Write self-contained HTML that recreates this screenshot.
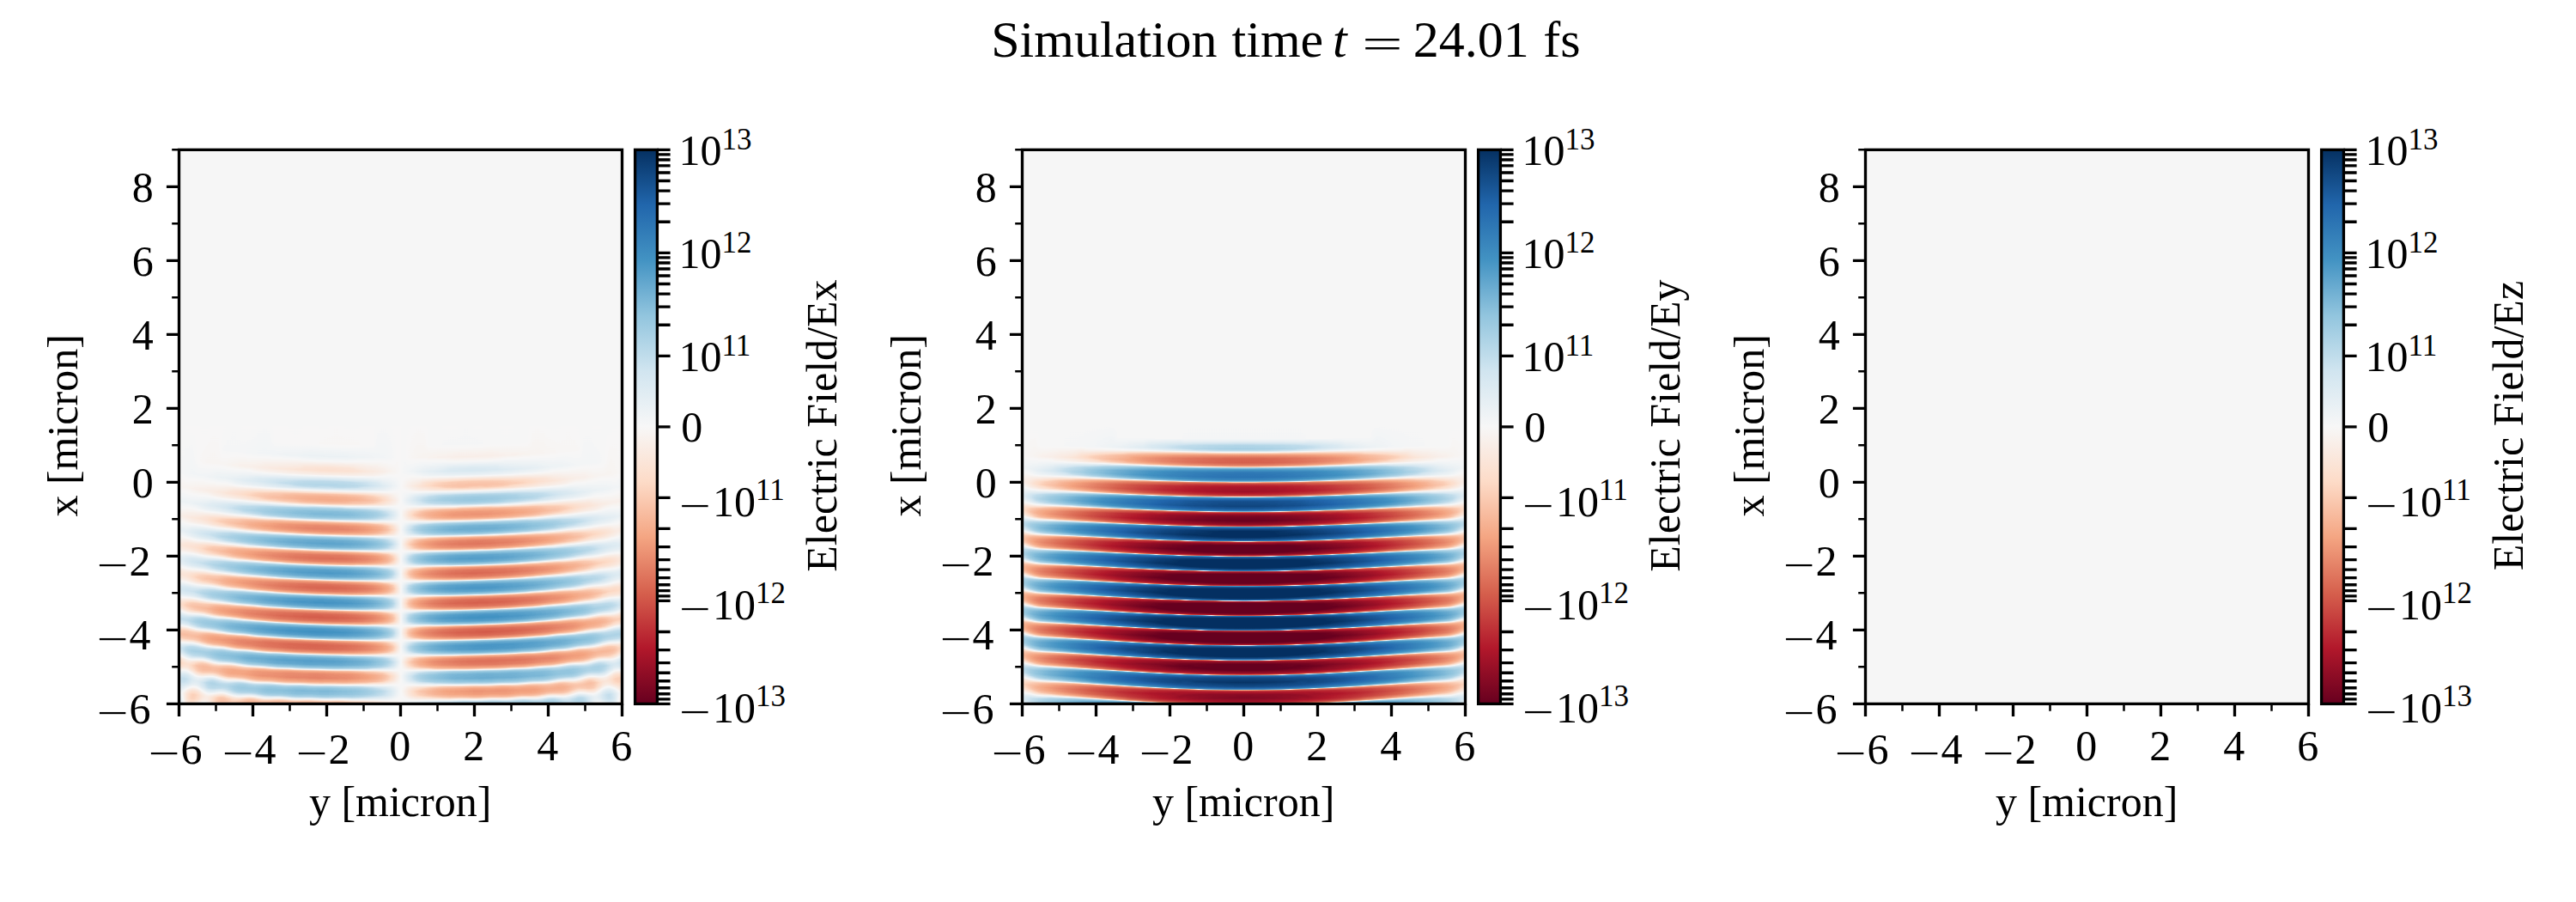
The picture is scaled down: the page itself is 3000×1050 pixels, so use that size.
<!DOCTYPE html><html><head><meta charset="utf-8"><title>Simulation time t = 24.01 fs</title>
<style>html,body{margin:0;padding:0;background:#fff}#f{position:relative;width:3000px;height:1050px;overflow:hidden;background:#fff}.im{position:absolute;top:174.35px;width:516px;height:645px;background:#f6f6f6;overflow:hidden}.fl{position:absolute;left:-6px;top:0;width:528px;height:645px;background:#808080;filter:url(#cm)}.fl i{position:absolute;top:322px;bottom:0;width:6.5px;display:block}.cb{position:absolute;top:174.35px;width:25.8px;height:645px;background:linear-gradient(#053061,#2166ac 10%,#4393c3 20%,#92c5de 30%,#d1e5f0 40%,#f7f7f7 50%,#fddbc7 60%,#f4a582 70%,#d6604d 80%,#b2182b 90%,#67001f)}
.a0{background:linear-gradient(#808080 0%,#808080 16.41%,#7c7c7c 21.4%,#858585 26.78%,#797979 32%,#8a8a8a 37.19%,#737373 42.65%,#8b8b8b 47.87%,#868686 49.23%,#727272 51.97%,#6f6f6f 53.13%,#747474 54.53%,#8e8e8e 57.59%,#929292 58.78%,#8d8d8d 59.98%,#727272 62.69%,#6d6d6d 63.97%,#737373 65.17%,#989898 67.92%,#9f9f9f 69.23%,#969696 70.63%,#6b6b6b 73.1%,#5f5f5f 74.19%,#626262 75.66%,#8d8d8d 78.44%,#969696 79.76%,#8d8d8d 81.08%,#656565 83.9%,#5f5f5f 85.18%,#656565 86.42%,#878787 89.09%,#919191 90.4%,#929292 91.72%,#838383 95.7%,#9b9b9b 100%)}
.a1{background:linear-gradient(#808080 0%,#818181 16.76%,#7c7c7c 21.75%,#868686 27.05%,#777 32.39%,#8a8a8a 37.54%,#707070 42.92%,#757575 44.31%,#8b8b8b 47.06%,#8f8f8f 48.26%,#8a8a8a 49.61%,#727272 52.32%,#6f6f6f 53.48%,#757575 54.88%,#939393 57.86%,#979797 59.06%,#919191 60.29%,#6e6e6e 63.08%,#676767 64.4%,#6e6e6e 65.56%,#969696 68.27%,#9f9f9f 69.54%,#929292 71.01%,#5f5f5f 73.57%,#585858 75%,#5f5f5f 76.35%,#909090 78.79%,#9c9c9c 80.15%,#979797 81.35%,#707070 83.98%,#676767 85.29%,#6d6d6d 86.61%,#959595 89.47%,#a0a0a0 90.91%,#9d9d9d 92.3%,#808080 96.21%,#888 100%)}
.a2{background:linear-gradient(#7f7f7f 0%,#828282 17.03%,#7c7c7c 22.14%,#868686 27.32%,#747474 32.7%,#8c8c8c 37.93%,#878787 39.32%,#717171 42.03%,#6e6e6e 43.19%,#747474 44.58%,#909090 47.41%,#949494 48.61%,#8e8e8e 49.96%,#717171 52.67%,#6d6d6d 53.87%,#747474 55.26%,#959595 58.13%,#9a9a9a 59.29%,#909090 60.76%,#636363 63.62%,#5e5e5e 64.74%,#686868 66.06%,#9a9a9a 68.85%,#a1a1a1 69.97%,#949494 71.32%,#5f5f5f 73.72%,#575757 75.27%,#5f5f5f 76.66%,#a0a0a0 79.45%,#a6a6a6 80.73%,#a0a0a0 82%,#777 84.4%,#6b6b6b 85.68%,#707070 86.96%,#969696 89.78%,#9e9e9e 91.22%,#989898 92.61%,#767676 95.32%,#6c6c6c 96.56%,#6a6a6a 97.95%,#737373 100%)}
.a3{background:linear-gradient(#7f7f7f 0%,#838383 17.22%,#7a7a7a 22.48%,#878787 27.67%,#727272 32.97%,#777 34.37%,#8d8d8d 37.11%,#909090 38.27%,#8a8a8a 39.63%,#707070 42.34%,#6c6c6c 43.5%,#737373 44.89%,#949494 47.68%,#989898 48.84%,#909090 50.23%,#6d6d6d 53.02%,#676767 54.22%,#707070 55.61%,#969696 58.48%,#9b9b9b 59.6%,#8f8f8f 61.07%,#5f5f5f 63.7%,#5a5a5a 65.02%,#626262 66.29%,#a0a0a0 69.08%,#a6a6a6 70.36%,#9e9e9e 71.59%,#5f5f5f 74.11%,#575757 75.58%,#5f5f5f 76.9%,#a0a0a0 79.3%,#aaa 81%,#a0a0a0 82.7%,#717171 84.87%,#636363 86.22%,#676767 87.46%,#8b8b8b 90.13%,#939393 91.45%,#8c8c8c 92.88%,#6a6a6a 95.51%,#5f5f5f 96.75%,#606060 98.18%,#6e6e6e 100%)}
.a4{background:linear-gradient(#7f7f7f 0%,#7f7f7f 12.5%,#838383 17.49%,#797979 22.76%,#898989 28.02%,#707070 33.24%,#767676 34.64%,#909090 37.38%,#949494 38.54%,#8d8d8d 39.94%,#6e6e6e 42.69%,#696969 43.85%,#717171 45.2%,#969696 47.95%,#9b9b9b 49.11%,#929292 50.5%,#676767 53.33%,#606060 54.53%,#6b6b6b 55.92%,#999 58.78%,#a0a0a0 59.95%,#929292 61.38%,#5f5f5f 63.82%,#585858 65.25%,#5f5f5f 66.49%,#a0a0a0 68.92%,#a9a9a9 69.74%,#ababab 70.67%,#a0a0a0 72.21%,#5f5f5f 74.38%,#555 75.93%,#5f5f5f 77.36%,#a0a0a0 79.57%,#ababab 81.19%,#a0a0a0 82.86%,#646464 85.22%,#595959 86.42%,#5f5f5f 88.27%,#848484 90.56%,#8f8f8f 91.87%,#8a8a8a 93.23%,#6c6c6c 95.78%,#646464 96.98%,#676767 98.34%,#7a7a7a 100%)}
.a5{background:linear-gradient(#808080 0%,#7e7e7e 12.77%,#838383 17.8%,#787878 22.99%,#8b8b8b 28.29%,#868686 29.76%,#717171 32.43%,#6e6e6e 33.51%,#757575 34.91%,#939393 37.65%,#989898 38.82%,#8f8f8f 40.21%,#696969 42.96%,#646464 44.16%,#6d6d6d 45.51%,#979797 48.22%,#9e9e9e 49.42%,#939393 50.77%,#626262 53.6%,#5d5d5d 54.8%,#5f5f5f 55.53%,#676767 56.15%,#a0a0a0 59.09%,#a5a5a5 60.29%,#9b9b9b 61.57%,#5f5f5f 64.05%,#565656 65.56%,#5f5f5f 66.83%,#a3a3a3 69.08%,#acacac 69.93%,#aeaeae 70.9%,#aaa 71.87%,#a0a0a0 72.6%,#5d5d5d 74.54%,#545454 75.27%,#515151 76.2%,#545454 77.13%,#5d5d5d 77.9%,#a0a0a0 79.99%,#aaa 81.19%,#a8a8a8 82.16%,#a0a0a0 83.01%,#5f5f5f 85.37%,#565656 86.69%,#575757 87.77%,#5e5e5e 88.78%,#8b8b8b 90.94%,#999 92.34%,#969696 93.65%,#797979 96.13%,#727272 97.25%,#757575 98.49%,#848484 100%)}
.a6{background:linear-gradient(#808080 0%,#7d7d7d 12.96%,#848484 18.11%,#777 23.22%,#8e8e8e 28.56%,#888 29.99%,#6e6e6e 32.7%,#6b6b6b 33.78%,#737373 35.18%,#969696 37.89%,#9b9b9b 39.05%,#919191 40.44%,#646464 43.23%,#5e5e5e 44.43%,#696969 45.74%,#9c9c9c 48.57%,#a2a2a2 49.73%,#979797 51.04%,#5f5f5f 53.83%,#5a5a5a 55.03%,#646464 56.35%,#a0a0a0 58.94%,#a9a9a9 60.53%,#a0a0a0 61.92%,#5e5e5e 64.2%,#545454 65.83%,#5f5f5f 67.3%,#a3a3a3 69.31%,#adadad 70.12%,#b0b0b0 71.13%,#acacac 72.1%,#a1a1a1 72.83%,#5a5a5a 74.65%,#505050 75.46%,#4d4d4d 76.47%,#505050 77.48%,#5a5a5a 78.33%,#a0a0a0 80.26%,#acacac 81.58%,#aaa 82.59%,#a1a1a1 83.44%,#5f5f5f 85.72%,#565656 86.88%,#575757 87.89%,#5f5f5f 88.82%,#979797 91.22%,#a4a4a4 92.45%,#a0a0a0 94.31%,#808080 96.52%,#767676 97.64%,#767676 98.76%,#7f7f7f 100%)}
.a7{background:linear-gradient(#7f7f7f 0%,#7d7d7d 13.2%,#858585 18.34%,#757575 23.49%,#7a7a7a 24.88%,#8e8e8e 27.63%,#909090 28.79%,#898989 30.22%,#6a6a6a 32.97%,#666 34.06%,#6f6f6f 35.41%,#999 38.16%,#9f9f9f 39.32%,#939393 40.71%,#5f5f5f 43.5%,#5b5b5b 44.66%,#656565 45.94%,#a0a0a0 48.68%,#a6a6a6 50%,#9e9e9e 51.24%,#5f5f5f 53.95%,#585858 55.3%,#606060 56.54%,#a1a1a1 59.02%,#a9a9a9 59.83%,#acacac 60.76%,#a9a9a9 61.61%,#a0a0a0 62.31%,#5c5c5c 64.32%,#535353 65.13%,#505050 66.1%,#545454 67.07%,#5f5f5f 67.8%,#a5a5a5 69.62%,#afafaf 70.43%,#b1b1b1 71.4%,#adadad 72.37%,#a1a1a1 73.1%,#585858 74.85%,#4d4d4d 75.7%,#4a4a4a 76.78%,#4f4f4f 77.9%,#5c5c5c 78.75%,#a4a4a4 80.5%,#adadad 81.23%,#b0b0b0 82.2%,#acacac 83.2%,#a3a3a3 84.02%,#636363 86.07%,#585858 87.07%,#585858 88.04%,#5f5f5f 88.89%,#a0a0a0 91.56%,#a8a8a8 92.84%,#a0a0a0 94.7%,#797979 96.79%,#6b6b6b 97.87%,#676767 98.88%,#6d6d6d 100%)}
.a8{background:linear-gradient(#7f7f7f 0%,#7d7d7d 13.43%,#878787 18.54%,#737373 23.72%,#797979 25.15%,#8f8f8f 27.86%,#939393 29.02%,#8a8a8a 30.46%,#676767 33.17%,#626262 34.29%,#6c6c6c 35.64%,#9d9d9d 38.43%,#a2a2a2 39.59%,#a0a0a0 40.25%,#979797 40.91%,#5f5f5f 43.54%,#595959 44.89%,#616161 46.13%,#a0a0a0 48.65%,#a9a9a9 50.23%,#a0a0a0 51.63%,#5f5f5f 53.99%,#555 55.57%,#5f5f5f 56.97%,#a2a2a2 59.21%,#ababab 60.02%,#aeaeae 60.99%,#aaa 61.88%,#a0a0a0 62.58%,#595959 64.47%,#4f4f4f 65.33%,#4c4c4c 66.33%,#515151 67.38%,#5e5e5e 68.15%,#a7a7a7 69.85%,#b1b1b1 70.67%,#b4b4b4 71.67%,#afafaf 72.68%,#a2a2a2 73.45%,#575757 75.08%,#4c4c4c 75.93%,#494949 77.01%,#4f4f4f 78.13%,#5c5c5c 78.95%,#a6a6a6 80.61%,#b0b0b0 81.42%,#b4b4b4 82.47%,#afafaf 83.55%,#a4a4a4 84.44%,#606060 86.42%,#575757 87.31%,#565656 88.39%,#5e5e5e 89.36%,#9c9c9c 91.87%,#a5a5a5 93.19%,#a0a0a0 94.5%,#5f5f5f 97.79%,#5b5b5b 98.84%,#5d5d5d 100%)}
.a9{background:linear-gradient(#7f7f7f 0%,#818181 8.82%,#7d7d7d 13.66%,#878787 18.77%,#717171 23.96%,#777 25.35%,#929292 28.1%,#959595 29.26%,#8c8c8c 30.69%,#636363 33.4%,#5e5e5e 34.52%,#6a6a6a 35.87%,#a0a0a0 38.51%,#a6a6a6 39.86%,#9d9d9d 41.1%,#5f5f5f 43.58%,#565656 45.16%,#5f5f5f 46.44%,#a1a1a1 48.72%,#a9a9a9 49.54%,#acacac 50.46%,#a0a0a0 51.97%,#5d5d5d 54.06%,#555 54.84%,#525252 55.8%,#555 56.7%,#5f5f5f 57.43%,#a4a4a4 59.44%,#adadad 60.26%,#b0b0b0 61.22%,#acacac 62.15%,#a0a0a0 62.89%,#585858 64.63%,#4d4d4d 65.48%,#4a4a4a 66.56%,#4f4f4f 67.61%,#5d5d5d 68.38%,#a0a0a0 69.66%,#a9a9a9 70.01%,#b4b4b4 70.86%,#b7b7b7 71.9%,#b2b2b2 72.95%,#a5a5a5 73.76%,#5e5e5e 75.04%,#565656 75.35%,#4b4b4b 76.2%,#474747 77.24%,#4d4d4d 78.37%,#5b5b5b 79.18%,#a0a0a0 80.5%,#a8a8a8 80.8%,#b2b2b2 81.62%,#b5b5b5 82.66%,#b1b1b1 83.75%,#a5a5a5 84.64%,#5f5f5f 86.42%,#525252 87.5%,#525252 88.7%,#5a5a5a 89.82%,#979797 92.18%,#a0a0a0 92.8%,#a3a3a3 93.5%,#a0a0a0 94.35%,#9a9a9a 94.81%,#5f5f5f 97.64%,#595959 98.76%,#5c5c5c 100%)}
.a10{background:linear-gradient(#808080 0%,#818181 8.94%,#7c7c7c 13.89%,#888 18.96%,#6e6e6e 24.15%,#767676 25.58%,#959595 28.33%,#999 29.49%,#8e8e8e 30.92%,#5f5f5f 33.63%,#5c5c5c 34.75%,#5f5f5f 35.53%,#676767 36.03%,#a0a0a0 38.47%,#a9a9a9 40.05%,#a0a0a0 41.37%,#5e5e5e 43.65%,#565656 44.43%,#535353 45.36%,#5f5f5f 46.87%,#a3a3a3 48.92%,#acacac 49.73%,#aeaeae 50.7%,#aaa 51.59%,#a0a0a0 52.28%,#5b5b5b 54.22%,#525252 55.03%,#4f4f4f 56.04%,#535353 57%,#5e5e5e 57.78%,#a6a6a6 59.6%,#b0b0b0 60.45%,#b3b3b3 61.46%,#aeaeae 62.46%,#a2a2a2 63.2%,#606060 64.47%,#575757 64.82%,#4c4c4c 65.67%,#484848 66.76%,#4d4d4d 67.8%,#5b5b5b 68.58%,#a0a0a0 69.74%,#ababab 70.12%,#b6b6b6 70.98%,#bababa 72.06%,#b6b6b6 73.1%,#a9a9a9 73.92%,#9f9f9f 74.23%,#5b5b5b 75.31%,#4d4d4d 75.97%,#464646 76.93%,#484848 78.17%,#545454 79.22%,#606060 79.64%,#a3a3a3 80.84%,#b0b0b0 81.58%,#b6b6b6 82.62%,#b2b2b2 83.82%,#a6a6a6 84.75%,#5e5e5e 86.42%,#4f4f4f 87.65%,#4e4e4e 89.01%,#585858 90.21%,#999 92.49%,#a1a1a1 92.92%,#a5a5a5 93.73%,#a0a0a0 95.05%,#606060 98.22%,#5d5d5d 99.11%,#616161 100%)}
.a11{background:linear-gradient(#808080 0%,#818181 8.94%,#7b7b7b 14.09%,#8a8a8a 19.16%,#848484 20.59%,#6f6f6f 23.26%,#6c6c6c 24.34%,#757575 25.77%,#999 28.56%,#9e9e9e 29.68%,#919191 31.11%,#5f5f5f 33.59%,#595959 34.95%,#626262 36.18%,#a1a1a1 38.51%,#a9a9a9 39.32%,#ababab 40.25%,#a0a0a0 41.68%,#5c5c5c 43.77%,#535353 44.58%,#505050 45.59%,#555 46.52%,#5f5f5f 47.21%,#a4a4a4 49.07%,#adadad 49.88%,#b0b0b0 50.89%,#acacac 51.86%,#a0a0a0 52.59%,#595959 54.37%,#4f4f4f 55.22%,#4c4c4c 56.23%,#525252 57.28%,#5e5e5e 58.05%,#a0a0a0 59.4%,#a8a8a8 59.75%,#b3b3b3 60.6%,#b6b6b6 61.65%,#b1b1b1 62.69%,#a3a3a3 63.47%,#5f5f5f 64.67%,#545454 65.05%,#494949 65.91%,#464646 66.95%,#4b4b4b 68%,#595959 68.77%,#a0a0a0 69.89%,#acacac 70.28%,#b8b8b8 71.13%,#bcbcbc 72.21%,#b8b8b8 73.26%,#ababab 74.11%,#a1a1a1 74.42%,#595959 75.46%,#4b4b4b 76.16%,#434343 77.17%,#454545 78.48%,#525252 79.53%,#5e5e5e 79.95%,#a3a3a3 81.08%,#b1b1b1 81.81%,#b7b7b7 82.82%,#b4b4b4 84.02%,#a7a7a7 84.95%,#5f5f5f 86.53%,#4d4d4d 87.85%,#4d4d4d 89.2%,#585858 90.36%,#a0a0a0 92.57%,#ababab 93.89%,#a9a9a9 94.93%,#a0a0a0 95.86%,#777 97.56%,#676767 98.53%,#626262 99.26%,#646464 100%)}
.a12{background:linear-gradient(#808080 0%,#818181 9.09%,#7a7a7a 14.24%,#8c8c8c 19.35%,#868686 20.78%,#6d6d6d 23.45%,#6a6a6a 24.54%,#747474 25.97%,#9d9d9d 28.75%,#a1a1a1 29.91%,#949494 31.27%,#5f5f5f 33.55%,#565656 35.14%,#5f5f5f 36.42%,#a2a2a2 38.66%,#ababab 39.47%,#adadad 40.44%,#aaa 41.29%,#a0a0a0 41.99%,#5a5a5a 43.92%,#505050 44.78%,#4e4e4e 45.78%,#535353 46.75%,#5e5e5e 47.48%,#a6a6a6 49.23%,#b0b0b0 50.08%,#b3b3b3 51.08%,#aeaeae 52.09%,#a1a1a1 52.86%,#585858 54.53%,#4d4d4d 55.38%,#4a4a4a 56.42%,#505050 57.51%,#5d5d5d 58.24%,#9f9f9f 59.48%,#aaa 59.87%,#b5b5b5 60.76%,#b9b9b9 61.84%,#b3b3b3 62.93%,#a5a5a5 63.7%,#5e5e5e 64.82%,#535353 65.21%,#474747 66.06%,#444 67.14%,#4a4a4a 68.27%,#595959 69.04%,#a1a1a1 70.09%,#adadad 70.47%,#bababa 71.32%,#bebebe 72.41%,#b9b9b9 73.49%,#adadad 74.26%,#a1a1a1 74.61%,#595959 75.58%,#494949 76.28%,#414141 77.28%,#434343 78.64%,#505050 79.72%,#5f5f5f 80.22%,#a5a5a5 81.27%,#b3b3b3 82%,#b9b9b9 83.09%,#b5b5b5 84.29%,#a8a8a8 85.26%,#5e5e5e 86.8%,#4e4e4e 88%,#4d4d4d 89.28%,#575757 90.4%,#5f5f5f 90.79%,#a0a0a0 92.45%,#aaa 93.19%,#aeaeae 94.12%,#acacac 95.12%,#a4a4a4 96.05%,#686868 98.45%,#5f5f5f 99.11%,#5e5e5e 100%)}
.a13{background:linear-gradient(#7f7f7f 0%,#818181 9.29%,#797979 14.4%,#8e8e8e 19.54%,#878787 20.94%,#6b6b6b 23.61%,#676767 24.69%,#727272 26.12%,#a0a0a0 28.91%,#a4a4a4 30.11%,#a0a0a0 30.84%,#979797 31.39%,#5e5e5e 33.55%,#565656 34.37%,#545454 35.33%,#5f5f5f 36.76%,#a3a3a3 38.78%,#adadad 39.63%,#b0b0b0 40.63%,#ababab 41.56%,#a0a0a0 42.26%,#595959 44.04%,#4f4f4f 44.89%,#4c4c4c 45.94%,#515151 46.98%,#5e5e5e 47.72%,#9f9f9f 49.03%,#a8a8a8 49.38%,#b3b3b3 50.23%,#b6b6b6 51.28%,#b0b0b0 52.32%,#a3a3a3 53.1%,#5f5f5f 54.37%,#565656 54.72%,#4b4b4b 55.57%,#484848 56.62%,#4e4e4e 57.7%,#5b5b5b 58.44%,#9f9f9f 59.6%,#acacac 60.02%,#b7b7b7 60.91%,#bbb 62.04%,#b5b5b5 63.12%,#a7a7a7 63.85%,#5f5f5f 64.9%,#515151 65.33%,#454545 66.22%,#414141 67.34%,#484848 68.5%,#575757 69.27%,#a0a0a0 70.24%,#afafaf 70.67%,#bcbcbc 71.56%,#bfbfbf 72.68%,#b9b9b9 73.84%,#aaa 74.61%,#5f5f5f 75.58%,#505050 76.01%,#434343 76.9%,#3f3f3f 78.02%,#454545 79.26%,#555 80.15%,#a0a0a0 81.23%,#adadad 81.62%,#b8b8b8 82.43%,#bcbcbc 83.51%,#b6b6b6 84.67%,#a9a9a9 85.57%,#5e5e5e 87.04%,#4e4e4e 88.16%,#4c4c4c 89.43%,#575757 90.6%,#5f5f5f 90.98%,#a0a0a0 92.57%,#ababab 93.3%,#afafaf 94.31%,#acacac 95.32%,#a3a3a3 96.17%,#5f5f5f 98.49%,#565656 100%)}
.a14{background:linear-gradient(#7f7f7f 0%,#828282 9.44%,#797979 14.59%,#909090 19.7%,#888 21.09%,#686868 23.76%,#646464 24.88%,#707070 26.32%,#a0a0a0 28.83%,#a6a6a6 30.26%,#9c9c9c 31.46%,#5d5d5d 33.67%,#545454 34.52%,#515151 35.53%,#555 36.38%,#5f5f5f 37.04%,#a6a6a6 38.93%,#afafaf 39.78%,#b2b2b2 40.83%,#adadad 41.8%,#a1a1a1 42.53%,#575757 44.2%,#4d4d4d 45.05%,#4a4a4a 46.13%,#4f4f4f 47.17%,#5d5d5d 47.91%,#a0a0a0 49.15%,#aaa 49.5%,#b5b5b5 50.35%,#b8b8b8 51.43%,#b2b2b2 52.52%,#a4a4a4 53.29%,#5e5e5e 54.49%,#555 54.84%,#494949 55.69%,#464646 56.77%,#4c4c4c 57.89%,#5a5a5a 58.67%,#a0a0a0 59.75%,#adadad 60.18%,#b9b9b9 61.07%,#bcbcbc 62.19%,#b6b6b6 63.27%,#a7a7a7 64.05%,#5f5f5f 65.02%,#505050 65.44%,#434343 66.33%,#3f3f3f 67.49%,#454545 68.61%,#555 69.43%,#a2a2a2 70.39%,#b1b1b1 70.82%,#bebebe 71.71%,#c1c1c1 72.83%,#bbb 74.03%,#aaa 74.85%,#5e5e5e 75.77%,#4f4f4f 76.2%,#424242 77.09%,#3e3e3e 78.21%,#454545 79.45%,#555 80.3%,#9f9f9f 81.31%,#aeaeae 81.73%,#bababa 82.59%,#bebebe 83.67%,#b8b8b8 84.87%,#aaa 85.76%,#a1a1a1 86.07%,#5e5e5e 87.15%,#4c4c4c 88.31%,#4a4a4a 89.67%,#555 90.87%,#5f5f5f 91.33%,#a1a1a1 92.88%,#aaa 93.58%,#aeaeae 94.47%,#acacac 95.39%,#a3a3a3 96.17%,#5e5e5e 98.3%,#565656 99.07%,#535353 100%)}
.a15{background:linear-gradient(#7f7f7f 0%,#828282 9.56%,#787878 14.74%,#7d7d7d 16.14%,#8f8f8f 18.77%,#919191 19.85%,#898989 21.25%,#656565 23.92%,#606060 25%,#6d6d6d 26.43%,#a0a0a0 28.83%,#a8a8a8 30.46%,#a0a0a0 31.62%,#5b5b5b 33.78%,#525252 34.67%,#4f4f4f 35.68%,#545454 36.57%,#5f5f5f 37.27%,#a7a7a7 39.05%,#b2b2b2 39.94%,#b4b4b4 40.98%,#afafaf 41.99%,#a2a2a2 42.72%,#5f5f5f 44%,#565656 44.31%,#4b4b4b 45.2%,#484848 46.28%,#4d4d4d 47.33%,#5a5a5a 48.07%,#a1a1a1 49.26%,#ababab 49.61%,#b6b6b6 50.5%,#bababa 51.63%,#b4b4b4 52.67%,#a6a6a6 53.44%,#5f5f5f 54.57%,#535353 54.95%,#474747 55.84%,#444 56.97%,#4a4a4a 58.09%,#585858 58.86%,#a1a1a1 59.91%,#afafaf 60.33%,#bbb 61.22%,#bebebe 62.35%,#b8b8b8 63.43%,#a9a9a9 64.2%,#5d5d5d 65.17%,#4e4e4e 65.6%,#424242 66.49%,#3e3e3e 67.65%,#444 68.81%,#545454 69.58%,#616161 69.85%,#a0a0a0 70.47%,#b2b2b2 70.94%,#bfbfbf 71.79%,#c3c3c3 72.95%,#bebebe 74.11%,#b0b0b0 74.92%,#a1a1a1 75.27%,#575757 76.08%,#474747 76.7%,#3e3e3e 77.67%,#3f3f3f 79.06%,#4c4c4c 80.19%,#5f5f5f 80.73%,#a9a9a9 81.66%,#b8b8b8 82.43%,#bfbfbf 83.59%,#bababa 84.87%,#acacac 85.84%,#9f9f9f 86.22%,#5e5e5e 87.19%,#515151 87.69%,#494949 88.43%,#484848 89.86%,#535353 91.14%,#5f5f5f 91.64%,#a1a1a1 93.11%,#aaa 93.77%,#aeaeae 94.62%,#acacac 95.55%,#a3a3a3 96.32%,#5f5f5f 98.37%,#565656 99.11%,#535353 100%)}
.a16{background:linear-gradient(#808080 0%,#838383 9.71%,#777 14.9%,#7c7c7c 16.29%,#919191 18.89%,#939393 19.97%,#898989 21.4%,#616161 24.11%,#5e5e5e 25.23%,#6b6b6b 26.59%,#a0a0a0 28.79%,#a8a8a8 29.64%,#aaa 30.61%,#a0a0a0 31.89%,#5a5a5a 33.9%,#505050 34.79%,#4d4d4d 35.84%,#535353 36.8%,#5f5f5f 37.5%,#a8a8a8 39.13%,#b3b3b3 40.02%,#b6b6b6 41.14%,#b1b1b1 42.14%,#a4a4a4 42.88%,#5f5f5f 44.08%,#545454 44.47%,#494949 45.36%,#454545 46.44%,#4b4b4b 47.48%,#595959 48.26%,#a1a1a1 49.38%,#acacac 49.77%,#b8b8b8 50.66%,#bcbcbc 51.78%,#b5b5b5 52.86%,#a6a6a6 53.64%,#5e5e5e 54.68%,#525252 55.07%,#454545 55.96%,#424242 57.12%,#484848 58.24%,#575757 59.02%,#9f9f9f 59.98%,#b0b0b0 60.45%,#bdbdbd 61.34%,#c0c0c0 62.5%,#bababa 63.62%,#aaa 64.4%,#5f5f5f 65.29%,#4d4d4d 65.75%,#404040 66.64%,#3c3c3c 67.8%,#434343 68.96%,#535353 69.74%,#616161 70.01%,#a0a0a0 70.59%,#b3b3b3 71.05%,#c1c1c1 71.94%,#c5c5c5 73.1%,#bfbfbf 74.26%,#b1b1b1 75.08%,#a0a0a0 75.46%,#555 76.24%,#454545 76.86%,#3c3c3c 77.83%,#3d3d3d 79.26%,#4b4b4b 80.38%,#5e5e5e 80.92%,#a9a9a9 81.81%,#b9b9b9 82.59%,#bfbfbf 83.71%,#bbb 84.98%,#adadad 85.95%,#9f9f9f 86.34%,#5d5d5d 87.27%,#505050 87.77%,#484848 88.51%,#464646 89.98%,#525252 91.29%,#606060 91.83%,#a1a1a1 93.15%,#acacac 93.85%,#b1b1b1 94.78%,#aeaeae 95.78%,#a5a5a5 96.63%,#5f5f5f 98.72%,#555 100%)}
.a17{background:linear-gradient(#808080 0%,#838383 9.83%,#757575 15.02%,#7c7c7c 16.45%,#929292 19.04%,#959595 20.12%,#8b8b8b 21.52%,#5f5f5f 24.23%,#5c5c5c 25.39%,#5f5f5f 26.08%,#686868 26.66%,#a2a2a2 28.87%,#aaa 29.76%,#adadad 30.73%,#a9a9a9 31.54%,#a0a0a0 32.16%,#595959 34.02%,#4e4e4e 34.91%,#4b4b4b 35.99%,#515151 36.96%,#5d5d5d 37.65%,#9f9f9f 38.89%,#a9a9a9 39.24%,#b5b5b5 40.17%,#b8b8b8 41.29%,#b2b2b2 42.34%,#a4a4a4 43.07%,#5f5f5f 44.16%,#535353 44.54%,#474747 45.43%,#444 46.59%,#4a4a4a 47.68%,#595959 48.45%,#9f9f9f 49.46%,#aeaeae 49.88%,#bababa 50.77%,#bdbdbd 51.9%,#b7b7b7 53.02%,#a8a8a8 53.79%,#606060 54.76%,#515151 55.19%,#444 56.08%,#404040 57.24%,#464646 58.4%,#565656 59.17%,#a1a1a1 60.1%,#b2b2b2 60.57%,#bfbfbf 61.49%,#c2c2c2 62.65%,#bcbcbc 63.78%,#acacac 64.55%,#9e9e9e 64.82%,#5d5d5d 65.44%,#4c4c4c 65.87%,#3f3f3f 66.76%,#3b3b3b 67.96%,#414141 69.12%,#525252 69.89%,#606060 70.16%,#a0a0a0 70.7%,#b4b4b4 71.17%,#c2c2c2 72.06%,#c6c6c6 73.22%,#c1c1c1 74.38%,#b3b3b3 75.19%,#a2a2a2 75.58%,#555 76.32%,#444 76.97%,#3b3b3b 77.94%,#3c3c3c 79.41%,#4a4a4a 80.57%,#5e5e5e 81.11%,#aaa 81.97%,#bababa 82.74%,#c0c0c0 83.86%,#bcbcbc 85.14%,#adadad 86.11%,#9f9f9f 86.49%,#5d5d5d 87.38%,#4f4f4f 87.89%,#474747 88.62%,#454545 90.05%,#515151 91.33%,#5e5e5e 91.87%,#a1a1a1 93.11%,#aeaeae 93.85%,#b4b4b4 94.85%,#b1b1b1 95.98%,#a5a5a5 96.94%,#5f5f5f 98.96%,#555 100%)}
.a18{background:linear-gradient(#808080 0%,#838383 9.98%,#747474 15.13%,#7b7b7b 16.56%,#959595 19.16%,#989898 20.24%,#8c8c8c 21.67%,#5f5f5f 24.15%,#5a5a5a 25.5%,#5e5e5e 26.32%,#656565 26.74%,#a3a3a3 28.95%,#acacac 29.84%,#aeaeae 30.88%,#aaa 31.73%,#a0a0a0 32.35%,#585858 34.09%,#4d4d4d 34.98%,#4a4a4a 36.11%,#4f4f4f 37.11%,#5c5c5c 37.81%,#a1a1a1 39.01%,#aaa 39.36%,#b6b6b6 40.25%,#bababa 41.41%,#b4b4b4 42.45%,#a6a6a6 43.19%,#606060 44.23%,#525252 44.66%,#454545 45.55%,#424242 46.71%,#484848 47.79%,#575757 48.57%,#a1a1a1 49.57%,#afafaf 50%,#bcbcbc 50.89%,#bfbfbf 52.05%,#b9b9b9 53.17%,#a9a9a9 53.95%,#606060 54.88%,#4f4f4f 55.34%,#424242 56.27%,#3e3e3e 57.43%,#454545 58.55%,#555 59.33%,#a0a0a0 60.18%,#b2b2b2 60.64%,#c0c0c0 61.57%,#c4c4c4 62.77%,#bdbdbd 63.93%,#acacac 64.71%,#a1a1a1 64.94%,#5f5f5f 65.52%,#4b4b4b 65.98%,#3d3d3d 66.87%,#393939 68.07%,#404040 69.23%,#515151 70.05%,#5f5f5f 70.32%,#a2a2a2 70.86%,#b4b4b4 71.28%,#c2c2c2 72.14%,#c8c8c8 73.34%,#c2c2c2 74.5%,#b3b3b3 75.35%,#a0a0a0 75.74%,#545454 76.43%,#424242 77.09%,#393939 78.06%,#3b3b3b 79.53%,#494949 80.69%,#5d5d5d 81.23%,#ababab 82.08%,#bbb 82.86%,#c2c2c2 83.98%,#bdbdbd 85.29%,#aeaeae 86.3%,#9f9f9f 86.69%,#5c5c5c 87.54%,#4f4f4f 88.04%,#474747 88.74%,#454545 90.13%,#515151 91.41%,#5f5f5f 91.95%,#a2a2a2 93.15%,#b0b0b0 93.89%,#b5b5b5 94.93%,#b2b2b2 96.09%,#a6a6a6 97.06%,#5f5f5f 98.92%,#535353 100%)}
.a19{background:linear-gradient(#7f7f7f 0%,#7f7f7f 5.84%,#848484 10.1%,#737373 15.25%,#7b7b7b 16.68%,#979797 19.27%,#9a9a9a 20.36%,#8d8d8d 21.79%,#5f5f5f 24.11%,#585858 25.66%,#626262 26.82%,#a4a4a4 29.06%,#aeaeae 29.95%,#b0b0b0 31%,#acacac 31.85%,#a1a1a1 32.51%,#5f5f5f 33.86%,#565656 34.21%,#4b4b4b 35.1%,#484848 36.22%,#4d4d4d 37.23%,#5b5b5b 37.96%,#a0a0a0 39.09%,#acacac 39.47%,#b8b8b8 40.4%,#bbb 41.56%,#b5b5b5 42.61%,#a7a7a7 43.34%,#5f5f5f 44.35%,#515151 44.78%,#444 45.7%,#404040 46.87%,#474747 47.95%,#565656 48.72%,#a0a0a0 49.65%,#b0b0b0 50.08%,#bdbdbd 50.97%,#c1c1c1 52.17%,#bababa 53.33%,#aaa 54.1%,#5f5f5f 54.99%,#4d4d4d 55.46%,#414141 56.35%,#3d3d3d 57.55%,#434343 58.67%,#535353 59.44%,#5e5e5e 59.67%,#a0a0a0 60.29%,#b3b3b3 60.76%,#c1c1c1 61.69%,#c5c5c5 62.89%,#bebebe 64.05%,#aeaeae 64.82%,#9e9e9e 65.09%,#5d5d5d 65.63%,#4a4a4a 66.1%,#3c3c3c 67.03%,#383838 68.23%,#3f3f3f 69.43%,#505050 70.2%,#5f5f5f 70.47%,#a2a2a2 70.98%,#b6b6b6 71.44%,#c4c4c4 72.33%,#c9c9c9 73.49%,#c3c3c3 74.65%,#b4b4b4 75.46%,#a2a2a2 75.85%,#545454 76.55%,#424242 77.21%,#393939 78.17%,#3a3a3a 79.64%,#494949 80.8%,#5e5e5e 81.35%,#a0a0a0 81.93%,#acacac 82.16%,#bcbcbc 82.93%,#c3c3c3 84.09%,#bfbfbf 85.41%,#afafaf 86.42%,#9f9f9f 86.84%,#5c5c5c 87.65%,#4e4e4e 88.16%,#464646 88.85%,#444 90.29%,#515151 91.56%,#606060 92.11%,#a3a3a3 93.27%,#b0b0b0 94%,#b5b5b5 95.05%,#b2b2b2 96.17%,#a7a7a7 97.06%,#5e5e5e 98.8%,#505050 100%)}
.a20{background:linear-gradient(#7f7f7f 0%,#7f7f7f 5.92%,#848484 10.22%,#727272 15.36%,#7a7a7a 16.76%,#999 19.39%,#9d9d9d 20.47%,#8f8f8f 21.87%,#5f5f5f 24.07%,#575757 25.77%,#5f5f5f 26.93%,#a5a5a5 29.14%,#afafaf 30.07%,#b2b2b2 31.11%,#acacac 32.04%,#a0a0a0 32.7%,#5e5e5e 33.94%,#555 34.29%,#494949 35.22%,#464646 36.34%,#4c4c4c 37.35%,#5a5a5a 38.08%,#a0a0a0 39.16%,#adadad 39.59%,#bababa 40.52%,#bdbdbd 41.68%,#b6b6b6 42.76%,#a7a7a7 43.5%,#606060 44.43%,#4f4f4f 44.89%,#424242 45.82%,#3f3f3f 46.98%,#454545 48.07%,#555 48.84%,#9f9f9f 49.73%,#b1b1b1 50.19%,#bebebe 51.08%,#c2c2c2 52.28%,#bbb 53.44%,#ababab 54.22%,#a0a0a0 54.45%,#5f5f5f 55.07%,#4d4d4d 55.53%,#3f3f3f 56.46%,#3b3b3b 57.66%,#424242 58.82%,#535353 59.6%,#5f5f5f 59.83%,#a1a1a1 60.41%,#b4b4b4 60.87%,#c2c2c2 61.8%,#c6c6c6 63%,#bfbfbf 64.16%,#afafaf 64.94%,#9f9f9f 65.21%,#5e5e5e 65.71%,#494949 66.18%,#3b3b3b 67.07%,#363636 68.3%,#3d3d3d 69.5%,#4f4f4f 70.32%,#5f5f5f 70.59%,#a0a0a0 71.05%,#b6b6b6 71.52%,#c5c5c5 72.41%,#cacaca 73.61%,#c4c4c4 74.77%,#b5b5b5 75.62%,#a2a2a2 76.01%,#535353 76.66%,#424242 77.28%,#383838 78.25%,#393939 79.72%,#484848 80.88%,#5f5f5f 81.46%,#9f9f9f 82%,#acacac 82.24%,#bdbdbd 83.01%,#c4c4c4 84.21%,#bfbfbf 85.53%,#b0b0b0 86.53%,#a1a1a1 86.92%,#5b5b5b 87.73%,#4d4d4d 88.24%,#454545 88.93%,#434343 90.4%,#505050 91.72%,#5e5e5e 92.26%,#a3a3a3 93.42%,#b0b0b0 94.12%,#b5b5b5 95.12%,#b2b2b2 96.21%,#a6a6a6 97.1%,#5e5e5e 98.76%,#4f4f4f 100%)}
.a21{background:linear-gradient(#7f7f7f 0%,#7f7f7f 6%,#858585 10.29%,#717171 15.48%,#7a7a7a 16.87%,#9a9a9a 19.5%,#9f9f9f 20.55%,#919191 21.94%,#5f5f5f 24.07%,#575757 24.92%,#555 25.89%,#5f5f5f 27.13%,#a6a6a6 29.22%,#b0b0b0 30.15%,#b3b3b3 31.23%,#aeaeae 32.16%,#a2a2a2 32.82%,#606060 33.98%,#555 34.37%,#484848 35.29%,#454545 36.46%,#4b4b4b 37.46%,#595959 38.2%,#a1a1a1 39.24%,#aeaeae 39.67%,#bbb 40.6%,#bebebe 41.76%,#b8b8b8 42.88%,#a8a8a8 43.61%,#5e5e5e 44.54%,#4f4f4f 44.97%,#414141 45.9%,#3e3e3e 47.1%,#444 48.18%,#545454 48.96%,#5f5f5f 49.19%,#a1a1a1 49.85%,#b2b2b2 50.27%,#c0c0c0 51.2%,#c4c4c4 52.4%,#bcbcbc 53.56%,#acacac 54.33%,#a0a0a0 54.57%,#606060 55.15%,#4c4c4c 55.61%,#3e3e3e 56.54%,#3a3a3a 57.78%,#414141 58.94%,#525252 59.71%,#5e5e5e 59.95%,#a0a0a0 60.49%,#b5b5b5 60.95%,#c3c3c3 61.88%,#c8c8c8 63.12%,#c1c1c1 64.28%,#b0b0b0 65.05%,#a0a0a0 65.33%,#5d5d5d 65.83%,#484848 66.29%,#3a3a3a 67.18%,#353535 68.42%,#3d3d3d 69.62%,#4f4f4f 70.43%,#606060 70.7%,#a3a3a3 71.17%,#b8b8b8 71.63%,#c6c6c6 72.52%,#cbcbcb 73.72%,#c5c5c5 74.88%,#b6b6b6 75.74%,#a2a2a2 76.12%,#535353 76.78%,#414141 77.4%,#373737 78.37%,#383838 79.84%,#474747 81%,#5f5f5f 81.58%,#a1a1a1 82.12%,#adadad 82.35%,#bebebe 83.13%,#c5c5c5 84.29%,#c0c0c0 85.6%,#b0b0b0 86.61%,#a0a0a0 87%,#5b5b5b 87.77%,#4d4d4d 88.24%,#444 88.97%,#424242 90.48%,#4f4f4f 91.83%,#5f5f5f 92.41%,#a3a3a3 93.54%,#b0b0b0 94.23%,#b6b6b6 95.24%,#b2b2b2 96.32%,#a7a7a7 97.21%,#5e5e5e 98.88%,#505050 100%)}
.a22{background:linear-gradient(#808080 0%,#7f7f7f 6.08%,#858585 10.41%,#707070 15.56%,#797979 16.99%,#9c9c9c 19.62%,#a0a0a0 20.74%,#929292 22.06%,#5e5e5e 24.15%,#565656 25%,#545454 25.97%,#5f5f5f 27.28%,#a7a7a7 29.3%,#b2b2b2 30.22%,#b4b4b4 31.35%,#afafaf 32.28%,#a3a3a3 32.93%,#606060 34.06%,#535353 34.48%,#474747 35.41%,#444 36.57%,#4a4a4a 37.58%,#585858 38.31%,#a1a1a1 39.32%,#afafaf 39.74%,#bcbcbc 40.67%,#c0c0c0 41.87%,#b9b9b9 43%,#a9a9a9 43.73%,#5e5e5e 44.62%,#4e4e4e 45.05%,#404040 45.98%,#3c3c3c 47.17%,#434343 48.3%,#535353 49.07%,#5e5e5e 49.3%,#a0a0a0 49.92%,#b3b3b3 50.39%,#c1c1c1 51.32%,#c5c5c5 52.52%,#bdbdbd 53.68%,#acacac 54.45%,#a0a0a0 54.68%,#5d5d5d 55.26%,#4b4b4b 55.69%,#3d3d3d 56.62%,#393939 57.86%,#404040 59.06%,#515151 59.83%,#5e5e5e 60.06%,#a2a2a2 60.6%,#b6b6b6 61.07%,#c5c5c5 62%,#c9c9c9 63.2%,#c2c2c2 64.4%,#b0b0b0 65.17%,#a1a1a1 65.44%,#5f5f5f 65.91%,#484848 66.37%,#393939 67.3%,#353535 68.54%,#3d3d3d 69.78%,#4f4f4f 70.55%,#616161 70.82%,#a2a2a2 71.25%,#b8b8b8 71.71%,#c7c7c7 72.6%,#ccc 73.8%,#c6c6c6 75%,#b6b6b6 75.85%,#a1a1a1 76.24%,#616161 76.66%,#515151 76.9%,#404040 77.52%,#363636 78.48%,#373737 79.95%,#464646 81.11%,#5f5f5f 81.7%,#9f9f9f 82.2%,#aeaeae 82.47%,#bebebe 83.24%,#c5c5c5 84.37%,#c0c0c0 85.72%,#b0b0b0 86.69%,#9f9f9f 87.07%,#5b5b5b 87.81%,#4c4c4c 88.31%,#434343 89.05%,#414141 90.56%,#4f4f4f 91.91%,#5f5f5f 92.49%,#a4a4a4 93.58%,#b1b1b1 94.27%,#b7b7b7 95.28%,#b3b3b3 96.48%,#a7a7a7 97.41%,#5f5f5f 99.03%,#515151 100%)}
.a23{background:linear-gradient(#808080 0%,#7f7f7f 6.15%,#858585 10.49%,#6f6f6f 15.63%,#797979 17.07%,#9e9e9e 19.74%,#a2a2a2 20.82%,#9f9f9f 21.4%,#939393 22.14%,#5d5d5d 24.19%,#555 25.08%,#535353 26.08%,#5f5f5f 27.44%,#a8a8a8 29.37%,#b3b3b3 30.3%,#b6b6b6 31.42%,#b0b0b0 32.39%,#a3a3a3 33.05%,#5f5f5f 34.13%,#525252 34.56%,#464646 35.49%,#434343 36.65%,#494949 37.69%,#585858 38.43%,#a1a1a1 39.4%,#afafaf 39.82%,#bdbdbd 40.75%,#c1c1c1 41.99%,#bababa 43.07%,#aaa 43.81%,#5d5d5d 44.7%,#4d4d4d 45.12%,#3f3f3f 46.05%,#3b3b3b 47.29%,#424242 48.41%,#535353 49.19%,#5f5f5f 49.42%,#a0a0a0 50%,#b4b4b4 50.46%,#c2c2c2 51.39%,#c6c6c6 52.59%,#bfbfbf 53.75%,#aeaeae 54.53%,#9f9f9f 54.8%,#5e5e5e 55.34%,#4a4a4a 55.8%,#3c3c3c 56.73%,#383838 57.97%,#3f3f3f 59.13%,#505050 59.91%,#606060 60.18%,#a3a3a3 60.68%,#b7b7b7 61.15%,#c5c5c5 62.07%,#cacaca 63.31%,#c2c2c2 64.51%,#b1b1b1 65.29%,#a0a0a0 65.56%,#5c5c5c 66.02%,#474747 66.49%,#383838 67.38%,#343434 68.61%,#3b3b3b 69.81%,#4d4d4d 70.63%,#5e5e5e 70.9%,#a1a1a1 71.32%,#b8b8b8 71.79%,#c7c7c7 72.68%,#ccc 73.88%,#c6c6c6 75.08%,#b6b6b6 75.93%,#a2a2a2 76.32%,#525252 76.93%,#404040 77.55%,#363636 78.56%,#373737 80.07%,#464646 81.23%,#5d5d5d 81.77%,#9e9e9e 82.28%,#aeaeae 82.55%,#bfbfbf 83.32%,#c5c5c5 84.44%,#c1c1c1 85.76%,#b1b1b1 86.76%,#a1a1a1 87.15%,#5a5a5a 87.93%,#4b4b4b 88.43%,#434343 89.13%,#414141 90.6%,#4e4e4e 91.91%,#5e5e5e 92.49%,#a5a5a5 93.58%,#b3b3b3 94.31%,#b8b8b8 95.32%,#b5b5b5 96.56%,#a8a8a8 97.52%,#606060 99.11%,#525252 100%)}
.a24{background:linear-gradient(#808080 0%,#7f7f7f 6.19%,#868686 10.6%,#6e6e6e 15.71%,#787878 17.14%,#a0a0a0 19.78%,#a3a3a3 20.94%,#a0a0a0 21.52%,#959595 22.17%,#5d5d5d 24.26%,#545454 25.15%,#525252 26.16%,#565656 26.97%,#5f5f5f 27.59%,#a8a8a8 29.41%,#b4b4b4 30.38%,#b7b7b7 31.5%,#b1b1b1 32.47%,#a3a3a3 33.17%,#5f5f5f 34.21%,#525252 34.64%,#454545 35.57%,#424242 36.76%,#484848 37.81%,#585858 38.54%,#a1a1a1 39.47%,#b0b0b0 39.9%,#bebebe 40.83%,#c1c1c1 42.07%,#bababa 43.19%,#aaa 43.92%,#5d5d5d 44.78%,#4d4d4d 45.2%,#3e3e3e 46.13%,#3a3a3a 47.37%,#414141 48.49%,#525252 49.26%,#616161 49.54%,#a1a1a1 50.08%,#b4b4b4 50.54%,#c3c3c3 51.47%,#c7c7c7 52.71%,#bfbfbf 53.87%,#aeaeae 54.64%,#9e9e9e 54.91%,#5e5e5e 55.42%,#494949 55.88%,#3b3b3b 56.81%,#373737 58.05%,#3e3e3e 59.25%,#505050 60.02%,#5e5e5e 60.26%,#a3a3a3 60.76%,#b8b8b8 61.22%,#c6c6c6 62.15%,#cbcbcb 63.39%,#c3c3c3 64.59%,#b2b2b2 65.36%,#a1a1a1 65.63%,#5c5c5c 66.1%,#464646 66.56%,#383838 67.45%,#333 68.69%,#3b3b3b 69.93%,#4d4d4d 70.74%,#5f5f5f 71.01%,#a3a3a3 71.44%,#b8b8b8 71.87%,#c8c8c8 72.76%,#cdcdcd 73.96%,#c7c7c7 75.15%,#b7b7b7 76.01%,#a2a2a2 76.39%,#515151 77.01%,#3f3f3f 77.63%,#353535 78.64%,#373737 80.15%,#464646 81.31%,#5d5d5d 81.85%,#a0a0a0 82.35%,#adadad 82.59%,#bfbfbf 83.36%,#c6c6c6 84.52%,#c1c1c1 85.84%,#b1b1b1 86.84%,#a0a0a0 87.27%,#5a5a5a 88%,#4c4c4c 88.47%,#434343 89.2%,#414141 90.67%,#4e4e4e 91.99%,#5e5e5e 92.53%,#a6a6a6 93.61%,#b3b3b3 94.35%,#b9b9b9 95.36%,#b5b5b5 96.59%,#a8a8a8 97.56%,#5e5e5e 99.11%,#505050 100%)}
.a25{background:linear-gradient(#7f7f7f 0%,#7f7f7f 6.27%,#868686 10.68%,#818181 12.11%,#6f6f6f 14.74%,#6d6d6d 15.79%,#787878 17.22%,#a0a0a0 19.74%,#a4a4a4 21.01%,#a0a0a0 21.71%,#969696 22.25%,#5c5c5c 24.34%,#535353 25.23%,#515151 26.24%,#555 27.09%,#5f5f5f 27.71%,#a9a9a9 29.49%,#b5b5b5 30.46%,#b7b7b7 31.62%,#b1b1b1 32.59%,#a4a4a4 33.24%,#606060 34.25%,#525252 34.67%,#444 35.64%,#414141 36.84%,#474747 37.89%,#575757 38.62%,#a1a1a1 39.55%,#b1b1b1 39.98%,#bebebe 40.91%,#c2c2c2 42.14%,#bbb 43.27%,#ababab 44%,#606060 44.81%,#4c4c4c 45.28%,#3e3e3e 46.21%,#3a3a3a 47.45%,#414141 48.61%,#525252 49.38%,#606060 49.61%,#a1a1a1 50.15%,#b5b5b5 50.62%,#c3c3c3 51.55%,#c7c7c7 52.79%,#c0c0c0 53.95%,#afafaf 54.72%,#a0a0a0 54.99%,#5d5d5d 55.5%,#494949 55.96%,#3a3a3a 56.89%,#363636 58.13%,#3e3e3e 59.33%,#4f4f4f 60.1%,#616161 60.37%,#a3a3a3 60.84%,#b8b8b8 61.3%,#c7c7c7 62.23%,#cbcbcb 63.47%,#c4c4c4 64.67%,#b2b2b2 65.44%,#a2a2a2 65.71%,#5f5f5f 66.14%,#474747 66.6%,#373737 67.49%,#323232 68.77%,#3a3a3a 70.01%,#4d4d4d 70.82%,#5e5e5e 71.09%,#a3a3a3 71.52%,#bababa 71.98%,#c8c8c8 72.83%,#cdcdcd 74.03%,#c7c7c7 75.23%,#b7b7b7 76.08%,#a3a3a3 76.47%,#525252 77.09%,#3f3f3f 77.71%,#353535 78.68%,#363636 80.19%,#464646 81.35%,#5c5c5c 81.89%,#9f9f9f 82.39%,#afafaf 82.66%,#bfbfbf 83.4%,#c6c6c6 84.56%,#c2c2c2 85.91%,#b2b2b2 86.92%,#9f9f9f 87.35%,#5a5a5a 88.08%,#4c4c4c 88.54%,#434343 89.24%,#414141 90.71%,#4e4e4e 92.03%,#5e5e5e 92.61%,#a6a6a6 93.69%,#b3b3b3 94.43%,#b9b9b9 95.43%,#b4b4b4 96.63%,#a7a7a7 97.56%,#5f5f5f 99.03%,#4f4f4f 100%)}
.a26{background:linear-gradient(#7f7f7f 0%,#7f7f7f 6.31%,#878787 10.72%,#818181 12.19%,#6f6f6f 14.82%,#6d6d6d 15.87%,#787878 17.3%,#a0a0a0 19.74%,#a4a4a4 21.09%,#a0a0a0 21.83%,#989898 22.29%,#5c5c5c 24.38%,#525252 25.27%,#505050 26.32%,#555 27.17%,#5e5e5e 27.79%,#9f9f9f 29.18%,#a9a9a9 29.57%,#b5b5b5 30.53%,#b8b8b8 31.7%,#b2b2b2 32.66%,#a4a4a4 33.32%,#5f5f5f 34.33%,#515151 34.75%,#444 35.72%,#404040 36.92%,#474747 37.96%,#565656 38.7%,#a0a0a0 39.59%,#b1b1b1 40.05%,#bfbfbf 40.98%,#c3c3c3 42.22%,#bcbcbc 43.34%,#acacac 44.08%,#a0a0a0 44.31%,#5f5f5f 44.89%,#4b4b4b 45.36%,#3d3d3d 46.28%,#393939 47.52%,#404040 48.68%,#525252 49.46%,#5f5f5f 49.69%,#a2a2a2 50.23%,#b6b6b6 50.7%,#c4c4c4 51.63%,#c8c8c8 52.86%,#c1c1c1 54.02%,#afafaf 54.8%,#a0a0a0 55.07%,#5c5c5c 55.57%,#484848 56.04%,#3a3a3a 56.97%,#353535 58.2%,#3d3d3d 59.4%,#4f4f4f 60.18%,#606060 60.45%,#a3a3a3 60.91%,#b8b8b8 61.38%,#c7c7c7 62.31%,#cbcbcb 63.54%,#c4c4c4 64.74%,#b2b2b2 65.52%,#a2a2a2 65.79%,#5e5e5e 66.22%,#464646 66.68%,#373737 67.61%,#323232 68.85%,#3a3a3a 70.09%,#4d4d4d 70.9%,#5e5e5e 71.17%,#a4a4a4 71.59%,#b9b9b9 72.02%,#c9c9c9 72.91%,#cecece 74.11%,#c8c8c8 75.31%,#b8b8b8 76.16%,#a0a0a0 76.59%,#525252 77.17%,#3f3f3f 77.79%,#353535 78.75%,#363636 80.26%,#464646 81.42%,#5e5e5e 81.97%,#a1a1a1 82.47%,#aeaeae 82.7%,#c0c0c0 83.48%,#c7c7c7 84.64%,#c2c2c2 85.95%,#b2b2b2 86.96%,#a0a0a0 87.38%,#5b5b5b 88.08%,#4c4c4c 88.54%,#424242 89.28%,#404040 90.79%,#4d4d4d 92.11%,#5e5e5e 92.69%,#a5a5a5 93.77%,#b2b2b2 94.47%,#b8b8b8 95.47%,#b4b4b4 96.63%,#a7a7a7 97.56%,#5f5f5f 99.03%,#4f4f4f 100%)}
.a27{background:linear-gradient(#7f7f7f 0%,#7f7f7f 6.39%,#878787 10.8%,#818181 12.27%,#6e6e6e 14.9%,#6c6c6c 15.94%,#777 17.38%,#a0a0a0 19.74%,#a5a5a5 21.13%,#a1a1a1 21.9%,#999 22.33%,#5b5b5b 24.46%,#525252 25.35%,#505050 26.39%,#545454 27.24%,#5f5f5f 27.9%,#a1a1a1 29.26%,#aaa 29.64%,#b6b6b6 30.61%,#b9b9b9 31.73%,#b3b3b3 32.7%,#a5a5a5 33.4%,#5e5e5e 34.4%,#505050 34.83%,#434343 35.8%,#404040 37%,#474747 38.04%,#565656 38.78%,#a1a1a1 39.67%,#b1b1b1 40.09%,#c0c0c0 41.06%,#c3c3c3 42.3%,#bcbcbc 43.42%,#acacac 44.16%,#a0a0a0 44.39%,#5e5e5e 44.97%,#4b4b4b 45.43%,#3d3d3d 46.36%,#393939 47.6%,#404040 48.76%,#525252 49.54%,#5f5f5f 49.77%,#a0a0a0 50.27%,#b5b5b5 50.74%,#c4c4c4 51.66%,#c8c8c8 52.9%,#c1c1c1 54.1%,#afafaf 54.88%,#9f9f9f 55.15%,#5e5e5e 55.61%,#484848 56.08%,#393939 57%,#353535 58.28%,#3d3d3d 59.48%,#4f4f4f 60.26%,#606060 60.53%,#a1a1a1 60.95%,#b8b8b8 61.42%,#c7c7c7 62.35%,#ccc 63.62%,#c4c4c4 64.82%,#b2b2b2 65.6%,#a2a2a2 65.87%,#5d5d5d 66.29%,#464646 66.76%,#363636 67.69%,#323232 68.92%,#3a3a3a 70.16%,#4d4d4d 70.98%,#606060 71.25%,#a2a2a2 71.63%,#bababa 72.1%,#c9c9c9 72.99%,#cecece 74.19%,#c8c8c8 75.39%,#b7b7b7 76.24%,#a3a3a3 76.63%,#515151 77.24%,#3f3f3f 77.86%,#353535 78.83%,#363636 80.34%,#464646 81.5%,#5f5f5f 82.04%,#9e9e9e 82.51%,#afafaf 82.78%,#bfbfbf 83.51%,#c6c6c6 84.67%,#c1c1c1 86.03%,#b1b1b1 87%,#a1a1a1 87.38%,#5a5a5a 88.12%,#4c4c4c 88.58%,#424242 89.32%,#404040 90.83%,#4e4e4e 92.18%,#5f5f5f 92.76%,#a5a5a5 93.81%,#b2b2b2 94.5%,#b8b8b8 95.51%,#b4b4b4 96.71%,#a7a7a7 97.64%,#5f5f5f 99.15%,#515151 100%)}
.a28{background:linear-gradient(#808080 0%,#7e7e7e 6.42%,#878787 10.87%,#818181 12.35%,#6e6e6e 14.94%,#6b6b6b 15.98%,#777 17.41%,#a0a0a0 19.78%,#a5a5a5 21.21%,#9a9a9a 22.37%,#5b5b5b 24.5%,#515151 25.43%,#4f4f4f 26.47%,#545454 27.32%,#5f5f5f 27.98%,#a0a0a0 29.3%,#aaa 29.68%,#b6b6b6 30.65%,#b9b9b9 31.81%,#b3b3b3 32.78%,#a5a5a5 33.48%,#5f5f5f 34.44%,#515151 34.87%,#434343 35.84%,#404040 37.04%,#464646 38.12%,#565656 38.85%,#a0a0a0 39.71%,#b2b2b2 40.17%,#c0c0c0 41.14%,#c4c4c4 42.38%,#bcbcbc 43.5%,#ababab 44.23%,#5f5f5f 45.01%,#4b4b4b 45.47%,#3d3d3d 46.4%,#383838 47.68%,#3f3f3f 48.8%,#505050 49.57%,#606060 49.85%,#a1a1a1 50.35%,#b6b6b6 50.81%,#c4c4c4 51.74%,#c9c9c9 52.98%,#c1c1c1 54.18%,#afafaf 54.95%,#a2a2a2 55.19%,#5d5d5d 55.69%,#484848 56.15%,#393939 57.08%,#353535 58.32%,#3c3c3c 59.52%,#4e4e4e 60.29%,#5d5d5d 60.57%,#a2a2a2 61.03%,#b9b9b9 61.49%,#c8c8c8 62.42%,#ccc 63.66%,#c4c4c4 64.9%,#b2b2b2 65.67%,#a1a1a1 65.94%,#5c5c5c 66.37%,#464646 66.83%,#363636 67.76%,#323232 69%,#393939 70.2%,#4c4c4c 71.01%,#5d5d5d 71.28%,#a3a3a3 71.71%,#b9b9b9 72.14%,#c9c9c9 73.03%,#cecece 74.23%,#c8c8c8 75.43%,#b8b8b8 76.28%,#a1a1a1 76.7%,#616161 77.09%,#505050 77.32%,#3e3e3e 77.94%,#353535 78.87%,#363636 80.38%,#464646 81.54%,#5d5d5d 82.08%,#a0a0a0 82.59%,#aeaeae 82.82%,#bfbfbf 83.55%,#c6c6c6 84.71%,#c1c1c1 86.07%,#b1b1b1 87.04%,#a1a1a1 87.42%,#5a5a5a 88.16%,#4c4c4c 88.62%,#424242 89.36%,#404040 90.87%,#4d4d4d 92.18%,#5e5e5e 92.76%,#a5a5a5 93.81%,#b3b3b3 94.5%,#b9b9b9 95.51%,#b5b5b5 96.75%,#a8a8a8 97.72%,#5f5f5f 99.26%,#525252 100%)}
.a29{background:linear-gradient(#808080 0%,#7e7e7e 6.46%,#878787 10.91%,#818181 12.38%,#6d6d6d 15.02%,#6b6b6b 16.06%,#777 17.49%,#a0a0a0 19.81%,#a5a5a5 21.28%,#9a9a9a 22.45%,#5b5b5b 24.54%,#515151 25.46%,#4f4f4f 26.51%,#545454 27.36%,#5e5e5e 28.02%,#9f9f9f 29.33%,#aaa 29.72%,#b6b6b6 30.69%,#b9b9b9 31.85%,#b3b3b3 32.82%,#a5a5a5 33.51%,#5e5e5e 34.52%,#505050 34.95%,#434343 35.91%,#404040 37.11%,#464646 38.16%,#555 38.89%,#a1a1a1 39.78%,#b2b2b2 40.25%,#c0c0c0 41.18%,#c4c4c4 42.41%,#bcbcbc 43.54%,#acacac 44.27%,#a0a0a0 44.5%,#5e5e5e 45.09%,#4a4a4a 45.55%,#3c3c3c 46.48%,#383838 47.72%,#404040 48.88%,#515151 49.65%,#5e5e5e 49.88%,#a2a2a2 50.43%,#b6b6b6 50.89%,#c5c5c5 51.82%,#c9c9c9 53.06%,#c1c1c1 54.22%,#b0b0b0 54.99%,#a1a1a1 55.26%,#5f5f5f 55.73%,#484848 56.19%,#393939 57.12%,#353535 58.4%,#3d3d3d 59.6%,#4f4f4f 60.37%,#606060 60.64%,#a1a1a1 61.07%,#b8b8b8 61.53%,#c7c7c7 62.46%,#ccc 63.74%,#c4c4c4 64.98%,#b1b1b1 65.75%,#9e9e9e 66.02%,#5f5f5f 66.41%,#464646 66.87%,#373737 67.76%,#323232 69.04%,#3a3a3a 70.28%,#4d4d4d 71.09%,#5f5f5f 71.36%,#a4a4a4 71.79%,#b9b9b9 72.21%,#c9c9c9 73.1%,#cdcdcd 74.3%,#c7c7c7 75.5%,#b7b7b7 76.35%,#a1a1a1 76.74%,#505050 77.36%,#3f3f3f 77.98%,#353535 78.95%,#363636 80.42%,#464646 81.58%,#5c5c5c 82.12%,#9f9f9f 82.62%,#afafaf 82.89%,#bfbfbf 83.63%,#c6c6c6 84.75%,#c1c1c1 86.07%,#b1b1b1 87.07%,#a1a1a1 87.46%,#5b5b5b 88.2%,#4c4c4c 88.66%,#434343 89.4%,#414141 90.87%,#4e4e4e 92.18%,#5f5f5f 92.76%,#a5a5a5 93.81%,#b3b3b3 94.5%,#b9b9b9 95.51%,#b5b5b5 96.75%,#a8a8a8 97.76%,#5f5f5f 99.3%,#535353 100%)}
.a30{background:linear-gradient(#7f7f7f 0%,#7e7e7e 6.5%,#878787 10.99%,#818181 12.46%,#6d6d6d 15.05%,#6b6b6b 16.1%,#777 17.53%,#a0a0a0 19.85%,#a6a6a6 21.32%,#9a9a9a 22.48%,#5b5b5b 24.61%,#515151 25.54%,#4f4f4f 26.59%,#545454 27.44%,#5e5e5e 28.06%,#a0a0a0 29.41%,#aaa 29.8%,#b6b6b6 30.77%,#b9b9b9 31.93%,#b3b3b3 32.89%,#a4a4a4 33.59%,#5f5f5f 34.56%,#515151 34.98%,#434343 35.95%,#404040 37.15%,#464646 38.24%,#565656 38.97%,#a0a0a0 39.82%,#b2b2b2 40.29%,#c0c0c0 41.22%,#c4c4c4 42.45%,#bcbcbc 43.61%,#ababab 44.35%,#5f5f5f 45.12%,#4b4b4b 45.59%,#3d3d3d 46.52%,#383838 47.79%,#404040 48.92%,#515151 49.69%,#616161 49.96%,#a1a1a1 50.46%,#b6b6b6 50.93%,#c4c4c4 51.86%,#c9c9c9 53.1%,#c1c1c1 54.3%,#afafaf 55.07%,#9e9e9e 55.34%,#5d5d5d 55.8%,#484848 56.27%,#393939 57.2%,#353535 58.44%,#3d3d3d 59.64%,#4e4e4e 60.41%,#5e5e5e 60.68%,#a3a3a3 61.15%,#b8b8b8 61.61%,#c7c7c7 62.54%,#ccc 63.78%,#c4c4c4 65.02%,#b1b1b1 65.79%,#a0a0a0 66.06%,#5c5c5c 66.49%,#464646 66.95%,#373737 67.84%,#323232 69.08%,#3a3a3a 70.32%,#4c4c4c 71.13%,#5d5d5d 71.4%,#a2a2a2 71.83%,#b9b9b9 72.29%,#c8c8c8 73.14%,#cdcdcd 74.34%,#c7c7c7 75.54%,#b6b6b6 76.39%,#a2a2a2 76.78%,#515151 77.4%,#3f3f3f 78.02%,#363636 78.99%,#373737 80.46%,#464646 81.62%,#5d5d5d 82.16%,#9f9f9f 82.66%,#adadad 82.89%,#bebebe 83.63%,#c6c6c6 84.79%,#c1c1c1 86.11%,#b1b1b1 87.11%,#a2a2a2 87.5%,#5a5a5a 88.27%,#4c4c4c 88.74%,#444 89.43%,#414141 90.91%,#4e4e4e 92.18%,#5f5f5f 92.76%,#a4a4a4 93.81%,#b2b2b2 94.54%,#b8b8b8 95.55%,#b4b4b4 96.79%,#a7a7a7 97.76%,#606060 99.26%,#525252 100%)}
.a31{background:linear-gradient(#7f7f7f 0%,#7e7e7e 6.54%,#878787 11.03%,#818181 12.5%,#6e6e6e 15.09%,#6b6b6b 16.14%,#777 17.57%,#a0a0a0 19.93%,#a5a5a5 21.36%,#a1a1a1 22.14%,#999 22.56%,#5b5b5b 24.65%,#525252 25.58%,#4f4f4f 26.63%,#545454 27.48%,#5f5f5f 28.13%,#9f9f9f 29.45%,#aaa 29.84%,#b6b6b6 30.8%,#b9b9b9 31.97%,#b3b3b3 32.93%,#a4a4a4 33.63%,#606060 34.6%,#515151 35.02%,#434343 35.99%,#404040 37.19%,#474747 38.27%,#565656 39.01%,#a1a1a1 39.9%,#b1b1b1 40.33%,#bfbfbf 41.29%,#c3c3c3 42.53%,#bcbcbc 43.65%,#ababab 44.39%,#5d5d5d 45.2%,#4b4b4b 45.67%,#3d3d3d 46.59%,#393939 47.83%,#404040 48.96%,#515151 49.73%,#606060 50%,#a0a0a0 50.5%,#b5b5b5 50.97%,#c4c4c4 51.9%,#c8c8c8 53.13%,#c1c1c1 54.33%,#afafaf 55.11%,#9f9f9f 55.38%,#5e5e5e 55.84%,#494949 56.31%,#3a3a3a 57.24%,#353535 58.48%,#3d3d3d 59.71%,#505050 60.49%,#5d5d5d 60.72%,#a1a1a1 61.18%,#b8b8b8 61.65%,#c7c7c7 62.58%,#cbcbcb 63.82%,#c3c3c3 65.05%,#b1b1b1 65.83%,#a0a0a0 66.1%,#5d5d5d 66.52%,#464646 66.99%,#373737 67.92%,#333 69.16%,#3b3b3b 70.39%,#4e4e4e 71.21%,#616161 71.48%,#a0a0a0 71.87%,#b8b8b8 72.33%,#c7c7c7 73.18%,#ccc 74.38%,#c6c6c6 75.58%,#b6b6b6 76.43%,#a2a2a2 76.82%,#535353 77.44%,#404040 78.06%,#373737 79.02%,#383838 80.5%,#474747 81.66%,#5f5f5f 82.2%,#a0a0a0 82.7%,#adadad 82.93%,#bebebe 83.67%,#c5c5c5 84.83%,#c0c0c0 86.15%,#b0b0b0 87.15%,#a1a1a1 87.54%,#5b5b5b 88.31%,#4d4d4d 88.78%,#444 89.47%,#424242 90.94%,#4f4f4f 92.22%,#606060 92.8%,#a4a4a4 93.89%,#b1b1b1 94.58%,#b7b7b7 95.59%,#b3b3b3 96.79%,#a6a6a6 97.72%,#5f5f5f 99.26%,#525252 100%)}
.a32{background:linear-gradient(#7f7f7f 0%,#7e7e7e 6.58%,#878787 11.07%,#818181 12.54%,#6e6e6e 15.13%,#6c6c6c 16.18%,#777 17.61%,#a0a0a0 20.05%,#a5a5a5 21.4%,#a1a1a1 22.17%,#999 22.6%,#5b5b5b 24.73%,#525252 25.62%,#505050 26.66%,#555 27.52%,#5e5e5e 28.13%,#a0a0a0 29.53%,#aaa 29.91%,#b5b5b5 30.88%,#b8b8b8 32%,#b2b2b2 32.97%,#a4a4a4 33.67%,#5f5f5f 34.67%,#515151 35.1%,#444 36.07%,#404040 37.27%,#474747 38.31%,#575757 39.05%,#a0a0a0 39.94%,#b1b1b1 40.4%,#bfbfbf 41.33%,#c3c3c3 42.57%,#bbb 43.69%,#ababab 44.43%,#5e5e5e 45.24%,#4b4b4b 45.7%,#3d3d3d 46.63%,#393939 47.87%,#404040 48.99%,#515151 49.77%,#606060 50.04%,#a2a2a2 50.58%,#b5b5b5 51.01%,#c3c3c3 51.93%,#c8c8c8 53.17%,#c0c0c0 54.37%,#afafaf 55.15%,#9e9e9e 55.42%,#5c5c5c 55.92%,#494949 56.35%,#3a3a3a 57.28%,#363636 58.51%,#3e3e3e 59.75%,#505050 60.53%,#5d5d5d 60.76%,#a3a3a3 61.26%,#b8b8b8 61.73%,#c6c6c6 62.62%,#cbcbcb 63.85%,#c3c3c3 65.05%,#b1b1b1 65.87%,#a0a0a0 66.14%,#5f5f5f 66.56%,#474747 67.03%,#383838 67.96%,#343434 69.2%,#3b3b3b 70.39%,#4d4d4d 71.21%,#5d5d5d 71.48%,#a3a3a3 71.94%,#b8b8b8 72.37%,#c6c6c6 73.22%,#ccc 74.42%,#c6c6c6 75.62%,#b6b6b6 76.47%,#a2a2a2 76.86%,#525252 77.52%,#414141 78.13%,#373737 79.06%,#383838 80.5%,#484848 81.66%,#5d5d5d 82.2%,#9f9f9f 82.74%,#acacac 82.97%,#bdbdbd 83.71%,#c4c4c4 84.83%,#c0c0c0 86.15%,#b0b0b0 87.15%,#a0a0a0 87.54%,#5c5c5c 88.31%,#4e4e4e 88.78%,#444 89.51%,#434343 90.98%,#4f4f4f 92.26%,#5e5e5e 92.8%,#a3a3a3 93.92%,#b0b0b0 94.62%,#b6b6b6 95.59%,#b2b2b2 96.79%,#a5a5a5 97.72%,#5f5f5f 99.3%,#535353 100%)}
.a33{background:linear-gradient(#808080 0%,#7e7e7e 6.62%,#878787 11.11%,#818181 12.58%,#6f6f6f 15.17%,#6c6c6c 16.22%,#777 17.65%,#a0a0a0 20.16%,#a4a4a4 21.44%,#a0a0a0 22.17%,#979797 22.68%,#5c5c5c 24.77%,#535353 25.66%,#515151 26.7%,#555 27.55%,#5f5f5f 28.17%,#a9a9a9 29.95%,#b5b5b5 30.92%,#b8b8b8 32.04%,#b2b2b2 33.01%,#a4a4a4 33.71%,#606060 34.71%,#525252 35.14%,#454545 36.11%,#414141 37.31%,#484848 38.35%,#575757 39.09%,#9f9f9f 39.98%,#b1b1b1 40.44%,#bebebe 41.37%,#c2c2c2 42.61%,#bbb 43.73%,#aaa 44.47%,#606060 45.28%,#4c4c4c 45.74%,#3e3e3e 46.67%,#3a3a3a 47.91%,#414141 49.03%,#525252 49.81%,#616161 50.08%,#a1a1a1 50.62%,#b5b5b5 51.08%,#c3c3c3 52.01%,#c7c7c7 53.21%,#bfbfbf 54.41%,#aeaeae 55.19%,#a1a1a1 55.42%,#5d5d5d 55.96%,#494949 56.42%,#3b3b3b 57.31%,#373737 58.55%,#3e3e3e 59.75%,#4f4f4f 60.53%,#5e5e5e 60.8%,#a2a2a2 61.3%,#b7b7b7 61.76%,#c5c5c5 62.65%,#cacaca 63.89%,#c2c2c2 65.09%,#b0b0b0 65.91%,#9f9f9f 66.18%,#5d5d5d 66.64%,#474747 67.11%,#393939 68%,#353535 69.23%,#3c3c3c 70.43%,#4e4e4e 71.25%,#5e5e5e 71.52%,#a2a2a2 71.98%,#b7b7b7 72.41%,#c6c6c6 73.26%,#cbcbcb 74.46%,#c5c5c5 75.66%,#b5b5b5 76.51%,#a1a1a1 76.9%,#535353 77.55%,#424242 78.17%,#383838 79.14%,#3a3a3a 80.57%,#494949 81.7%,#5f5f5f 82.24%,#ababab 83.01%,#bcbcbc 83.75%,#c3c3c3 84.87%,#bebebe 86.18%,#afafaf 87.15%,#9f9f9f 87.54%,#5b5b5b 88.35%,#4d4d4d 88.85%,#454545 89.55%,#434343 90.98%,#505050 92.26%,#5e5e5e 92.8%,#a3a3a3 93.96%,#afafaf 94.66%,#b5b5b5 95.59%,#b2b2b2 96.75%,#a5a5a5 97.72%,#5f5f5f 99.42%,#565656 100%)}
.a34{background:linear-gradient(#808080 0%,#7e7e7e 6.66%,#868686 11.15%,#818181 12.62%,#6f6f6f 15.21%,#6d6d6d 16.25%,#777 17.69%,#a0a0a0 20.32%,#a3a3a3 21.48%,#a0a0a0 22.1%,#969696 22.72%,#5d5d5d 24.85%,#545454 25.74%,#525252 26.74%,#5f5f5f 28.13%,#a8a8a8 29.99%,#b4b4b4 30.96%,#b7b7b7 32.08%,#b1b1b1 33.05%,#a4a4a4 33.71%,#5f5f5f 34.79%,#535353 35.18%,#464646 36.11%,#424242 37.31%,#494949 38.35%,#575757 39.09%,#a1a1a1 40.05%,#b0b0b0 40.48%,#bdbdbd 41.41%,#c1c1c1 42.65%,#bababa 43.73%,#ababab 44.47%,#5e5e5e 45.36%,#4d4d4d 45.78%,#3f3f3f 46.71%,#3b3b3b 47.95%,#424242 49.07%,#535353 49.85%,#5e5e5e 50.08%,#a0a0a0 50.66%,#b4b4b4 51.12%,#c2c2c2 52.05%,#c6c6c6 53.25%,#bebebe 54.45%,#adadad 55.22%,#a0a0a0 55.46%,#5e5e5e 56%,#4a4a4a 56.46%,#3c3c3c 57.35%,#383838 58.59%,#3f3f3f 59.79%,#505050 60.57%,#606060 60.84%,#a1a1a1 61.34%,#b6b6b6 61.8%,#c4c4c4 62.69%,#c9c9c9 63.93%,#c1c1c1 65.13%,#afafaf 65.94%,#9e9e9e 66.22%,#5e5e5e 66.68%,#494949 67.14%,#3a3a3a 68.03%,#363636 69.23%,#3d3d3d 70.47%,#505050 71.28%,#606060 71.56%,#a1a1a1 72.02%,#b7b7b7 72.48%,#c5c5c5 73.34%,#c9c9c9 74.5%,#c3c3c3 75.66%,#b4b4b4 76.51%,#a1a1a1 76.9%,#535353 77.59%,#434343 78.21%,#3a3a3a 79.18%,#3b3b3b 80.61%,#4a4a4a 81.73%,#5e5e5e 82.24%,#aaa 83.05%,#bababa 83.78%,#c1c1c1 84.87%,#bdbdbd 86.18%,#aeaeae 87.15%,#9f9f9f 87.54%,#5c5c5c 88.39%,#4e4e4e 88.89%,#464646 89.59%,#454545 91.02%,#525252 92.26%,#5f5f5f 92.76%,#a2a2a2 93.96%,#aeaeae 94.66%,#b4b4b4 95.59%,#b1b1b1 96.79%,#a5a5a5 97.76%,#616161 99.5%,#585858 100%)}
.a35{background:linear-gradient(#808080 0%,#7e7e7e 6.66%,#868686 11.18%,#6e6e6e 16.29%,#787878 17.72%,#9e9e9e 20.39%,#a2a2a2 21.52%,#9f9f9f 22.1%,#939393 22.83%,#5e5e5e 24.88%,#555 25.77%,#535353 26.78%,#5f5f5f 28.1%,#a8a8a8 30.07%,#b2b2b2 31%,#b5b5b5 32.12%,#afafaf 33.09%,#a2a2a2 33.75%,#5e5e5e 34.87%,#535353 35.26%,#474747 36.18%,#444 37.35%,#4a4a4a 38.39%,#595959 39.13%,#9f9f9f 40.09%,#aeaeae 40.52%,#bcbcbc 41.45%,#bfbfbf 42.65%,#b8b8b8 43.77%,#a9a9a9 44.5%,#5f5f5f 45.39%,#4e4e4e 45.82%,#414141 46.75%,#3d3d3d 47.95%,#444 49.11%,#555 49.88%,#a2a2a2 50.74%,#b2b2b2 51.16%,#c0c0c0 52.09%,#c4c4c4 53.29%,#bdbdbd 54.45%,#adadad 55.22%,#a1a1a1 55.46%,#5f5f5f 56.04%,#4b4b4b 56.5%,#3d3d3d 57.43%,#393939 58.63%,#414141 59.83%,#525252 60.6%,#5f5f5f 60.84%,#a1a1a1 61.38%,#b5b5b5 61.84%,#c3c3c3 62.77%,#c7c7c7 63.97%,#c0c0c0 65.17%,#afafaf 65.94%,#a0a0a0 66.22%,#5f5f5f 66.72%,#4a4a4a 67.18%,#3c3c3c 68.07%,#373737 69.27%,#3e3e3e 70.47%,#505050 71.28%,#5e5e5e 71.56%,#a3a3a3 72.1%,#b5b5b5 72.52%,#c3c3c3 73.37%,#c8c8c8 74.54%,#c2c2c2 75.7%,#b3b3b3 76.51%,#a2a2a2 76.9%,#545454 77.63%,#444 78.25%,#3b3b3b 79.22%,#3d3d3d 80.61%,#4b4b4b 81.73%,#5e5e5e 82.24%,#a9a9a9 83.09%,#b9b9b9 83.82%,#c0c0c0 84.91%,#bcbcbc 86.18%,#adadad 87.15%,#9f9f9f 87.54%,#5d5d5d 88.43%,#505050 88.93%,#484848 89.63%,#474747 90.98%,#535353 92.22%,#5e5e5e 92.69%,#a1a1a1 93.96%,#adadad 94.66%,#b3b3b3 95.59%,#afafaf 96.79%,#a3a3a3 97.76%,#666 99.42%,#5a5a5a 100%)}
.a36{background:linear-gradient(#7f7f7f 0%,#7f7f7f 6.7%,#858585 11.18%,#707070 16.33%,#797979 17.76%,#9c9c9c 20.39%,#a0a0a0 21.44%,#929292 22.83%,#5e5e5e 25%,#575757 25.85%,#555 26.78%,#5f5f5f 28.06%,#a6a6a6 30.11%,#b1b1b1 31.04%,#b3b3b3 32.12%,#aeaeae 33.05%,#a1a1a1 33.75%,#606060 34.91%,#555 35.29%,#494949 36.22%,#464646 37.38%,#4b4b4b 38.39%,#5a5a5a 39.13%,#a0a0a0 40.17%,#aeaeae 40.6%,#bababa 41.52%,#bebebe 42.69%,#b7b7b7 43.77%,#a8a8a8 44.5%,#5e5e5e 45.47%,#4f4f4f 45.9%,#424242 46.83%,#3f3f3f 47.99%,#454545 49.11%,#555 49.88%,#a1a1a1 50.77%,#b1b1b1 51.2%,#bfbfbf 52.13%,#c2c2c2 53.33%,#bbb 54.49%,#aaa 55.26%,#5e5e5e 56.11%,#4d4d4d 56.54%,#3f3f3f 57.43%,#3b3b3b 58.63%,#424242 59.79%,#535353 60.6%,#5f5f5f 60.84%,#a2a2a2 61.46%,#b3b3b3 61.88%,#c1c1c1 62.77%,#c5c5c5 63.97%,#bfbfbf 65.13%,#aeaeae 65.94%,#a0a0a0 66.22%,#5d5d5d 66.8%,#4b4b4b 67.22%,#3e3e3e 68.11%,#393939 69.31%,#404040 70.51%,#525252 71.32%,#5e5e5e 71.56%,#a1a1a1 72.14%,#b3b3b3 72.56%,#c1c1c1 73.41%,#c6c6c6 74.54%,#c0c0c0 75.66%,#b2b2b2 76.51%,#a1a1a1 76.9%,#565656 77.67%,#464646 78.29%,#3d3d3d 79.26%,#3f3f3f 80.65%,#4d4d4d 81.73%,#5f5f5f 82.24%,#a8a8a8 83.13%,#b7b7b7 83.86%,#bebebe 84.91%,#bababa 86.18%,#acacac 87.15%,#a0a0a0 87.5%,#5f5f5f 88.47%,#525252 88.97%,#4a4a4a 89.67%,#494949 90.98%,#545454 92.18%,#5f5f5f 92.65%,#a1a1a1 94.04%,#ababab 94.7%,#b0b0b0 95.59%,#adadad 96.75%,#a2a2a2 97.68%,#686868 99.38%,#5b5b5b 100%)}
.a37{background:linear-gradient(#7f7f7f 0%,#7f7f7f 6.7%,#858585 11.22%,#727272 16.37%,#797979 17.76%,#999 20.39%,#9d9d9d 21.48%,#909090 22.87%,#5f5f5f 25.15%,#575757 26.82%,#606060 27.98%,#a5a5a5 30.19%,#aeaeae 31.08%,#b1b1b1 32.12%,#acacac 33.05%,#a1a1a1 33.71%,#5f5f5f 35.02%,#565656 35.37%,#4b4b4b 36.26%,#484848 37.38%,#4d4d4d 38.39%,#5b5b5b 39.13%,#a0a0a0 40.25%,#acacac 40.63%,#b8b8b8 41.52%,#bbb 42.69%,#b5b5b5 43.77%,#a7a7a7 44.5%,#606060 45.51%,#515151 45.94%,#444 46.87%,#414141 48.03%,#474747 49.11%,#575757 49.88%,#9f9f9f 50.81%,#afafaf 51.24%,#bcbcbc 52.13%,#c0c0c0 53.33%,#bababa 54.45%,#aaa 55.22%,#a0a0a0 55.46%,#5f5f5f 56.15%,#4e4e4e 56.62%,#414141 57.51%,#3d3d3d 58.67%,#444 59.83%,#545454 60.6%,#a0a0a0 61.49%,#b1b1b1 61.92%,#bfbfbf 62.81%,#c3c3c3 64.01%,#bcbcbc 65.17%,#acacac 65.94%,#9e9e9e 66.22%,#5e5e5e 66.83%,#4d4d4d 67.26%,#404040 68.15%,#3c3c3c 69.31%,#434343 70.51%,#535353 71.32%,#5f5f5f 71.56%,#9f9f9f 72.17%,#b2b2b2 72.64%,#bfbfbf 73.49%,#c3c3c3 74.57%,#bebebe 75.7%,#b0b0b0 76.51%,#a1a1a1 76.9%,#585858 77.71%,#484848 78.33%,#404040 79.3%,#414141 80.61%,#4e4e4e 81.7%,#5f5f5f 82.2%,#a7a7a7 83.17%,#b5b5b5 83.9%,#bcbcbc 84.95%,#b8b8b8 86.15%,#ababab 87.11%,#a0a0a0 87.46%,#5f5f5f 88.54%,#4c4c4c 89.71%,#4b4b4b 91.02%,#565656 92.18%,#5f5f5f 92.61%,#a0a0a0 94.16%,#a9a9a9 94.78%,#adadad 95.63%,#ababab 96.71%,#a0a0a0 97.6%,#5c5c5c 100%)}
.a38{background:linear-gradient(#7f7f7f 0%,#7f7f7f 6.73%,#848484 11.22%,#737373 16.37%,#7a7a7a 17.8%,#959595 20.43%,#999 21.52%,#8d8d8d 22.91%,#5f5f5f 25.43%,#5a5a5a 26.82%,#5e5e5e 27.67%,#666 28.1%,#a3a3a3 30.26%,#acacac 31.15%,#aeaeae 32.16%,#aaa 32.97%,#a0a0a0 33.63%,#585858 35.41%,#4e4e4e 36.3%,#4b4b4b 37.38%,#505050 38.35%,#5c5c5c 39.09%,#9f9f9f 40.33%,#aaa 40.71%,#b5b5b5 41.6%,#b8b8b8 42.72%,#b2b2b2 43.77%,#a5a5a5 44.5%,#606060 45.59%,#535353 46.01%,#474747 46.9%,#444 48.03%,#4a4a4a 49.11%,#595959 49.88%,#9f9f9f 50.89%,#adadad 51.32%,#bababa 52.21%,#bdbdbd 53.33%,#b7b7b7 54.45%,#a8a8a8 55.22%,#5f5f5f 56.23%,#505050 56.66%,#444 57.55%,#404040 58.67%,#474747 59.83%,#565656 60.6%,#a1a1a1 61.57%,#afafaf 62%,#bcbcbc 62.89%,#c0c0c0 64.01%,#bababa 65.13%,#aaa 65.94%,#5e5e5e 66.91%,#4f4f4f 67.34%,#424242 68.23%,#3f3f3f 69.35%,#454545 70.47%,#555 71.28%,#a1a1a1 72.25%,#b0b0b0 72.68%,#bcbcbc 73.49%,#c0c0c0 74.57%,#bbb 75.7%,#aeaeae 76.51%,#a1a1a1 76.86%,#595959 77.79%,#4a4a4a 78.41%,#434343 79.33%,#444 80.65%,#515151 81.7%,#606060 82.16%,#a5a5a5 83.2%,#b3b3b3 83.94%,#b8b8b8 84.95%,#b5b5b5 86.15%,#a8a8a8 87.07%,#5f5f5f 88.62%,#4f4f4f 89.74%,#4e4e4e 90.98%,#585858 92.14%,#a0a0a0 94.35%,#aaa 95.63%,#a8a8a8 96.56%,#a0a0a0 97.41%,#606060 100%)}
.a39{background:linear-gradient(#808080 0%,#838383 11.26%,#757575 16.41%,#7b7b7b 17.8%,#929292 20.43%,#959595 21.52%,#8b8b8b 22.91%,#626262 25.66%,#5e5e5e 26.82%,#616161 27.44%,#6c6c6c 28.21%,#a1a1a1 30.38%,#a9a9a9 31.23%,#ababab 32.16%,#a0a0a0 33.48%,#5a5a5a 35.53%,#515151 36.38%,#4e4e4e 37.42%,#535353 38.35%,#5f5f5f 39.05%,#a7a7a7 40.75%,#b2b2b2 41.64%,#b5b5b5 42.72%,#afafaf 43.73%,#a3a3a3 44.47%,#606060 45.7%,#565656 46.05%,#4a4a4a 46.94%,#474747 48.03%,#4d4d4d 49.07%,#5b5b5b 49.85%,#a0a0a0 51.01%,#ababab 51.39%,#b6b6b6 52.28%,#bababa 53.37%,#b4b4b4 54.45%,#a5a5a5 55.22%,#606060 56.31%,#535353 56.7%,#484848 57.55%,#444 58.67%,#4a4a4a 59.79%,#585858 60.57%,#a0a0a0 61.65%,#acacac 62.04%,#b8b8b8 62.89%,#bcbcbc 64.01%,#b6b6b6 65.13%,#a7a7a7 65.94%,#5f5f5f 66.99%,#525252 67.38%,#464646 68.23%,#434343 69.35%,#494949 70.47%,#585858 71.28%,#a0a0a0 72.33%,#adadad 72.72%,#b9b9b9 73.53%,#bdbdbd 74.57%,#b8b8b8 75.66%,#ababab 76.47%,#a0a0a0 76.82%,#5c5c5c 77.83%,#4d4d4d 78.48%,#464646 79.41%,#484848 80.65%,#545454 81.66%,#5f5f5f 82.08%,#a2a2a2 83.28%,#afafaf 83.98%,#b4b4b4 84.95%,#b1b1b1 86.07%,#a6a6a6 87%,#606060 88.74%,#525252 89.82%,#525252 91.02%,#5b5b5b 92.11%,#9c9c9c 94.43%,#a6a6a6 95.59%,#a0a0a0 97.17%,#676767 100%)}
.a40{background:linear-gradient(#808080 0%,#838383 11.26%,#777 16.41%,#909090 21.56%,#898989 22.95%,#686868 25.66%,#646464 26.78%,#707070 28.25%,#a0a0a0 30.77%,#a6a6a6 32.16%,#9c9c9c 33.36%,#5e5e5e 35.6%,#555 36.46%,#535353 37.42%,#5f5f5f 38.85%,#a4a4a4 40.87%,#adadad 41.72%,#b0b0b0 42.72%,#ababab 43.69%,#a0a0a0 44.39%,#595959 46.13%,#4f4f4f 46.98%,#4c4c4c 48.03%,#515151 49.03%,#5e5e5e 49.81%,#a7a7a7 51.47%,#b2b2b2 52.32%,#b5b5b5 53.37%,#b0b0b0 54.37%,#a3a3a3 55.15%,#575757 56.77%,#4c4c4c 57.62%,#494949 58.71%,#4e4e4e 59.75%,#5c5c5c 60.53%,#9f9f9f 61.76%,#a9a9a9 62.11%,#b4b4b4 62.96%,#b7b7b7 64.05%,#b2b2b2 65.13%,#a4a4a4 65.91%,#606060 67.11%,#565656 67.45%,#4b4b4b 68.3%,#474747 69.35%,#4d4d4d 70.43%,#5b5b5b 71.25%,#9f9f9f 72.45%,#a9a9a9 72.79%,#b4b4b4 73.57%,#b8b8b8 74.57%,#b4b4b4 75.58%,#a8a8a8 76.39%,#5e5e5e 77.9%,#515151 78.56%,#4b4b4b 79.45%,#4c4c4c 80.61%,#575757 81.62%,#a1a1a1 83.44%,#ababab 84.09%,#afafaf 84.95%,#adadad 86.03%,#a2a2a2 86.92%,#5f5f5f 89.01%,#575757 89.9%,#575757 90.98%,#5f5f5f 91.99%,#949494 94.27%,#a2a2a2 95.55%,#9d9d9d 96.98%,#6d6d6d 100%)}
.a41{background:linear-gradient(#808080 0%,#828282 11.3%,#7a7a7a 16.41%,#8c8c8c 21.56%,#868686 22.95%,#6f6f6f 25.66%,#6c6c6c 26.78%,#737373 28.06%,#989898 30.84%,#9f9f9f 32.08%,#939393 33.48%,#5f5f5f 36.07%,#5a5a5a 37.38%,#636363 38.62%,#a0a0a0 41.06%,#a9a9a9 42.72%,#a0a0a0 44.04%,#5d5d5d 46.28%,#555 47.1%,#535353 48.03%,#565656 48.88%,#5f5f5f 49.57%,#a3a3a3 51.59%,#acacac 52.4%,#aeaeae 53.37%,#aaa 54.26%,#a0a0a0 54.99%,#5c5c5c 56.89%,#525252 57.7%,#4f4f4f 58.67%,#545454 59.64%,#5e5e5e 60.37%,#a5a5a5 62.23%,#aeaeae 63.04%,#b1b1b1 64.01%,#acacac 65.02%,#a0a0a0 65.79%,#5a5a5a 67.57%,#515151 68.38%,#4e4e4e 69.35%,#535353 70.36%,#5e5e5e 71.13%,#a4a4a4 72.91%,#adadad 73.65%,#b1b1b1 74.57%,#adadad 75.5%,#a4a4a4 76.28%,#5f5f5f 78.13%,#515151 79.53%,#535353 80.57%,#5c5c5c 81.5%,#a0a0a0 83.75%,#a9a9a9 84.95%,#a0a0a0 86.65%,#6d6d6d 88.82%,#5e5e5e 90.02%,#616161 91.41%,#8f8f8f 94.27%,#9a9a9a 95.63%,#959595 97.06%,#727272 100%)}
.a42{background:linear-gradient(#7f7f7f 0%,#818181 11.3%,#7c7c7c 16.41%,#878787 21.56%,#737373 26.82%,#797979 28.29%,#909090 31.04%,#929292 32.12%,#8b8b8b 33.48%,#6b6b6b 36.18%,#666 37.35%,#6f6f6f 38.74%,#989898 41.49%,#9e9e9e 42.65%,#939393 44.04%,#636363 46.83%,#5d5d5d 47.99%,#676767 49.3%,#9f9f9f 52.17%,#a4a4a4 53.33%,#9b9b9b 54.61%,#5f5f5f 57.43%,#5a5a5a 58.67%,#626262 59.91%,#a0a0a0 62.65%,#a6a6a6 64.01%,#a0a0a0 65.21%,#5f5f5f 67.96%,#585858 69.35%,#5f5f5f 70.59%,#a0a0a0 73.34%,#a6a6a6 74.57%,#a0a0a0 75.81%,#676767 78.41%,#5c5c5c 79.61%,#5f5f5f 80.84%,#929292 83.67%,#9e9e9e 85.06%,#999 86.26%,#757575 88.85%,#6b6b6b 90.13%,#6e6e6e 91.45%,#898989 94.23%,#8f8f8f 95.63%,#8c8c8c 97.06%,#767676 100%)}
.a43{background:linear-gradient(#7f7f7f 0%,#7e7e7e 16.45%,#828282 21.56%,#7b7b7b 26.82%,#868686 32.12%,#777 37.35%,#8a8a8a 42.65%,#747474 47.95%,#8d8d8d 53.29%,#717171 58.63%,#767676 59.98%,#8b8b8b 62.77%,#8e8e8e 63.97%,#898989 65.33%,#747474 68.07%,#707070 69.31%,#757575 70.67%,#8b8b8b 73.45%,#8e8e8e 74.61%,#737373 79.68%,#8a8a8a 85.06%,#787878 90.17%,#848484 95.59%,#7b7b7b 100%)}
.a44{background:linear-gradient(#808080 0%,#818181 16.45%,#7d7d7d 21.56%,#848484 26.82%,#797979 32.12%,#888 37.35%,#757575 42.65%,#8b8b8b 47.95%,#727272 53.29%,#8e8e8e 58.63%,#898989 59.98%,#747474 62.77%,#717171 63.97%,#767676 65.33%,#8b8b8b 68.07%,#8f8f8f 69.31%,#8a8a8a 70.67%,#747474 73.45%,#717171 74.61%,#8c8c8c 79.68%,#757575 85.06%,#878787 90.17%,#7b7b7b 95.59%,#848484 100%)}
.a45{background:linear-gradient(#808080 0%,#7e7e7e 11.3%,#838383 16.41%,#787878 21.56%,#8c8c8c 26.82%,#868686 28.29%,#6f6f6f 31.04%,#6d6d6d 32.12%,#747474 33.48%,#949494 36.18%,#999 37.35%,#909090 38.74%,#676767 41.49%,#616161 42.65%,#6c6c6c 44.04%,#9c9c9c 46.83%,#a2a2a2 47.99%,#989898 49.3%,#606060 52.17%,#5b5b5b 53.33%,#646464 54.61%,#a0a0a0 57.43%,#a5a5a5 58.67%,#9d9d9d 59.91%,#5f5f5f 62.65%,#595959 64.01%,#5f5f5f 65.21%,#a0a0a0 67.96%,#a7a7a7 69.35%,#a0a0a0 70.59%,#5f5f5f 73.34%,#595959 74.57%,#5f5f5f 75.81%,#989898 78.41%,#a3a3a3 79.61%,#a0a0a0 80.84%,#6d6d6d 83.67%,#616161 85.06%,#666 86.26%,#8a8a8a 88.85%,#949494 90.13%,#919191 91.45%,#767676 94.23%,#707070 95.63%,#737373 97.06%,#898989 100%)}
.a46{background:linear-gradient(#7f7f7f 0%,#7d7d7d 11.3%,#858585 16.41%,#737373 21.56%,#797979 22.95%,#909090 25.66%,#939393 26.78%,#8c8c8c 28.06%,#676767 30.84%,#606060 32.08%,#6c6c6c 33.48%,#a0a0a0 36.07%,#a5a5a5 37.38%,#9c9c9c 38.62%,#5f5f5f 41.06%,#565656 42.72%,#5f5f5f 44.04%,#a2a2a2 46.28%,#aaa 47.1%,#acacac 48.03%,#a9a9a9 48.88%,#a0a0a0 49.57%,#5c5c5c 51.59%,#535353 52.4%,#515151 53.37%,#555 54.26%,#5f5f5f 54.99%,#a3a3a3 56.89%,#adadad 57.7%,#b0b0b0 58.67%,#ababab 59.64%,#a1a1a1 60.37%,#5a5a5a 62.23%,#515151 63.04%,#4e4e4e 64.01%,#535353 65.02%,#5f5f5f 65.79%,#a5a5a5 67.57%,#aeaeae 68.38%,#b1b1b1 69.35%,#acacac 70.36%,#a1a1a1 71.13%,#5b5b5b 72.91%,#525252 73.65%,#4e4e4e 74.57%,#525252 75.5%,#5b5b5b 76.28%,#a0a0a0 78.13%,#aeaeae 79.53%,#acacac 80.57%,#a3a3a3 81.5%,#5f5f5f 83.75%,#565656 84.95%,#5f5f5f 86.65%,#929292 88.82%,#a1a1a1 90.02%,#9e9e9e 91.41%,#707070 94.27%,#656565 95.63%,#6a6a6a 97.06%,#8d8d8d 100%)}
.a47{background:linear-gradient(#7f7f7f 0%,#7c7c7c 11.26%,#888 16.41%,#6f6f6f 21.56%,#767676 22.95%,#979797 25.66%,#9b9b9b 26.78%,#8f8f8f 28.25%,#5f5f5f 30.77%,#595959 32.16%,#636363 33.36%,#a1a1a1 35.6%,#aaa 36.46%,#acacac 37.42%,#a0a0a0 38.85%,#5b5b5b 40.87%,#525252 41.72%,#4f4f4f 42.72%,#545454 43.69%,#5f5f5f 44.39%,#a6a6a6 46.13%,#b0b0b0 46.98%,#b3b3b3 48.03%,#aeaeae 49.03%,#a1a1a1 49.81%,#585858 51.47%,#4d4d4d 52.32%,#4a4a4a 53.37%,#4f4f4f 54.37%,#5c5c5c 55.15%,#a8a8a8 56.77%,#b3b3b3 57.62%,#b6b6b6 58.71%,#b1b1b1 59.75%,#a3a3a3 60.53%,#606060 61.76%,#565656 62.11%,#4b4b4b 62.96%,#484848 64.05%,#4d4d4d 65.13%,#5b5b5b 65.91%,#9f9f9f 67.11%,#a9a9a9 67.45%,#b4b4b4 68.3%,#b8b8b8 69.35%,#b2b2b2 70.43%,#a4a4a4 71.25%,#606060 72.45%,#565656 72.79%,#4b4b4b 73.57%,#474747 74.57%,#4b4b4b 75.58%,#575757 76.39%,#a1a1a1 77.9%,#aeaeae 78.56%,#b4b4b4 79.45%,#b3b3b3 80.61%,#a8a8a8 81.62%,#5e5e5e 83.44%,#545454 84.09%,#505050 84.95%,#525252 86.03%,#5d5d5d 86.92%,#a0a0a0 89.01%,#a8a8a8 89.9%,#a8a8a8 90.98%,#a0a0a0 91.99%,#6b6b6b 94.27%,#5d5d5d 95.55%,#626262 96.98%,#929292 100%)}
.a48{background:linear-gradient(#7f7f7f 0%,#7c7c7c 11.26%,#8a8a8a 16.41%,#848484 17.8%,#6d6d6d 20.43%,#6a6a6a 21.52%,#747474 22.91%,#9d9d9d 25.66%,#a1a1a1 26.82%,#9e9e9e 27.44%,#939393 28.21%,#5e5e5e 30.38%,#565656 31.23%,#545454 32.16%,#5f5f5f 33.48%,#a5a5a5 35.53%,#aeaeae 36.38%,#b1b1b1 37.42%,#acacac 38.35%,#a0a0a0 39.05%,#585858 40.75%,#4d4d4d 41.64%,#4a4a4a 42.72%,#505050 43.73%,#5c5c5c 44.47%,#9f9f9f 45.7%,#a9a9a9 46.05%,#b5b5b5 46.94%,#b8b8b8 48.03%,#b2b2b2 49.07%,#a4a4a4 49.85%,#5f5f5f 51.01%,#545454 51.39%,#494949 52.28%,#454545 53.37%,#4b4b4b 54.45%,#5a5a5a 55.22%,#9f9f9f 56.31%,#acacac 56.7%,#b7b7b7 57.55%,#bbb 58.67%,#b5b5b5 59.79%,#a7a7a7 60.57%,#5f5f5f 61.65%,#535353 62.04%,#474747 62.89%,#434343 64.01%,#494949 65.13%,#585858 65.94%,#a0a0a0 66.99%,#adadad 67.38%,#b9b9b9 68.23%,#bcbcbc 69.35%,#b6b6b6 70.47%,#a7a7a7 71.28%,#5f5f5f 72.33%,#525252 72.72%,#464646 73.53%,#424242 74.57%,#474747 75.66%,#545454 76.47%,#5f5f5f 76.82%,#a3a3a3 77.83%,#b2b2b2 78.48%,#b9b9b9 79.41%,#b7b7b7 80.65%,#ababab 81.66%,#a0a0a0 82.08%,#5d5d5d 83.28%,#505050 83.98%,#4b4b4b 84.95%,#4e4e4e 86.07%,#595959 87%,#9f9f9f 88.74%,#adadad 89.82%,#adadad 91.02%,#a4a4a4 92.11%,#636363 94.43%,#595959 95.59%,#5f5f5f 97.17%,#989898 100%)}
.a49{background:linear-gradient(#808080 0%,#808080 6.73%,#7b7b7b 11.22%,#8c8c8c 16.37%,#858585 17.8%,#6a6a6a 20.43%,#666 21.52%,#727272 22.91%,#a0a0a0 25.43%,#a5a5a5 26.82%,#a1a1a1 27.67%,#999 28.1%,#5c5c5c 30.26%,#535353 31.15%,#515151 32.16%,#555 32.97%,#5f5f5f 33.63%,#a7a7a7 35.41%,#b1b1b1 36.3%,#b4b4b4 37.38%,#afafaf 38.35%,#a3a3a3 39.09%,#606060 40.33%,#555 40.71%,#4a4a4a 41.6%,#474747 42.72%,#4d4d4d 43.77%,#5a5a5a 44.5%,#9f9f9f 45.59%,#acacac 46.01%,#b8b8b8 46.9%,#bbb 48.03%,#b5b5b5 49.11%,#a6a6a6 49.88%,#606060 50.89%,#525252 51.32%,#454545 52.21%,#424242 53.33%,#484848 54.45%,#575757 55.22%,#a0a0a0 56.23%,#afafaf 56.66%,#bbb 57.55%,#bfbfbf 58.67%,#b8b8b8 59.83%,#a9a9a9 60.6%,#5e5e5e 61.57%,#505050 62%,#434343 62.89%,#3f3f3f 64.01%,#454545 65.13%,#555 65.94%,#a1a1a1 66.91%,#b0b0b0 67.34%,#bdbdbd 68.23%,#c0c0c0 69.35%,#bababa 70.47%,#aaa 71.28%,#5e5e5e 72.25%,#4f4f4f 72.68%,#434343 73.49%,#3f3f3f 74.57%,#444 75.7%,#515151 76.51%,#5e5e5e 76.86%,#a6a6a6 77.79%,#b5b5b5 78.41%,#bcbcbc 79.33%,#bbb 80.65%,#aeaeae 81.7%,#9f9f9f 82.16%,#5a5a5a 83.2%,#4c4c4c 83.94%,#474747 84.95%,#4a4a4a 86.15%,#575757 87.07%,#a0a0a0 88.62%,#b0b0b0 89.74%,#b1b1b1 90.98%,#a7a7a7 92.14%,#5f5f5f 94.35%,#555 95.63%,#575757 96.56%,#5f5f5f 97.41%,#9f9f9f 100%)}
.a50{background:linear-gradient(#808080 0%,#808080 6.7%,#7a7a7a 11.22%,#8d8d8d 16.37%,#868686 17.76%,#666 20.39%,#626262 21.48%,#6f6f6f 22.87%,#a0a0a0 25.15%,#a8a8a8 26.82%,#9f9f9f 27.98%,#5a5a5a 30.19%,#515151 31.08%,#4e4e4e 32.12%,#535353 33.05%,#5e5e5e 33.71%,#a0a0a0 35.02%,#a9a9a9 35.37%,#b4b4b4 36.26%,#b7b7b7 37.38%,#b2b2b2 38.39%,#a4a4a4 39.13%,#5f5f5f 40.25%,#535353 40.63%,#474747 41.52%,#444 42.69%,#4a4a4a 43.77%,#585858 44.5%,#9f9f9f 45.51%,#aeaeae 45.94%,#bbb 46.87%,#bebebe 48.03%,#b8b8b8 49.11%,#a8a8a8 49.88%,#606060 50.81%,#505050 51.24%,#434343 52.13%,#3f3f3f 53.33%,#454545 54.45%,#555 55.22%,#5f5f5f 55.46%,#a0a0a0 56.15%,#b1b1b1 56.62%,#bebebe 57.51%,#c2c2c2 58.67%,#bbb 59.83%,#ababab 60.6%,#5f5f5f 61.49%,#4e4e4e 61.92%,#404040 62.81%,#3c3c3c 64.01%,#434343 65.17%,#535353 65.94%,#616161 66.22%,#a1a1a1 66.83%,#b2b2b2 67.26%,#bfbfbf 68.15%,#c3c3c3 69.31%,#bcbcbc 70.51%,#acacac 71.32%,#a0a0a0 71.56%,#606060 72.17%,#4d4d4d 72.64%,#404040 73.49%,#3c3c3c 74.57%,#414141 75.7%,#4f4f4f 76.51%,#5e5e5e 76.9%,#a7a7a7 77.71%,#b7b7b7 78.33%,#bfbfbf 79.3%,#bebebe 80.61%,#b1b1b1 81.7%,#a0a0a0 82.2%,#585858 83.17%,#4a4a4a 83.9%,#434343 84.95%,#474747 86.15%,#545454 87.11%,#5f5f5f 87.46%,#a0a0a0 88.54%,#b3b3b3 89.71%,#b4b4b4 91.02%,#a9a9a9 92.18%,#a0a0a0 92.61%,#5f5f5f 94.16%,#565656 94.78%,#525252 95.63%,#545454 96.71%,#5f5f5f 97.6%,#a3a3a3 100%)}
.a51{background:linear-gradient(#808080 0%,#808080 6.7%,#7a7a7a 11.18%,#8f8f8f 16.33%,#868686 17.76%,#636363 20.39%,#5f5f5f 21.44%,#6d6d6d 22.83%,#a1a1a1 25%,#a8a8a8 25.85%,#aaa 26.78%,#a0a0a0 28.06%,#595959 30.11%,#4e4e4e 31.04%,#4c4c4c 32.12%,#515151 33.05%,#5e5e5e 33.75%,#9f9f9f 34.91%,#aaa 35.29%,#b6b6b6 36.22%,#b9b9b9 37.38%,#b4b4b4 38.39%,#a5a5a5 39.13%,#5f5f5f 40.17%,#515151 40.6%,#454545 41.52%,#414141 42.69%,#484848 43.77%,#575757 44.5%,#a1a1a1 45.47%,#b0b0b0 45.9%,#bdbdbd 46.83%,#c0c0c0 47.99%,#bababa 49.11%,#aaa 49.88%,#5e5e5e 50.77%,#4e4e4e 51.2%,#404040 52.13%,#3d3d3d 53.33%,#444 54.49%,#555 55.26%,#a1a1a1 56.11%,#b2b2b2 56.54%,#c0c0c0 57.43%,#c4c4c4 58.63%,#bdbdbd 59.79%,#acacac 60.6%,#a0a0a0 60.84%,#5d5d5d 61.46%,#4c4c4c 61.88%,#3e3e3e 62.77%,#3a3a3a 63.97%,#404040 65.13%,#515151 65.94%,#5f5f5f 66.22%,#a2a2a2 66.8%,#b4b4b4 67.22%,#c1c1c1 68.11%,#c6c6c6 69.31%,#bfbfbf 70.51%,#adadad 71.32%,#a1a1a1 71.56%,#5e5e5e 72.14%,#4c4c4c 72.56%,#3e3e3e 73.41%,#393939 74.54%,#3f3f3f 75.66%,#4d4d4d 76.51%,#5e5e5e 76.9%,#a9a9a9 77.67%,#b9b9b9 78.29%,#c2c2c2 79.26%,#c0c0c0 80.65%,#b2b2b2 81.73%,#a0a0a0 82.24%,#575757 83.13%,#484848 83.86%,#414141 84.91%,#454545 86.18%,#535353 87.15%,#5f5f5f 87.5%,#a0a0a0 88.47%,#adadad 88.97%,#b5b5b5 89.67%,#b6b6b6 90.98%,#ababab 92.18%,#a0a0a0 92.65%,#5e5e5e 94.04%,#545454 94.7%,#4f4f4f 95.59%,#525252 96.75%,#5d5d5d 97.68%,#979797 99.38%,#a4a4a4 100%)}
.a52{background:linear-gradient(#7f7f7f 0%,#818181 6.66%,#797979 11.18%,#919191 16.29%,#878787 17.72%,#616161 20.39%,#5d5d5d 21.52%,#606060 22.1%,#6c6c6c 22.83%,#a1a1a1 24.88%,#aaa 25.77%,#acacac 26.78%,#a0a0a0 28.1%,#575757 30.07%,#4d4d4d 31%,#4a4a4a 32.12%,#505050 33.09%,#5d5d5d 33.75%,#a1a1a1 34.87%,#acacac 35.26%,#b8b8b8 36.18%,#bbb 37.35%,#b5b5b5 38.39%,#a6a6a6 39.13%,#606060 40.09%,#515151 40.52%,#434343 41.45%,#404040 42.65%,#474747 43.77%,#565656 44.5%,#a0a0a0 45.39%,#b1b1b1 45.82%,#bebebe 46.75%,#c2c2c2 47.95%,#bbb 49.11%,#aaa 49.88%,#5d5d5d 50.74%,#4d4d4d 51.16%,#3f3f3f 52.09%,#3b3b3b 53.29%,#424242 54.45%,#525252 55.22%,#5e5e5e 55.46%,#a0a0a0 56.04%,#b4b4b4 56.5%,#c2c2c2 57.43%,#c6c6c6 58.63%,#bebebe 59.83%,#adadad 60.6%,#a0a0a0 60.84%,#5e5e5e 61.38%,#4a4a4a 61.84%,#3c3c3c 62.77%,#383838 63.97%,#3f3f3f 65.17%,#505050 65.94%,#5f5f5f 66.22%,#a0a0a0 66.72%,#b5b5b5 67.18%,#c3c3c3 68.07%,#c8c8c8 69.27%,#c1c1c1 70.47%,#afafaf 71.28%,#a1a1a1 71.56%,#5c5c5c 72.1%,#4a4a4a 72.52%,#3c3c3c 73.37%,#373737 74.54%,#3d3d3d 75.7%,#4c4c4c 76.51%,#5d5d5d 76.9%,#ababab 77.63%,#bbb 78.25%,#c4c4c4 79.22%,#c2c2c2 80.61%,#b4b4b4 81.73%,#a1a1a1 82.24%,#565656 83.09%,#464646 83.82%,#3f3f3f 84.91%,#434343 86.18%,#525252 87.15%,#606060 87.54%,#a2a2a2 88.43%,#afafaf 88.93%,#b7b7b7 89.63%,#b8b8b8 90.98%,#acacac 92.22%,#a1a1a1 92.69%,#5e5e5e 93.96%,#525252 94.66%,#4c4c4c 95.59%,#505050 96.79%,#5c5c5c 97.76%,#999 99.42%,#a5a5a5 100%)}
.a53{background:linear-gradient(#7f7f7f 0%,#818181 6.66%,#797979 11.15%,#7e7e7e 12.62%,#909090 15.21%,#929292 16.25%,#888 17.69%,#5f5f5f 20.32%,#5c5c5c 21.48%,#5f5f5f 22.1%,#696969 22.72%,#a2a2a2 24.85%,#ababab 25.74%,#adadad 26.74%,#a0a0a0 28.13%,#575757 29.99%,#4b4b4b 30.96%,#484848 32.08%,#4e4e4e 33.05%,#5b5b5b 33.71%,#a0a0a0 34.79%,#acacac 35.18%,#b9b9b9 36.11%,#bdbdbd 37.31%,#b6b6b6 38.35%,#a8a8a8 39.09%,#5e5e5e 40.05%,#4f4f4f 40.48%,#424242 41.41%,#3e3e3e 42.65%,#454545 43.73%,#545454 44.47%,#a1a1a1 45.36%,#b2b2b2 45.78%,#c0c0c0 46.71%,#c4c4c4 47.95%,#bdbdbd 49.07%,#acacac 49.85%,#a1a1a1 50.08%,#5f5f5f 50.66%,#4b4b4b 51.12%,#3d3d3d 52.05%,#393939 53.25%,#414141 54.45%,#525252 55.22%,#5f5f5f 55.46%,#a1a1a1 56%,#b5b5b5 56.46%,#c3c3c3 57.35%,#c7c7c7 58.59%,#c0c0c0 59.79%,#afafaf 60.57%,#9f9f9f 60.84%,#5e5e5e 61.34%,#494949 61.8%,#3b3b3b 62.69%,#363636 63.93%,#3e3e3e 65.13%,#505050 65.94%,#616161 66.22%,#a1a1a1 66.68%,#b6b6b6 67.14%,#c5c5c5 68.03%,#c9c9c9 69.23%,#c2c2c2 70.47%,#afafaf 71.28%,#9f9f9f 71.56%,#5e5e5e 72.02%,#484848 72.48%,#3a3a3a 73.34%,#363636 74.5%,#3c3c3c 75.66%,#4b4b4b 76.51%,#5e5e5e 76.9%,#acacac 77.59%,#bcbcbc 78.21%,#c5c5c5 79.18%,#c4c4c4 80.61%,#b5b5b5 81.73%,#a1a1a1 82.24%,#555 83.05%,#454545 83.78%,#3e3e3e 84.87%,#424242 86.18%,#515151 87.15%,#606060 87.54%,#a3a3a3 88.39%,#b1b1b1 88.89%,#b9b9b9 89.59%,#bababa 91.02%,#adadad 92.26%,#a0a0a0 92.76%,#5d5d5d 93.96%,#515151 94.66%,#4b4b4b 95.59%,#4e4e4e 96.79%,#5a5a5a 97.76%,#9e9e9e 99.5%,#a7a7a7 100%)}
.a54{background:linear-gradient(#7f7f7f 0%,#818181 6.62%,#787878 11.11%,#7e7e7e 12.58%,#909090 15.17%,#939393 16.22%,#888 17.65%,#5f5f5f 20.16%,#5b5b5b 21.44%,#5f5f5f 22.17%,#686868 22.68%,#a3a3a3 24.77%,#acacac 25.66%,#aeaeae 26.7%,#aaa 27.55%,#a0a0a0 28.17%,#565656 29.95%,#4a4a4a 30.92%,#474747 32.04%,#4d4d4d 33.01%,#5b5b5b 33.71%,#9f9f9f 34.71%,#adadad 35.14%,#bababa 36.11%,#bebebe 37.31%,#b7b7b7 38.35%,#a8a8a8 39.09%,#606060 39.98%,#4e4e4e 40.44%,#414141 41.37%,#3d3d3d 42.61%,#444 43.73%,#555 44.47%,#9f9f9f 45.28%,#b3b3b3 45.74%,#c1c1c1 46.67%,#c5c5c5 47.91%,#bebebe 49.03%,#adadad 49.81%,#9e9e9e 50.08%,#5e5e5e 50.62%,#4a4a4a 51.08%,#3c3c3c 52.01%,#383838 53.21%,#404040 54.41%,#515151 55.19%,#5e5e5e 55.42%,#a2a2a2 55.96%,#b6b6b6 56.42%,#c4c4c4 57.31%,#c8c8c8 58.55%,#c1c1c1 59.75%,#b0b0b0 60.53%,#a1a1a1 60.8%,#5d5d5d 61.3%,#484848 61.76%,#3a3a3a 62.65%,#353535 63.89%,#3d3d3d 65.09%,#4f4f4f 65.91%,#606060 66.18%,#a2a2a2 66.64%,#b8b8b8 67.11%,#c6c6c6 68%,#cacaca 69.23%,#c3c3c3 70.43%,#b1b1b1 71.25%,#a1a1a1 71.52%,#5d5d5d 71.98%,#484848 72.41%,#393939 73.26%,#343434 74.46%,#3a3a3a 75.66%,#4a4a4a 76.51%,#5e5e5e 76.9%,#acacac 77.55%,#bdbdbd 78.17%,#c7c7c7 79.14%,#c5c5c5 80.57%,#b6b6b6 81.7%,#a0a0a0 82.24%,#545454 83.01%,#434343 83.75%,#3c3c3c 84.87%,#414141 86.18%,#505050 87.15%,#606060 87.54%,#a4a4a4 88.35%,#b2b2b2 88.85%,#bababa 89.55%,#bcbcbc 90.98%,#afafaf 92.26%,#a1a1a1 92.8%,#5c5c5c 93.96%,#505050 94.66%,#4a4a4a 95.59%,#4d4d4d 96.75%,#5a5a5a 97.72%,#a0a0a0 99.42%,#a9a9a9 100%)}
.a55{background:linear-gradient(#808080 0%,#818181 6.58%,#787878 11.07%,#7e7e7e 12.54%,#919191 15.13%,#939393 16.18%,#888 17.61%,#5f5f5f 20.05%,#5a5a5a 21.4%,#5e5e5e 22.17%,#666 22.6%,#a4a4a4 24.73%,#adadad 25.62%,#afafaf 26.66%,#aaa 27.52%,#a1a1a1 28.13%,#5f5f5f 29.53%,#555 29.91%,#4a4a4a 30.88%,#474747 32%,#4d4d4d 32.97%,#5b5b5b 33.67%,#a0a0a0 34.67%,#aeaeae 35.1%,#bbb 36.07%,#bfbfbf 37.27%,#b8b8b8 38.31%,#a8a8a8 39.05%,#5f5f5f 39.94%,#4e4e4e 40.4%,#404040 41.33%,#3c3c3c 42.57%,#444 43.69%,#545454 44.43%,#a1a1a1 45.24%,#b4b4b4 45.7%,#c2c2c2 46.63%,#c6c6c6 47.87%,#bfbfbf 48.99%,#aeaeae 49.77%,#9f9f9f 50.04%,#5d5d5d 50.58%,#4a4a4a 51.01%,#3c3c3c 51.93%,#373737 53.17%,#3f3f3f 54.37%,#505050 55.15%,#616161 55.42%,#a3a3a3 55.92%,#b6b6b6 56.35%,#c5c5c5 57.28%,#c9c9c9 58.51%,#c1c1c1 59.75%,#afafaf 60.53%,#a2a2a2 60.76%,#5c5c5c 61.26%,#474747 61.73%,#393939 62.62%,#343434 63.85%,#3c3c3c 65.05%,#4e4e4e 65.87%,#5f5f5f 66.14%,#a0a0a0 66.56%,#b8b8b8 67.03%,#c7c7c7 67.96%,#cbcbcb 69.2%,#c4c4c4 70.39%,#b2b2b2 71.21%,#a2a2a2 71.48%,#5c5c5c 71.94%,#474747 72.37%,#393939 73.22%,#333 74.42%,#393939 75.62%,#494949 76.47%,#5d5d5d 76.86%,#adadad 77.52%,#bebebe 78.13%,#c8c8c8 79.06%,#c7c7c7 80.5%,#b7b7b7 81.66%,#a2a2a2 82.2%,#606060 82.74%,#535353 82.97%,#424242 83.71%,#3b3b3b 84.83%,#3f3f3f 86.15%,#4f4f4f 87.15%,#5f5f5f 87.54%,#a3a3a3 88.31%,#b1b1b1 88.78%,#bbb 89.51%,#bcbcbc 90.98%,#b0b0b0 92.26%,#a1a1a1 92.8%,#5c5c5c 93.92%,#4f4f4f 94.62%,#494949 95.59%,#4d4d4d 96.79%,#5a5a5a 97.72%,#a0a0a0 99.3%,#acacac 100%)}
.a56{background:linear-gradient(#808080 0%,#818181 6.54%,#787878 11.03%,#7e7e7e 12.5%,#919191 15.09%,#949494 16.14%,#888 17.57%,#5f5f5f 19.93%,#5a5a5a 21.36%,#5e5e5e 22.14%,#666 22.56%,#a4a4a4 24.65%,#adadad 25.58%,#b0b0b0 26.63%,#ababab 27.48%,#a0a0a0 28.13%,#606060 29.45%,#555 29.84%,#494949 30.8%,#464646 31.97%,#4c4c4c 32.93%,#5b5b5b 33.63%,#9f9f9f 34.6%,#aeaeae 35.02%,#bcbcbc 35.99%,#bfbfbf 37.19%,#b8b8b8 38.27%,#a9a9a9 39.01%,#5e5e5e 39.9%,#4e4e4e 40.33%,#404040 41.29%,#3c3c3c 42.53%,#434343 43.65%,#545454 44.39%,#a2a2a2 45.2%,#b4b4b4 45.67%,#c2c2c2 46.59%,#c6c6c6 47.83%,#bfbfbf 48.96%,#aeaeae 49.73%,#9f9f9f 50%,#5f5f5f 50.5%,#4a4a4a 50.97%,#3b3b3b 51.9%,#373737 53.13%,#3e3e3e 54.33%,#505050 55.11%,#606060 55.38%,#a1a1a1 55.84%,#b6b6b6 56.31%,#c5c5c5 57.24%,#cacaca 58.48%,#c2c2c2 59.71%,#afafaf 60.49%,#a2a2a2 60.72%,#5e5e5e 61.18%,#474747 61.65%,#383838 62.58%,#343434 63.82%,#3c3c3c 65.05%,#4e4e4e 65.83%,#5f5f5f 66.1%,#a2a2a2 66.52%,#b9b9b9 66.99%,#c8c8c8 67.92%,#ccc 69.16%,#c4c4c4 70.39%,#b1b1b1 71.21%,#9e9e9e 71.48%,#5f5f5f 71.87%,#474747 72.33%,#383838 73.18%,#333 74.38%,#393939 75.58%,#494949 76.43%,#5d5d5d 76.82%,#acacac 77.44%,#bfbfbf 78.06%,#c8c8c8 79.02%,#c7c7c7 80.5%,#b8b8b8 81.66%,#a0a0a0 82.2%,#5f5f5f 82.7%,#525252 82.93%,#414141 83.67%,#3a3a3a 84.83%,#3f3f3f 86.15%,#4f4f4f 87.15%,#5e5e5e 87.54%,#a4a4a4 88.31%,#b2b2b2 88.78%,#bbb 89.47%,#bdbdbd 90.94%,#b0b0b0 92.22%,#9f9f9f 92.8%,#5b5b5b 93.89%,#4e4e4e 94.58%,#484848 95.59%,#4c4c4c 96.79%,#595959 97.72%,#a0a0a0 99.26%,#adadad 100%)}
.a57{background:linear-gradient(#808080 0%,#818181 6.5%,#787878 10.99%,#7e7e7e 12.46%,#929292 15.05%,#949494 16.1%,#888 17.53%,#5f5f5f 19.85%,#595959 21.32%,#656565 22.48%,#a4a4a4 24.61%,#aeaeae 25.54%,#b0b0b0 26.59%,#ababab 27.44%,#a1a1a1 28.06%,#5f5f5f 29.41%,#555 29.8%,#494949 30.77%,#464646 31.93%,#4c4c4c 32.89%,#5b5b5b 33.59%,#a0a0a0 34.56%,#aeaeae 34.98%,#bcbcbc 35.95%,#bfbfbf 37.15%,#b9b9b9 38.24%,#a9a9a9 38.97%,#5f5f5f 39.82%,#4d4d4d 40.29%,#3f3f3f 41.22%,#3b3b3b 42.45%,#434343 43.61%,#545454 44.35%,#a0a0a0 45.12%,#b4b4b4 45.59%,#c2c2c2 46.52%,#c7c7c7 47.79%,#bfbfbf 48.92%,#aeaeae 49.69%,#9e9e9e 49.96%,#5e5e5e 50.46%,#494949 50.93%,#3b3b3b 51.86%,#363636 53.1%,#3e3e3e 54.3%,#505050 55.07%,#616161 55.34%,#a2a2a2 55.8%,#b7b7b7 56.27%,#c6c6c6 57.2%,#cacaca 58.44%,#c2c2c2 59.64%,#b1b1b1 60.41%,#a1a1a1 60.68%,#5c5c5c 61.15%,#474747 61.61%,#383838 62.54%,#333 63.78%,#3b3b3b 65.02%,#4e4e4e 65.79%,#5f5f5f 66.06%,#a3a3a3 66.49%,#b9b9b9 66.95%,#c8c8c8 67.84%,#cdcdcd 69.08%,#c5c5c5 70.32%,#b3b3b3 71.13%,#a2a2a2 71.4%,#5d5d5d 71.83%,#464646 72.29%,#373737 73.14%,#323232 74.34%,#383838 75.54%,#494949 76.39%,#5d5d5d 76.78%,#aeaeae 77.4%,#c0c0c0 78.02%,#c9c9c9 78.99%,#c8c8c8 80.46%,#b9b9b9 81.62%,#a2a2a2 82.16%,#606060 82.66%,#525252 82.89%,#414141 83.63%,#393939 84.79%,#3e3e3e 86.11%,#4e4e4e 87.11%,#5d5d5d 87.5%,#a5a5a5 88.27%,#b3b3b3 88.74%,#bbb 89.43%,#bebebe 90.91%,#b1b1b1 92.18%,#a0a0a0 92.76%,#5b5b5b 93.81%,#4d4d4d 94.54%,#474747 95.55%,#4b4b4b 96.79%,#585858 97.76%,#9f9f9f 99.26%,#adadad 100%)}
.a58{background:linear-gradient(#7f7f7f 0%,#818181 6.46%,#787878 10.91%,#7e7e7e 12.38%,#929292 15.02%,#949494 16.06%,#888 17.49%,#5f5f5f 19.81%,#5a5a5a 21.28%,#656565 22.45%,#a4a4a4 24.54%,#aeaeae 25.46%,#b0b0b0 26.51%,#ababab 27.36%,#a1a1a1 28.02%,#606060 29.33%,#555 29.72%,#494949 30.69%,#464646 31.85%,#4c4c4c 32.82%,#5a5a5a 33.51%,#a1a1a1 34.52%,#afafaf 34.95%,#bcbcbc 35.91%,#bfbfbf 37.11%,#b9b9b9 38.16%,#aaa 38.89%,#5e5e5e 39.78%,#4d4d4d 40.25%,#3f3f3f 41.18%,#3b3b3b 42.41%,#434343 43.54%,#535353 44.27%,#5f5f5f 44.5%,#a1a1a1 45.09%,#b5b5b5 45.55%,#c3c3c3 46.48%,#c7c7c7 47.72%,#bfbfbf 48.88%,#aeaeae 49.65%,#a1a1a1 49.88%,#5d5d5d 50.43%,#494949 50.89%,#3a3a3a 51.82%,#363636 53.06%,#3e3e3e 54.22%,#4f4f4f 54.99%,#5e5e5e 55.26%,#a0a0a0 55.73%,#b7b7b7 56.19%,#c6c6c6 57.12%,#cacaca 58.4%,#c2c2c2 59.6%,#b0b0b0 60.37%,#9f9f9f 60.64%,#5e5e5e 61.07%,#474747 61.53%,#383838 62.46%,#333 63.74%,#3b3b3b 64.98%,#4e4e4e 65.75%,#616161 66.02%,#a0a0a0 66.41%,#b9b9b9 66.87%,#c8c8c8 67.76%,#cdcdcd 69.04%,#c5c5c5 70.28%,#b2b2b2 71.09%,#a0a0a0 71.36%,#5b5b5b 71.79%,#464646 72.21%,#363636 73.1%,#323232 74.3%,#383838 75.5%,#484848 76.35%,#5e5e5e 76.74%,#afafaf 77.36%,#c0c0c0 77.98%,#cacaca 78.95%,#c9c9c9 80.42%,#b9b9b9 81.58%,#a3a3a3 82.12%,#606060 82.62%,#505050 82.89%,#404040 83.63%,#393939 84.75%,#3e3e3e 86.07%,#4e4e4e 87.07%,#5e5e5e 87.46%,#a4a4a4 88.2%,#b3b3b3 88.66%,#bcbcbc 89.4%,#bebebe 90.87%,#b1b1b1 92.18%,#a0a0a0 92.76%,#5a5a5a 93.81%,#4c4c4c 94.5%,#464646 95.51%,#4a4a4a 96.75%,#575757 97.76%,#a0a0a0 99.3%,#acacac 100%)}
.a59{background:linear-gradient(#7f7f7f 0%,#818181 6.42%,#787878 10.87%,#7e7e7e 12.35%,#919191 14.94%,#949494 15.98%,#888 17.41%,#5f5f5f 19.78%,#5a5a5a 21.21%,#656565 22.37%,#a4a4a4 24.5%,#aeaeae 25.43%,#b0b0b0 26.47%,#ababab 27.32%,#a0a0a0 27.98%,#5f5f5f 29.3%,#555 29.68%,#494949 30.65%,#464646 31.81%,#4c4c4c 32.78%,#5a5a5a 33.48%,#a0a0a0 34.44%,#aeaeae 34.87%,#bcbcbc 35.84%,#bfbfbf 37.04%,#b9b9b9 38.12%,#a9a9a9 38.85%,#5f5f5f 39.71%,#4d4d4d 40.17%,#3f3f3f 41.14%,#3b3b3b 42.38%,#434343 43.5%,#545454 44.23%,#a0a0a0 45.01%,#b4b4b4 45.47%,#c2c2c2 46.4%,#c7c7c7 47.68%,#c0c0c0 48.8%,#afafaf 49.57%,#9f9f9f 49.85%,#5e5e5e 50.35%,#494949 50.81%,#3b3b3b 51.74%,#363636 52.98%,#3e3e3e 54.18%,#505050 54.95%,#5d5d5d 55.19%,#a2a2a2 55.69%,#b7b7b7 56.15%,#c6c6c6 57.08%,#cacaca 58.32%,#c3c3c3 59.52%,#b1b1b1 60.29%,#a2a2a2 60.57%,#5d5d5d 61.03%,#464646 61.49%,#373737 62.42%,#333 63.66%,#3b3b3b 64.9%,#4d4d4d 65.67%,#5e5e5e 65.94%,#a3a3a3 66.37%,#b9b9b9 66.83%,#c9c9c9 67.76%,#cdcdcd 69%,#c6c6c6 70.2%,#b3b3b3 71.01%,#a2a2a2 71.28%,#5c5c5c 71.71%,#464646 72.14%,#363636 73.03%,#313131 74.23%,#373737 75.43%,#474747 76.28%,#5e5e5e 76.7%,#9e9e9e 77.09%,#afafaf 77.32%,#c1c1c1 77.94%,#cacaca 78.87%,#c9c9c9 80.38%,#b9b9b9 81.54%,#a2a2a2 82.08%,#5f5f5f 82.59%,#515151 82.82%,#404040 83.55%,#393939 84.71%,#3e3e3e 86.07%,#4e4e4e 87.04%,#5e5e5e 87.42%,#a5a5a5 88.16%,#b3b3b3 88.62%,#bdbdbd 89.36%,#bfbfbf 90.87%,#b2b2b2 92.18%,#a1a1a1 92.76%,#5a5a5a 93.81%,#4c4c4c 94.5%,#464646 95.51%,#4a4a4a 96.75%,#575757 97.72%,#a0a0a0 99.26%,#adadad 100%)}
.a60{background:linear-gradient(#808080 0%,#808080 6.39%,#787878 10.8%,#7e7e7e 12.27%,#919191 14.9%,#939393 15.94%,#888 17.38%,#5f5f5f 19.74%,#5a5a5a 21.13%,#5e5e5e 21.9%,#666 22.33%,#a4a4a4 24.46%,#adadad 25.35%,#afafaf 26.39%,#ababab 27.24%,#a0a0a0 27.9%,#5e5e5e 29.26%,#555 29.64%,#494949 30.61%,#464646 31.73%,#4c4c4c 32.7%,#5a5a5a 33.4%,#a1a1a1 34.4%,#afafaf 34.83%,#bcbcbc 35.8%,#bfbfbf 37%,#b8b8b8 38.04%,#a9a9a9 38.78%,#5e5e5e 39.67%,#4e4e4e 40.09%,#3f3f3f 41.06%,#3c3c3c 42.3%,#434343 43.42%,#535353 44.16%,#5f5f5f 44.39%,#a1a1a1 44.97%,#b4b4b4 45.43%,#c2c2c2 46.36%,#c6c6c6 47.6%,#bfbfbf 48.76%,#adadad 49.54%,#a0a0a0 49.77%,#5f5f5f 50.27%,#4a4a4a 50.74%,#3b3b3b 51.66%,#373737 52.9%,#3e3e3e 54.1%,#505050 54.88%,#606060 55.15%,#a1a1a1 55.61%,#b7b7b7 56.08%,#c6c6c6 57%,#cacaca 58.28%,#c2c2c2 59.48%,#b0b0b0 60.26%,#9f9f9f 60.53%,#5e5e5e 60.95%,#474747 61.42%,#383838 62.35%,#333 63.62%,#3b3b3b 64.82%,#4d4d4d 65.6%,#5d5d5d 65.87%,#a2a2a2 66.29%,#b9b9b9 66.76%,#c9c9c9 67.69%,#cdcdcd 68.92%,#c5c5c5 70.16%,#b2b2b2 70.98%,#9f9f9f 71.25%,#5d5d5d 71.63%,#454545 72.1%,#363636 72.99%,#313131 74.19%,#373737 75.39%,#484848 76.24%,#5c5c5c 76.63%,#aeaeae 77.24%,#c0c0c0 77.86%,#cacaca 78.83%,#c9c9c9 80.34%,#b9b9b9 81.5%,#a0a0a0 82.04%,#616161 82.51%,#505050 82.78%,#404040 83.51%,#393939 84.67%,#3e3e3e 86.03%,#4e4e4e 87%,#5e5e5e 87.38%,#a5a5a5 88.12%,#b3b3b3 88.58%,#bdbdbd 89.32%,#bfbfbf 90.83%,#b1b1b1 92.18%,#a0a0a0 92.76%,#5a5a5a 93.81%,#4d4d4d 94.5%,#474747 95.51%,#4b4b4b 96.71%,#585858 97.64%,#a0a0a0 99.15%,#aeaeae 100%)}
.a61{background:linear-gradient(#808080 0%,#808080 6.31%,#787878 10.72%,#7e7e7e 12.19%,#909090 14.82%,#929292 15.87%,#878787 17.3%,#5f5f5f 19.74%,#5b5b5b 21.09%,#5f5f5f 21.83%,#676767 22.29%,#a3a3a3 24.38%,#adadad 25.27%,#afafaf 26.32%,#aaa 27.17%,#a1a1a1 27.79%,#606060 29.18%,#565656 29.57%,#4a4a4a 30.53%,#474747 31.7%,#4d4d4d 32.66%,#5b5b5b 33.32%,#a0a0a0 34.33%,#aeaeae 34.75%,#bbb 35.72%,#bfbfbf 36.92%,#b8b8b8 37.96%,#a9a9a9 38.7%,#5f5f5f 39.59%,#4e4e4e 40.05%,#404040 40.98%,#3c3c3c 42.22%,#434343 43.34%,#535353 44.08%,#5f5f5f 44.31%,#a0a0a0 44.89%,#b4b4b4 45.36%,#c2c2c2 46.28%,#c6c6c6 47.52%,#bfbfbf 48.68%,#adadad 49.46%,#a0a0a0 49.69%,#5d5d5d 50.23%,#494949 50.7%,#3b3b3b 51.63%,#373737 52.86%,#3e3e3e 54.02%,#505050 54.8%,#5f5f5f 55.07%,#a3a3a3 55.57%,#b7b7b7 56.04%,#c5c5c5 56.97%,#cacaca 58.2%,#c2c2c2 59.4%,#b0b0b0 60.18%,#9f9f9f 60.45%,#5c5c5c 60.91%,#474747 61.38%,#383838 62.31%,#343434 63.54%,#3b3b3b 64.74%,#4d4d4d 65.52%,#5d5d5d 65.79%,#a1a1a1 66.22%,#b9b9b9 66.68%,#c8c8c8 67.61%,#cdcdcd 68.85%,#c5c5c5 70.09%,#b2b2b2 70.9%,#a1a1a1 71.17%,#5b5b5b 71.59%,#464646 72.02%,#363636 72.91%,#313131 74.11%,#373737 75.31%,#474747 76.16%,#5f5f5f 76.59%,#adadad 77.17%,#c0c0c0 77.79%,#cacaca 78.75%,#c9c9c9 80.26%,#b9b9b9 81.42%,#a1a1a1 81.97%,#5e5e5e 82.47%,#515151 82.7%,#3f3f3f 83.48%,#383838 84.64%,#3d3d3d 85.95%,#4d4d4d 86.96%,#5f5f5f 87.38%,#a4a4a4 88.08%,#b3b3b3 88.54%,#bdbdbd 89.28%,#bfbfbf 90.79%,#b2b2b2 92.11%,#a1a1a1 92.69%,#5a5a5a 93.77%,#4d4d4d 94.47%,#474747 95.47%,#4b4b4b 96.63%,#585858 97.56%,#a0a0a0 99.03%,#b0b0b0 100%)}
.a62{background:linear-gradient(#808080 0%,#808080 6.27%,#797979 10.68%,#7e7e7e 12.11%,#909090 14.74%,#929292 15.79%,#878787 17.22%,#5f5f5f 19.74%,#5b5b5b 21.01%,#5f5f5f 21.71%,#696969 22.25%,#a3a3a3 24.34%,#acacac 25.23%,#aeaeae 26.24%,#aaa 27.09%,#a0a0a0 27.71%,#565656 29.49%,#4a4a4a 30.46%,#484848 31.62%,#4e4e4e 32.59%,#5b5b5b 33.24%,#9f9f9f 34.25%,#adadad 34.67%,#bbb 35.64%,#bebebe 36.84%,#b8b8b8 37.89%,#a8a8a8 38.62%,#5e5e5e 39.55%,#4e4e4e 39.98%,#414141 40.91%,#3d3d3d 42.14%,#444 43.27%,#545454 44%,#9f9f9f 44.81%,#b3b3b3 45.28%,#c1c1c1 46.21%,#c5c5c5 47.45%,#bebebe 48.61%,#adadad 49.38%,#9f9f9f 49.61%,#5e5e5e 50.15%,#4a4a4a 50.62%,#3c3c3c 51.55%,#383838 52.79%,#3f3f3f 53.95%,#505050 54.72%,#5f5f5f 54.99%,#a2a2a2 55.5%,#b6b6b6 55.96%,#c5c5c5 56.89%,#c9c9c9 58.13%,#c1c1c1 59.33%,#b0b0b0 60.1%,#9e9e9e 60.37%,#5c5c5c 60.84%,#474747 61.3%,#383838 62.23%,#343434 63.47%,#3b3b3b 64.67%,#4d4d4d 65.44%,#5d5d5d 65.71%,#a0a0a0 66.14%,#b8b8b8 66.6%,#c8c8c8 67.49%,#cdcdcd 68.77%,#c5c5c5 70.01%,#b2b2b2 70.82%,#a1a1a1 71.09%,#5c5c5c 71.52%,#454545 71.98%,#373737 72.83%,#323232 74.03%,#383838 75.23%,#484848 76.08%,#5c5c5c 76.47%,#adadad 77.09%,#c0c0c0 77.71%,#cacaca 78.68%,#c9c9c9 80.19%,#b9b9b9 81.35%,#a3a3a3 81.89%,#606060 82.39%,#505050 82.66%,#404040 83.4%,#393939 84.56%,#3d3d3d 85.91%,#4d4d4d 86.92%,#606060 87.35%,#a5a5a5 88.08%,#b3b3b3 88.54%,#bcbcbc 89.24%,#bebebe 90.71%,#b1b1b1 92.03%,#a1a1a1 92.61%,#595959 93.69%,#4c4c4c 94.43%,#464646 95.43%,#4b4b4b 96.63%,#585858 97.56%,#a0a0a0 99.03%,#b0b0b0 100%)}
.a63{background:linear-gradient(#7f7f7f 0%,#808080 6.19%,#797979 10.6%,#919191 15.71%,#878787 17.14%,#5f5f5f 19.78%,#5c5c5c 20.94%,#5f5f5f 21.52%,#6a6a6a 22.17%,#a2a2a2 24.26%,#ababab 25.15%,#adadad 26.16%,#a9a9a9 26.97%,#a0a0a0 27.59%,#575757 29.41%,#4b4b4b 30.38%,#484848 31.5%,#4e4e4e 32.47%,#5c5c5c 33.17%,#a0a0a0 34.21%,#adadad 34.64%,#bababa 35.57%,#bdbdbd 36.76%,#b7b7b7 37.81%,#a7a7a7 38.54%,#5e5e5e 39.47%,#4f4f4f 39.9%,#414141 40.83%,#3e3e3e 42.07%,#454545 43.19%,#555 43.92%,#a2a2a2 44.78%,#b2b2b2 45.2%,#c1c1c1 46.13%,#c5c5c5 47.37%,#bebebe 48.49%,#adadad 49.26%,#9e9e9e 49.54%,#5e5e5e 50.08%,#4b4b4b 50.54%,#3c3c3c 51.47%,#383838 52.71%,#404040 53.87%,#515151 54.64%,#616161 54.91%,#a1a1a1 55.42%,#b6b6b6 55.88%,#c4c4c4 56.81%,#c8c8c8 58.05%,#c1c1c1 59.25%,#afafaf 60.02%,#a1a1a1 60.26%,#5c5c5c 60.76%,#474747 61.22%,#393939 62.15%,#343434 63.39%,#3c3c3c 64.59%,#4d4d4d 65.36%,#5e5e5e 65.63%,#a3a3a3 66.1%,#b9b9b9 66.56%,#c7c7c7 67.45%,#ccc 68.69%,#c4c4c4 69.93%,#b2b2b2 70.74%,#a0a0a0 71.01%,#5c5c5c 71.44%,#474747 71.87%,#373737 72.76%,#323232 73.96%,#383838 75.15%,#484848 76.01%,#5d5d5d 76.39%,#aeaeae 77.01%,#c0c0c0 77.63%,#cacaca 78.64%,#c8c8c8 80.15%,#b9b9b9 81.31%,#a2a2a2 81.85%,#5f5f5f 82.35%,#525252 82.59%,#404040 83.36%,#393939 84.52%,#3e3e3e 85.84%,#4e4e4e 86.84%,#5f5f5f 87.27%,#a5a5a5 88%,#b3b3b3 88.47%,#bcbcbc 89.2%,#bebebe 90.67%,#b1b1b1 91.99%,#a1a1a1 92.53%,#595959 93.61%,#4c4c4c 94.35%,#464646 95.36%,#4a4a4a 96.59%,#575757 97.56%,#a1a1a1 99.11%,#afafaf 100%)}
.a64{background:linear-gradient(#7f7f7f 0%,#808080 6.15%,#7a7a7a 10.49%,#909090 15.63%,#868686 17.07%,#616161 19.74%,#5d5d5d 20.82%,#606060 21.4%,#6c6c6c 22.14%,#a2a2a2 24.19%,#aaa 25.08%,#acacac 26.08%,#a0a0a0 27.44%,#575757 29.37%,#4c4c4c 30.3%,#494949 31.42%,#4f4f4f 32.39%,#5c5c5c 33.05%,#a0a0a0 34.13%,#adadad 34.56%,#b9b9b9 35.49%,#bcbcbc 36.65%,#b6b6b6 37.69%,#a7a7a7 38.43%,#5e5e5e 39.4%,#505050 39.82%,#424242 40.75%,#3e3e3e 41.99%,#454545 43.07%,#555 43.81%,#a2a2a2 44.7%,#b2b2b2 45.12%,#c0c0c0 46.05%,#c4c4c4 47.29%,#bdbdbd 48.41%,#acacac 49.19%,#a0a0a0 49.42%,#5f5f5f 50%,#4b4b4b 50.46%,#3d3d3d 51.39%,#393939 52.59%,#404040 53.75%,#515151 54.53%,#606060 54.8%,#a1a1a1 55.34%,#b5b5b5 55.8%,#c3c3c3 56.73%,#c7c7c7 57.97%,#c0c0c0 59.13%,#afafaf 59.91%,#9f9f9f 60.18%,#5c5c5c 60.68%,#484848 61.15%,#3a3a3a 62.07%,#353535 63.31%,#3d3d3d 64.51%,#4e4e4e 65.29%,#5f5f5f 65.56%,#a3a3a3 66.02%,#b8b8b8 66.49%,#c7c7c7 67.38%,#cbcbcb 68.61%,#c4c4c4 69.81%,#b2b2b2 70.63%,#a1a1a1 70.9%,#5e5e5e 71.32%,#474747 71.79%,#383838 72.68%,#333 73.88%,#393939 75.08%,#494949 75.93%,#5d5d5d 76.32%,#adadad 76.93%,#bfbfbf 77.55%,#c9c9c9 78.56%,#c8c8c8 80.07%,#b9b9b9 81.23%,#a2a2a2 81.77%,#616161 82.28%,#515151 82.55%,#404040 83.32%,#3a3a3a 84.44%,#3e3e3e 85.76%,#4e4e4e 86.76%,#5e5e5e 87.15%,#a5a5a5 87.93%,#b4b4b4 88.43%,#bcbcbc 89.13%,#bebebe 90.6%,#b1b1b1 91.91%,#a1a1a1 92.49%,#5a5a5a 93.58%,#4c4c4c 94.31%,#474747 95.32%,#4a4a4a 96.56%,#575757 97.52%,#9f9f9f 99.11%,#adadad 100%)}
.a65{background:linear-gradient(#7f7f7f 0%,#808080 6.08%,#7a7a7a 10.41%,#8f8f8f 15.56%,#868686 16.99%,#636363 19.62%,#5f5f5f 20.74%,#6d6d6d 22.06%,#a1a1a1 24.15%,#a9a9a9 25%,#ababab 25.97%,#a0a0a0 27.28%,#585858 29.3%,#4d4d4d 30.22%,#4b4b4b 31.35%,#505050 32.28%,#5c5c5c 32.93%,#9f9f9f 34.06%,#acacac 34.48%,#b8b8b8 35.41%,#bbb 36.57%,#b5b5b5 37.58%,#a7a7a7 38.31%,#5e5e5e 39.32%,#505050 39.74%,#434343 40.67%,#3f3f3f 41.87%,#464646 43%,#565656 43.73%,#a1a1a1 44.62%,#b1b1b1 45.05%,#bfbfbf 45.98%,#c3c3c3 47.17%,#bcbcbc 48.3%,#acacac 49.07%,#a1a1a1 49.3%,#5f5f5f 49.92%,#4c4c4c 50.39%,#3e3e3e 51.32%,#3a3a3a 52.52%,#424242 53.68%,#535353 54.45%,#5f5f5f 54.68%,#a2a2a2 55.26%,#b4b4b4 55.69%,#c2c2c2 56.62%,#c6c6c6 57.86%,#bfbfbf 59.06%,#aeaeae 59.83%,#a1a1a1 60.06%,#5d5d5d 60.6%,#494949 61.07%,#3a3a3a 62%,#363636 63.2%,#3d3d3d 64.4%,#4f4f4f 65.17%,#5e5e5e 65.44%,#a0a0a0 65.91%,#b7b7b7 66.37%,#c6c6c6 67.3%,#cacaca 68.54%,#c2c2c2 69.78%,#b0b0b0 70.55%,#9e9e9e 70.82%,#5d5d5d 71.25%,#474747 71.71%,#383838 72.6%,#333 73.8%,#393939 75%,#494949 75.85%,#5e5e5e 76.24%,#9e9e9e 76.66%,#aeaeae 76.9%,#bfbfbf 77.52%,#c9c9c9 78.48%,#c8c8c8 79.95%,#b9b9b9 81.11%,#a0a0a0 81.7%,#606060 82.2%,#515151 82.47%,#414141 83.24%,#3a3a3a 84.37%,#3f3f3f 85.72%,#4f4f4f 86.69%,#606060 87.07%,#a4a4a4 87.81%,#b3b3b3 88.31%,#bcbcbc 89.05%,#bebebe 90.56%,#b0b0b0 91.91%,#a0a0a0 92.49%,#5b5b5b 93.58%,#4e4e4e 94.27%,#484848 95.28%,#4c4c4c 96.48%,#585858 97.41%,#a0a0a0 99.03%,#aeaeae 100%)}
.a66{background:linear-gradient(#808080 0%,#808080 6%,#7a7a7a 10.29%,#8e8e8e 15.48%,#858585 16.87%,#656565 19.5%,#606060 20.55%,#6e6e6e 21.94%,#a0a0a0 24.07%,#a8a8a8 24.92%,#aaa 25.89%,#a0a0a0 27.13%,#595959 29.22%,#4f4f4f 30.15%,#4c4c4c 31.23%,#515151 32.16%,#5d5d5d 32.82%,#9f9f9f 33.98%,#aaa 34.37%,#b7b7b7 35.29%,#bababa 36.46%,#b4b4b4 37.46%,#a6a6a6 38.2%,#5e5e5e 39.24%,#515151 39.67%,#444 40.6%,#414141 41.76%,#474747 42.88%,#575757 43.61%,#a1a1a1 44.54%,#b0b0b0 44.97%,#bebebe 45.9%,#c1c1c1 47.1%,#bbb 48.18%,#ababab 48.96%,#a0a0a0 49.19%,#5e5e5e 49.85%,#4d4d4d 50.27%,#3f3f3f 51.2%,#3b3b3b 52.4%,#434343 53.56%,#535353 54.33%,#5f5f5f 54.57%,#9f9f9f 55.15%,#b3b3b3 55.61%,#c1c1c1 56.54%,#c5c5c5 57.78%,#bebebe 58.94%,#adadad 59.71%,#a1a1a1 59.95%,#5f5f5f 60.49%,#4a4a4a 60.95%,#3c3c3c 61.88%,#373737 63.12%,#3e3e3e 64.28%,#4f4f4f 65.05%,#5f5f5f 65.33%,#a2a2a2 65.83%,#b7b7b7 66.29%,#c5c5c5 67.18%,#cacaca 68.42%,#c2c2c2 69.62%,#b0b0b0 70.43%,#9f9f9f 70.7%,#5c5c5c 71.17%,#474747 71.63%,#393939 72.52%,#343434 73.72%,#3a3a3a 74.88%,#494949 75.74%,#5d5d5d 76.12%,#acacac 76.78%,#bebebe 77.4%,#c8c8c8 78.37%,#c7c7c7 79.84%,#b8b8b8 81%,#a0a0a0 81.58%,#5e5e5e 82.12%,#525252 82.35%,#414141 83.13%,#3a3a3a 84.29%,#3f3f3f 85.6%,#4f4f4f 86.61%,#5f5f5f 87%,#a4a4a4 87.77%,#b2b2b2 88.24%,#bbb 88.97%,#bdbdbd 90.48%,#b0b0b0 91.83%,#a0a0a0 92.41%,#5c5c5c 93.54%,#4f4f4f 94.23%,#494949 95.24%,#4d4d4d 96.32%,#585858 97.21%,#a1a1a1 98.88%,#afafaf 100%)}
.a67{background:linear-gradient(#808080 0%,#808080 5.92%,#7b7b7b 10.22%,#8d8d8d 15.36%,#858585 16.76%,#666 19.39%,#626262 20.47%,#707070 21.87%,#a0a0a0 24.07%,#a8a8a8 25.77%,#a0a0a0 26.93%,#5a5a5a 29.14%,#505050 30.07%,#4d4d4d 31.11%,#535353 32.04%,#5f5f5f 32.7%,#a1a1a1 33.94%,#aaa 34.29%,#b6b6b6 35.22%,#b9b9b9 36.34%,#b3b3b3 37.35%,#a5a5a5 38.08%,#5f5f5f 39.16%,#525252 39.59%,#454545 40.52%,#424242 41.68%,#494949 42.76%,#585858 43.5%,#9f9f9f 44.43%,#b0b0b0 44.89%,#bdbdbd 45.82%,#c0c0c0 46.98%,#bababa 48.07%,#aaa 48.84%,#606060 49.73%,#4e4e4e 50.19%,#414141 51.08%,#3d3d3d 52.28%,#444 53.44%,#545454 54.22%,#5f5f5f 54.45%,#a0a0a0 55.07%,#b2b2b2 55.53%,#c0c0c0 56.46%,#c4c4c4 57.66%,#bdbdbd 58.82%,#acacac 59.6%,#a0a0a0 59.83%,#5e5e5e 60.41%,#4b4b4b 60.87%,#3d3d3d 61.8%,#393939 63%,#404040 64.16%,#505050 64.94%,#606060 65.21%,#a1a1a1 65.71%,#b6b6b6 66.18%,#c4c4c4 67.07%,#c9c9c9 68.3%,#c2c2c2 69.5%,#b0b0b0 70.32%,#a0a0a0 70.59%,#5f5f5f 71.05%,#494949 71.52%,#3a3a3a 72.41%,#353535 73.61%,#3b3b3b 74.77%,#4a4a4a 75.62%,#5d5d5d 76.01%,#acacac 76.66%,#bdbdbd 77.28%,#c7c7c7 78.25%,#c6c6c6 79.72%,#b7b7b7 80.88%,#a0a0a0 81.46%,#606060 82%,#535353 82.24%,#424242 83.01%,#3b3b3b 84.21%,#404040 85.53%,#4f4f4f 86.53%,#5e5e5e 86.92%,#a4a4a4 87.73%,#b2b2b2 88.24%,#bababa 88.93%,#bcbcbc 90.4%,#afafaf 91.72%,#a1a1a1 92.26%,#5c5c5c 93.42%,#4f4f4f 94.12%,#4a4a4a 95.12%,#4d4d4d 96.21%,#595959 97.1%,#a1a1a1 98.76%,#b0b0b0 100%)}
.a68{background:linear-gradient(#808080 0%,#808080 5.84%,#7b7b7b 10.1%,#8c8c8c 15.25%,#848484 16.68%,#686868 19.27%,#656565 20.36%,#727272 21.79%,#a0a0a0 24.11%,#a7a7a7 25.66%,#9d9d9d 26.82%,#5b5b5b 29.06%,#515151 29.95%,#4f4f4f 31%,#535353 31.85%,#5e5e5e 32.51%,#a0a0a0 33.86%,#a9a9a9 34.21%,#b4b4b4 35.1%,#b7b7b7 36.22%,#b2b2b2 37.23%,#a4a4a4 37.96%,#5f5f5f 39.09%,#535353 39.47%,#474747 40.4%,#444 41.56%,#4a4a4a 42.61%,#585858 43.34%,#a0a0a0 44.35%,#aeaeae 44.78%,#bbb 45.7%,#bfbfbf 46.87%,#b8b8b8 47.95%,#a9a9a9 48.72%,#5f5f5f 49.65%,#4f4f4f 50.08%,#424242 50.97%,#3e3e3e 52.17%,#454545 53.33%,#555 54.1%,#a0a0a0 54.99%,#b2b2b2 55.46%,#bebebe 56.35%,#c2c2c2 57.55%,#bcbcbc 58.67%,#acacac 59.44%,#a1a1a1 59.67%,#5f5f5f 60.29%,#4c4c4c 60.76%,#3e3e3e 61.69%,#3a3a3a 62.89%,#414141 64.05%,#515151 64.82%,#616161 65.09%,#a2a2a2 65.63%,#b5b5b5 66.1%,#c3c3c3 67.03%,#c7c7c7 68.23%,#c0c0c0 69.43%,#afafaf 70.2%,#a0a0a0 70.47%,#5d5d5d 70.98%,#494949 71.44%,#3b3b3b 72.33%,#363636 73.49%,#3c3c3c 74.65%,#4b4b4b 75.46%,#5d5d5d 75.85%,#ababab 76.55%,#bdbdbd 77.21%,#c6c6c6 78.17%,#c5c5c5 79.64%,#b6b6b6 80.8%,#a1a1a1 81.35%,#5f5f5f 81.93%,#535353 82.16%,#434343 82.93%,#3c3c3c 84.09%,#404040 85.41%,#505050 86.42%,#606060 86.84%,#a3a3a3 87.65%,#b1b1b1 88.16%,#b9b9b9 88.85%,#bbb 90.29%,#aeaeae 91.56%,#9f9f9f 92.11%,#5c5c5c 93.27%,#4f4f4f 94%,#4a4a4a 95.05%,#4d4d4d 96.17%,#585858 97.06%,#a1a1a1 98.8%,#afafaf 100%)}
.a69{background:linear-gradient(#7f7f7f 0%,#7c7c7c 9.98%,#8b8b8b 15.13%,#848484 16.56%,#6a6a6a 19.16%,#676767 20.24%,#737373 21.67%,#a0a0a0 24.15%,#a5a5a5 25.5%,#a1a1a1 26.32%,#9a9a9a 26.74%,#5c5c5c 28.95%,#535353 29.84%,#515151 30.88%,#555 31.73%,#5f5f5f 32.35%,#a7a7a7 34.09%,#b2b2b2 34.98%,#b5b5b5 36.11%,#b0b0b0 37.11%,#a3a3a3 37.81%,#5e5e5e 39.01%,#555 39.36%,#494949 40.25%,#454545 41.41%,#4b4b4b 42.45%,#595959 43.19%,#9f9f9f 44.23%,#adadad 44.66%,#bababa 45.55%,#bdbdbd 46.71%,#b7b7b7 47.79%,#a8a8a8 48.57%,#5e5e5e 49.57%,#505050 50%,#434343 50.89%,#404040 52.05%,#464646 53.17%,#565656 53.95%,#9f9f9f 54.88%,#b0b0b0 55.34%,#bdbdbd 56.27%,#c1c1c1 57.43%,#bababa 58.55%,#aaa 59.33%,#5f5f5f 60.18%,#4d4d4d 60.64%,#3f3f3f 61.57%,#3b3b3b 62.77%,#424242 63.93%,#535353 64.71%,#5e5e5e 64.94%,#a0a0a0 65.52%,#b4b4b4 65.98%,#c2c2c2 66.87%,#c6c6c6 68.07%,#bfbfbf 69.23%,#aeaeae 70.05%,#a0a0a0 70.32%,#5d5d5d 70.86%,#4b4b4b 71.28%,#3d3d3d 72.14%,#373737 73.34%,#3d3d3d 74.5%,#4c4c4c 75.35%,#5f5f5f 75.74%,#ababab 76.43%,#bdbdbd 77.09%,#c6c6c6 78.06%,#c4c4c4 79.53%,#b6b6b6 80.69%,#a2a2a2 81.23%,#545454 82.08%,#444 82.86%,#3d3d3d 83.98%,#424242 85.29%,#515151 86.3%,#606060 86.69%,#a3a3a3 87.54%,#b0b0b0 88.04%,#b8b8b8 88.74%,#bababa 90.13%,#aeaeae 91.41%,#a0a0a0 91.95%,#5d5d5d 93.15%,#4f4f4f 93.89%,#4a4a4a 94.93%,#4d4d4d 96.09%,#595959 97.06%,#a0a0a0 98.92%,#acacac 100%)}
.a70{background:linear-gradient(#7f7f7f 0%,#7c7c7c 9.83%,#8a8a8a 15.02%,#838383 16.45%,#6d6d6d 19.04%,#6a6a6a 20.12%,#747474 21.52%,#a0a0a0 24.23%,#a3a3a3 25.39%,#a0a0a0 26.08%,#979797 26.66%,#5d5d5d 28.87%,#555 29.76%,#525252 30.73%,#565656 31.54%,#5f5f5f 32.16%,#a6a6a6 34.02%,#b1b1b1 34.91%,#b4b4b4 35.99%,#aeaeae 36.96%,#a2a2a2 37.65%,#606060 38.89%,#565656 39.24%,#4a4a4a 40.17%,#474747 41.29%,#4d4d4d 42.34%,#5b5b5b 43.07%,#a0a0a0 44.16%,#acacac 44.54%,#b8b8b8 45.43%,#bbb 46.59%,#b5b5b5 47.68%,#a6a6a6 48.45%,#606060 49.46%,#515151 49.88%,#454545 50.77%,#424242 51.9%,#484848 53.02%,#575757 53.79%,#9f9f9f 54.76%,#aeaeae 55.19%,#bbb 56.08%,#bfbfbf 57.24%,#b9b9b9 58.4%,#a9a9a9 59.17%,#5e5e5e 60.1%,#4d4d4d 60.57%,#404040 61.49%,#3d3d3d 62.65%,#434343 63.78%,#535353 64.55%,#616161 64.82%,#a2a2a2 65.44%,#b3b3b3 65.87%,#c0c0c0 66.76%,#c4c4c4 67.96%,#bebebe 69.12%,#adadad 69.89%,#9f9f9f 70.16%,#5f5f5f 70.7%,#4b4b4b 71.17%,#3d3d3d 72.06%,#393939 73.22%,#3e3e3e 74.38%,#4c4c4c 75.19%,#5d5d5d 75.58%,#aaa 76.32%,#bbb 76.97%,#c4c4c4 77.94%,#c3c3c3 79.41%,#b5b5b5 80.57%,#a1a1a1 81.11%,#555 81.97%,#454545 82.74%,#3f3f3f 83.86%,#434343 85.14%,#525252 86.11%,#606060 86.49%,#a2a2a2 87.38%,#b0b0b0 87.89%,#b8b8b8 88.62%,#bababa 90.05%,#aeaeae 91.33%,#a1a1a1 91.87%,#5e5e5e 93.11%,#515151 93.85%,#4b4b4b 94.85%,#4e4e4e 95.98%,#5a5a5a 96.94%,#a0a0a0 98.96%,#aaa 100%)}
.a71{background:linear-gradient(#7f7f7f 0%,#7c7c7c 9.71%,#888 14.9%,#838383 16.29%,#6e6e6e 18.89%,#6c6c6c 19.97%,#767676 21.4%,#9e9e9e 24.11%,#a1a1a1 25.23%,#949494 26.59%,#5f5f5f 28.79%,#575757 29.64%,#555 30.61%,#5f5f5f 31.89%,#a5a5a5 33.9%,#afafaf 34.79%,#b2b2b2 35.84%,#acacac 36.8%,#a0a0a0 37.5%,#575757 39.13%,#4c4c4c 40.02%,#494949 41.14%,#4e4e4e 42.14%,#5b5b5b 42.88%,#a0a0a0 44.08%,#ababab 44.47%,#b6b6b6 45.36%,#bababa 46.44%,#b4b4b4 47.48%,#a6a6a6 48.26%,#5e5e5e 49.38%,#535353 49.77%,#474747 50.66%,#434343 51.78%,#4a4a4a 52.86%,#595959 53.64%,#a1a1a1 54.68%,#adadad 55.07%,#bababa 55.96%,#bdbdbd 57.12%,#b7b7b7 58.24%,#a8a8a8 59.02%,#606060 59.98%,#4f4f4f 60.45%,#424242 61.34%,#3f3f3f 62.5%,#454545 63.62%,#555 64.4%,#a0a0a0 65.29%,#b2b2b2 65.75%,#bfbfbf 66.64%,#c3c3c3 67.8%,#bcbcbc 68.96%,#acacac 69.74%,#9e9e9e 70.01%,#5f5f5f 70.59%,#4c4c4c 71.05%,#3e3e3e 71.94%,#3a3a3a 73.1%,#404040 74.26%,#4e4e4e 75.08%,#5f5f5f 75.46%,#aaa 76.24%,#bababa 76.86%,#c3c3c3 77.83%,#c2c2c2 79.26%,#b4b4b4 80.38%,#a1a1a1 80.92%,#565656 81.81%,#464646 82.59%,#404040 83.71%,#444 84.98%,#525252 85.95%,#606060 86.34%,#a2a2a2 87.27%,#afafaf 87.77%,#b7b7b7 88.51%,#b9b9b9 89.98%,#adadad 91.29%,#9f9f9f 91.83%,#5e5e5e 93.15%,#535353 93.85%,#4e4e4e 94.78%,#515151 95.78%,#5a5a5a 96.63%,#a0a0a0 98.72%,#aaa 100%)}
.a72{background:linear-gradient(#808080 0%,#7d7d7d 9.56%,#878787 14.74%,#828282 16.14%,#707070 18.77%,#6e6e6e 19.85%,#767676 21.25%,#9a9a9a 23.92%,#9f9f9f 25%,#929292 26.43%,#5f5f5f 28.83%,#575757 30.46%,#5f5f5f 31.62%,#a4a4a4 33.78%,#adadad 34.67%,#b0b0b0 35.68%,#ababab 36.57%,#a0a0a0 37.27%,#585858 39.05%,#4d4d4d 39.94%,#4b4b4b 40.98%,#505050 41.99%,#5d5d5d 42.72%,#a0a0a0 44%,#a9a9a9 44.31%,#b4b4b4 45.2%,#b7b7b7 46.28%,#b2b2b2 47.33%,#a5a5a5 48.07%,#5e5e5e 49.26%,#545454 49.61%,#494949 50.5%,#454545 51.63%,#4b4b4b 52.67%,#595959 53.44%,#a0a0a0 54.57%,#acacac 54.95%,#b8b8b8 55.84%,#bbb 56.97%,#b5b5b5 58.09%,#a7a7a7 58.86%,#5e5e5e 59.91%,#505050 60.33%,#444 61.22%,#414141 62.35%,#474747 63.43%,#565656 64.2%,#a2a2a2 65.17%,#b1b1b1 65.6%,#bdbdbd 66.49%,#c1c1c1 67.65%,#bbb 68.81%,#ababab 69.58%,#9e9e9e 69.85%,#5f5f5f 70.47%,#4d4d4d 70.94%,#404040 71.79%,#3c3c3c 72.95%,#414141 74.11%,#4f4f4f 74.92%,#5e5e5e 75.27%,#a8a8a8 76.08%,#b8b8b8 76.7%,#c1c1c1 77.67%,#c0c0c0 79.06%,#b3b3b3 80.19%,#a0a0a0 80.73%,#565656 81.66%,#474747 82.43%,#404040 83.59%,#454545 84.87%,#535353 85.84%,#606060 86.22%,#a1a1a1 87.19%,#aeaeae 87.69%,#b6b6b6 88.43%,#b7b7b7 89.86%,#acacac 91.14%,#a0a0a0 91.64%,#5e5e5e 93.11%,#555 93.77%,#515151 94.62%,#535353 95.55%,#5c5c5c 96.32%,#a0a0a0 98.37%,#a9a9a9 99.11%,#acacac 100%)}
.a73{background:linear-gradient(#808080 0%,#7d7d7d 9.44%,#868686 14.59%,#6f6f6f 19.7%,#777 21.09%,#979797 23.76%,#9b9b9b 24.88%,#8f8f8f 26.32%,#5f5f5f 28.83%,#595959 30.26%,#636363 31.46%,#a2a2a2 33.67%,#ababab 34.52%,#aeaeae 35.53%,#aaa 36.38%,#a0a0a0 37.04%,#595959 38.93%,#505050 39.78%,#4d4d4d 40.83%,#525252 41.8%,#5e5e5e 42.53%,#a8a8a8 44.2%,#b2b2b2 45.05%,#b5b5b5 46.13%,#b0b0b0 47.17%,#a2a2a2 47.91%,#5f5f5f 49.15%,#555 49.5%,#4a4a4a 50.35%,#474747 51.43%,#4d4d4d 52.52%,#5b5b5b 53.29%,#a1a1a1 54.49%,#aaa 54.84%,#b6b6b6 55.69%,#b9b9b9 56.77%,#b3b3b3 57.89%,#a5a5a5 58.67%,#5f5f5f 59.75%,#525252 60.18%,#464646 61.07%,#434343 62.19%,#494949 63.27%,#585858 64.05%,#a0a0a0 65.02%,#afafaf 65.44%,#bcbcbc 66.33%,#c0c0c0 67.49%,#bababa 68.61%,#aaa 69.43%,#5d5d5d 70.39%,#4e4e4e 70.82%,#414141 71.71%,#3e3e3e 72.83%,#444 74.03%,#555 74.85%,#a1a1a1 75.77%,#b0b0b0 76.2%,#bdbdbd 77.09%,#c1c1c1 78.21%,#bababa 79.45%,#aaa 80.3%,#606060 81.31%,#515151 81.73%,#454545 82.59%,#414141 83.67%,#474747 84.87%,#555 85.76%,#5e5e5e 86.07%,#a1a1a1 87.15%,#b3b3b3 88.31%,#b5b5b5 89.67%,#aaa 90.87%,#a0a0a0 91.33%,#5e5e5e 92.88%,#555 93.58%,#515151 94.47%,#535353 95.39%,#5c5c5c 96.17%,#a1a1a1 98.3%,#a9a9a9 99.07%,#acacac 100%)}
.a74{background:linear-gradient(#808080 0%,#7e7e7e 9.29%,#868686 14.4%,#717171 19.54%,#787878 20.94%,#949494 23.61%,#989898 24.69%,#8d8d8d 26.12%,#5f5f5f 28.91%,#5b5b5b 30.11%,#5f5f5f 30.84%,#686868 31.39%,#a1a1a1 33.55%,#a9a9a9 34.37%,#ababab 35.33%,#a0a0a0 36.76%,#5c5c5c 38.78%,#525252 39.63%,#4f4f4f 40.63%,#545454 41.56%,#5f5f5f 42.26%,#a6a6a6 44.04%,#b0b0b0 44.89%,#b3b3b3 45.94%,#aeaeae 46.98%,#a1a1a1 47.72%,#606060 49.03%,#575757 49.38%,#4c4c4c 50.23%,#494949 51.28%,#4f4f4f 52.32%,#5c5c5c 53.1%,#a0a0a0 54.37%,#a9a9a9 54.72%,#b4b4b4 55.57%,#b7b7b7 56.62%,#b1b1b1 57.7%,#a4a4a4 58.44%,#606060 59.6%,#535353 60.02%,#484848 60.91%,#444 62.04%,#4a4a4a 63.12%,#585858 63.85%,#a0a0a0 64.9%,#aeaeae 65.33%,#bababa 66.22%,#bebebe 67.34%,#b7b7b7 68.5%,#a8a8a8 69.27%,#5f5f5f 70.24%,#505050 70.67%,#434343 71.56%,#404040 72.68%,#464646 73.84%,#555 74.61%,#a0a0a0 75.58%,#afafaf 76.01%,#bcbcbc 76.9%,#c0c0c0 78.02%,#bababa 79.26%,#aaa 80.15%,#5f5f5f 81.23%,#525252 81.62%,#474747 82.43%,#434343 83.51%,#494949 84.67%,#565656 85.57%,#a1a1a1 87.04%,#b1b1b1 88.16%,#b3b3b3 89.43%,#a8a8a8 90.6%,#a0a0a0 90.98%,#5f5f5f 92.57%,#545454 93.3%,#505050 94.31%,#535353 95.32%,#5c5c5c 96.17%,#a0a0a0 98.49%,#a9a9a9 100%)}
.a75{background:linear-gradient(#7f7f7f 0%,#7e7e7e 9.09%,#858585 14.24%,#737373 19.35%,#797979 20.78%,#929292 23.45%,#959595 24.54%,#8b8b8b 25.97%,#626262 28.75%,#5e5e5e 29.91%,#6b6b6b 31.27%,#a0a0a0 33.55%,#a9a9a9 35.14%,#a0a0a0 36.42%,#5d5d5d 38.66%,#545454 39.47%,#525252 40.44%,#555 41.29%,#5f5f5f 41.99%,#a5a5a5 43.92%,#afafaf 44.78%,#b1b1b1 45.78%,#acacac 46.75%,#a1a1a1 47.48%,#595959 49.23%,#4f4f4f 50.08%,#4c4c4c 51.08%,#515151 52.09%,#5e5e5e 52.86%,#a7a7a7 54.53%,#b2b2b2 55.38%,#b5b5b5 56.42%,#afafaf 57.51%,#a2a2a2 58.24%,#606060 59.48%,#555 59.87%,#4a4a4a 60.76%,#464646 61.84%,#4c4c4c 62.93%,#5a5a5a 63.7%,#a1a1a1 64.82%,#acacac 65.21%,#b8b8b8 66.06%,#bbb 67.14%,#b5b5b5 68.27%,#a6a6a6 69.04%,#5e5e5e 70.09%,#525252 70.47%,#454545 71.32%,#414141 72.41%,#464646 73.49%,#525252 74.26%,#5e5e5e 74.61%,#a6a6a6 75.58%,#b6b6b6 76.28%,#bebebe 77.28%,#bcbcbc 78.64%,#afafaf 79.72%,#a0a0a0 80.22%,#5a5a5a 81.27%,#4c4c4c 82%,#464646 83.09%,#4a4a4a 84.29%,#575757 85.26%,#a1a1a1 86.8%,#b1b1b1 88%,#b2b2b2 89.28%,#a8a8a8 90.4%,#a0a0a0 90.79%,#5f5f5f 92.45%,#555 93.19%,#515151 94.12%,#535353 95.12%,#5b5b5b 96.05%,#979797 98.45%,#a0a0a0 99.11%,#a1a1a1 100%)}
.a76{background:linear-gradient(#7f7f7f 0%,#7e7e7e 8.94%,#848484 14.09%,#757575 19.16%,#7b7b7b 20.59%,#909090 23.26%,#939393 24.34%,#8a8a8a 25.77%,#666 28.56%,#616161 29.68%,#6e6e6e 31.11%,#a0a0a0 33.59%,#a6a6a6 34.95%,#9d9d9d 36.18%,#5e5e5e 38.51%,#565656 39.32%,#545454 40.25%,#5f5f5f 41.68%,#a3a3a3 43.77%,#acacac 44.58%,#afafaf 45.59%,#aaa 46.52%,#a0a0a0 47.21%,#5b5b5b 49.07%,#525252 49.88%,#4f4f4f 50.89%,#535353 51.86%,#5f5f5f 52.59%,#a6a6a6 54.37%,#b0b0b0 55.22%,#b3b3b3 56.23%,#adadad 57.28%,#a1a1a1 58.05%,#5f5f5f 59.4%,#575757 59.75%,#4c4c4c 60.6%,#494949 61.65%,#4e4e4e 62.69%,#5c5c5c 63.47%,#a0a0a0 64.67%,#ababab 65.05%,#b6b6b6 65.91%,#b9b9b9 66.95%,#b4b4b4 68%,#a6a6a6 68.77%,#5f5f5f 69.89%,#535353 70.28%,#474747 71.13%,#434343 72.21%,#474747 73.26%,#545454 74.11%,#5e5e5e 74.42%,#a6a6a6 75.46%,#b4b4b4 76.16%,#bcbcbc 77.17%,#bababa 78.48%,#adadad 79.53%,#a1a1a1 79.95%,#5c5c5c 81.08%,#4e4e4e 81.81%,#484848 82.82%,#4b4b4b 84.02%,#585858 84.95%,#a0a0a0 86.53%,#b2b2b2 87.85%,#b2b2b2 89.2%,#a7a7a7 90.36%,#5f5f5f 92.57%,#545454 93.89%,#565656 94.93%,#5f5f5f 95.86%,#888 97.56%,#989898 98.53%,#9d9d9d 99.26%,#9b9b9b 100%)}
.a77{background:linear-gradient(#7f7f7f 0%,#7e7e7e 8.94%,#838383 13.89%,#777 18.96%,#919191 24.15%,#898989 25.58%,#6a6a6a 28.33%,#666 29.49%,#717171 30.92%,#a0a0a0 33.63%,#a3a3a3 34.75%,#a0a0a0 35.53%,#989898 36.03%,#5f5f5f 38.47%,#565656 40.05%,#5f5f5f 41.37%,#a1a1a1 43.65%,#a9a9a9 44.43%,#acacac 45.36%,#a0a0a0 46.87%,#5c5c5c 48.92%,#535353 49.73%,#515151 50.7%,#555 51.59%,#5f5f5f 52.28%,#a4a4a4 54.22%,#adadad 55.03%,#b0b0b0 56.04%,#acacac 57%,#a1a1a1 57.78%,#595959 59.6%,#4f4f4f 60.45%,#4c4c4c 61.46%,#515151 62.46%,#5d5d5d 63.2%,#9f9f9f 64.47%,#a8a8a8 64.82%,#b3b3b3 65.67%,#b7b7b7 66.76%,#b2b2b2 67.8%,#a4a4a4 68.58%,#5f5f5f 69.74%,#545454 70.12%,#494949 70.98%,#454545 72.06%,#494949 73.1%,#565656 73.92%,#606060 74.23%,#a4a4a4 75.31%,#b2b2b2 75.97%,#b9b9b9 76.93%,#b7b7b7 78.17%,#ababab 79.22%,#9f9f9f 79.64%,#5c5c5c 80.84%,#4f4f4f 81.58%,#494949 82.62%,#4d4d4d 83.82%,#595959 84.75%,#a1a1a1 86.42%,#b0b0b0 87.65%,#b1b1b1 89.01%,#a7a7a7 90.21%,#666 92.49%,#5e5e5e 92.92%,#5a5a5a 93.73%,#5f5f5f 95.05%,#9f9f9f 98.22%,#a2a2a2 99.11%,#9e9e9e 100%)}
.a78{background:linear-gradient(#808080 0%,#7e7e7e 8.82%,#828282 13.66%,#787878 18.77%,#8e8e8e 23.96%,#888 25.35%,#6d6d6d 28.1%,#6a6a6a 29.26%,#737373 30.69%,#9c9c9c 33.4%,#a1a1a1 34.52%,#959595 35.87%,#5f5f5f 38.51%,#595959 39.86%,#626262 41.1%,#a0a0a0 43.58%,#a9a9a9 45.16%,#a0a0a0 46.44%,#5e5e5e 48.72%,#565656 49.54%,#535353 50.46%,#5f5f5f 51.97%,#a2a2a2 54.06%,#aaa 54.84%,#adadad 55.8%,#aaa 56.7%,#a0a0a0 57.43%,#5b5b5b 59.44%,#525252 60.26%,#4f4f4f 61.22%,#535353 62.15%,#5f5f5f 62.89%,#a7a7a7 64.63%,#b2b2b2 65.48%,#b5b5b5 66.56%,#b0b0b0 67.61%,#a2a2a2 68.38%,#5f5f5f 69.66%,#565656 70.01%,#4b4b4b 70.86%,#484848 71.9%,#4d4d4d 72.95%,#5a5a5a 73.76%,#a1a1a1 75.04%,#a9a9a9 75.35%,#b4b4b4 76.2%,#b8b8b8 77.24%,#b2b2b2 78.37%,#a4a4a4 79.18%,#5f5f5f 80.5%,#575757 80.8%,#4d4d4d 81.62%,#4a4a4a 82.66%,#4e4e4e 83.75%,#5a5a5a 84.64%,#a0a0a0 86.42%,#adadad 87.5%,#adadad 88.7%,#a5a5a5 89.82%,#686868 92.18%,#5f5f5f 92.8%,#5c5c5c 93.5%,#5f5f5f 94.35%,#656565 94.81%,#a0a0a0 97.64%,#a6a6a6 98.76%,#a3a3a3 100%)}
.a79{background:linear-gradient(#808080 0%,#828282 13.43%,#787878 18.54%,#8c8c8c 23.72%,#868686 25.15%,#707070 27.86%,#6c6c6c 29.02%,#757575 30.46%,#989898 33.17%,#9d9d9d 34.29%,#939393 35.64%,#626262 38.43%,#5d5d5d 39.59%,#5f5f5f 40.25%,#686868 40.91%,#a0a0a0 43.54%,#a6a6a6 44.89%,#9e9e9e 46.13%,#5f5f5f 48.65%,#565656 50.23%,#5f5f5f 51.63%,#a0a0a0 53.99%,#aaa 55.57%,#a0a0a0 56.97%,#5d5d5d 59.21%,#545454 60.02%,#515151 60.99%,#555 61.88%,#5f5f5f 62.58%,#a6a6a6 64.47%,#b0b0b0 65.33%,#b3b3b3 66.33%,#aeaeae 67.38%,#a1a1a1 68.15%,#585858 69.85%,#4e4e4e 70.67%,#4b4b4b 71.67%,#505050 72.68%,#5d5d5d 73.45%,#a8a8a8 75.08%,#b3b3b3 75.93%,#b6b6b6 77.01%,#b0b0b0 78.13%,#a3a3a3 78.95%,#595959 80.61%,#4f4f4f 81.42%,#4b4b4b 82.47%,#505050 83.55%,#5b5b5b 84.44%,#9f9f9f 86.42%,#a8a8a8 87.31%,#a9a9a9 88.39%,#a1a1a1 89.36%,#636363 91.87%,#5a5a5a 93.19%,#5f5f5f 94.5%,#a0a0a0 97.79%,#a4a4a4 98.84%,#a2a2a2 100%)}
.a80{background:linear-gradient(#808080 0%,#828282 13.2%,#7a7a7a 18.34%,#8a8a8a 23.49%,#858585 24.88%,#717171 27.63%,#6f6f6f 28.79%,#767676 30.22%,#959595 32.97%,#999 34.06%,#909090 35.41%,#666 38.16%,#606060 39.32%,#6c6c6c 40.71%,#a0a0a0 43.5%,#a4a4a4 44.66%,#9a9a9a 45.94%,#5f5f5f 48.68%,#595959 50%,#616161 51.24%,#a0a0a0 53.95%,#a7a7a7 55.3%,#9f9f9f 56.54%,#5e5e5e 59.02%,#565656 59.83%,#535353 60.76%,#565656 61.61%,#5f5f5f 62.31%,#a3a3a3 64.32%,#acacac 65.13%,#afafaf 66.1%,#ababab 67.07%,#a0a0a0 67.8%,#5a5a5a 69.62%,#505050 70.43%,#4e4e4e 71.4%,#525252 72.37%,#5e5e5e 73.1%,#a7a7a7 74.85%,#b2b2b2 75.7%,#b5b5b5 76.78%,#b0b0b0 77.9%,#a3a3a3 78.75%,#5b5b5b 80.5%,#525252 81.23%,#4f4f4f 82.2%,#535353 83.2%,#5c5c5c 84.02%,#9c9c9c 86.07%,#a7a7a7 87.07%,#a7a7a7 88.04%,#a0a0a0 88.89%,#5f5f5f 91.56%,#575757 92.84%,#5f5f5f 94.7%,#868686 96.79%,#949494 97.87%,#989898 98.88%,#929292 100%)}
.a81{background:linear-gradient(#7f7f7f 0%,#828282 12.96%,#7b7b7b 18.11%,#888 23.22%,#717171 28.56%,#777 29.99%,#919191 32.7%,#949494 33.78%,#8c8c8c 35.18%,#696969 37.89%,#646464 39.05%,#6e6e6e 40.44%,#9b9b9b 43.23%,#a1a1a1 44.43%,#969696 45.74%,#636363 48.57%,#5d5d5d 49.73%,#686868 51.04%,#a0a0a0 53.83%,#a5a5a5 55.03%,#9b9b9b 56.35%,#5f5f5f 58.94%,#565656 60.53%,#5f5f5f 61.92%,#a1a1a1 64.2%,#ababab 65.83%,#a0a0a0 67.3%,#5c5c5c 69.31%,#525252 70.12%,#4f4f4f 71.13%,#535353 72.1%,#5e5e5e 72.83%,#a5a5a5 74.65%,#afafaf 75.46%,#b2b2b2 76.47%,#afafaf 77.48%,#a5a5a5 78.33%,#5f5f5f 80.26%,#535353 81.58%,#555 82.59%,#5e5e5e 83.44%,#a0a0a0 85.72%,#a9a9a9 86.88%,#a8a8a8 87.89%,#a0a0a0 88.82%,#686868 91.22%,#5b5b5b 92.45%,#5f5f5f 94.31%,#7f7f7f 96.52%,#898989 97.64%,#898989 98.76%,#808080 100%)}
.a82{background:linear-gradient(#7f7f7f 0%,#818181 12.77%,#7c7c7c 17.8%,#878787 22.99%,#747474 28.29%,#797979 29.76%,#8e8e8e 32.43%,#919191 33.51%,#8a8a8a 34.91%,#6c6c6c 37.65%,#676767 38.82%,#707070 40.21%,#969696 42.96%,#9b9b9b 44.16%,#929292 45.51%,#686868 48.22%,#616161 49.42%,#6c6c6c 50.77%,#9d9d9d 53.6%,#a2a2a2 54.8%,#a0a0a0 55.53%,#989898 56.15%,#5f5f5f 59.09%,#5a5a5a 60.29%,#646464 61.57%,#a0a0a0 64.05%,#a9a9a9 65.56%,#a0a0a0 66.83%,#5c5c5c 69.08%,#535353 69.93%,#515151 70.9%,#555 71.87%,#5f5f5f 72.6%,#a2a2a2 74.54%,#ababab 75.27%,#aeaeae 76.2%,#ababab 77.13%,#a2a2a2 77.9%,#5f5f5f 79.99%,#555 81.19%,#575757 82.16%,#5f5f5f 83.01%,#a0a0a0 85.37%,#a9a9a9 86.69%,#a8a8a8 87.77%,#a1a1a1 88.78%,#747474 90.94%,#666 92.34%,#696969 93.65%,#868686 96.13%,#8d8d8d 97.25%,#8a8a8a 98.49%,#7b7b7b 100%)}
.a83{background:linear-gradient(#808080 0%,#808080 12.5%,#7c7c7c 17.49%,#868686 22.76%,#767676 28.02%,#8f8f8f 33.24%,#898989 34.64%,#6f6f6f 37.38%,#6b6b6b 38.54%,#727272 39.94%,#919191 42.69%,#969696 43.85%,#8e8e8e 45.2%,#696969 47.95%,#646464 49.11%,#6d6d6d 50.5%,#989898 53.33%,#9f9f9f 54.53%,#949494 55.92%,#666 58.78%,#5f5f5f 59.95%,#6d6d6d 61.38%,#a0a0a0 63.82%,#a7a7a7 65.25%,#a0a0a0 66.49%,#5f5f5f 68.92%,#565656 69.74%,#545454 70.67%,#5f5f5f 72.21%,#a0a0a0 74.38%,#aaa 75.93%,#a0a0a0 77.36%,#5f5f5f 79.57%,#545454 81.19%,#5f5f5f 82.86%,#9b9b9b 85.22%,#a6a6a6 86.42%,#a0a0a0 88.27%,#7b7b7b 90.56%,#707070 91.87%,#757575 93.23%,#939393 95.78%,#9b9b9b 96.98%,#989898 98.34%,#858585 100%)}
.a84{background:linear-gradient(#808080 0%,#7c7c7c 17.22%,#858585 22.48%,#787878 27.67%,#8d8d8d 32.97%,#888 34.37%,#727272 37.11%,#6f6f6f 38.27%,#757575 39.63%,#8f8f8f 42.34%,#939393 43.5%,#8c8c8c 44.89%,#6b6b6b 47.68%,#676767 48.84%,#6f6f6f 50.23%,#929292 53.02%,#989898 54.22%,#8f8f8f 55.61%,#696969 58.48%,#646464 59.6%,#707070 61.07%,#a0a0a0 63.7%,#a5a5a5 65.02%,#9d9d9d 66.29%,#5f5f5f 69.08%,#595959 70.36%,#616161 71.59%,#a0a0a0 74.11%,#a8a8a8 75.58%,#a0a0a0 76.9%,#5f5f5f 79.3%,#555 81%,#5f5f5f 82.7%,#8e8e8e 84.87%,#9c9c9c 86.22%,#989898 87.46%,#747474 90.13%,#6c6c6c 91.45%,#737373 92.88%,#959595 95.51%,#a0a0a0 96.75%,#9f9f9f 98.18%,#919191 100%)}
.a85{background:linear-gradient(#808080 0%,#7d7d7d 17.03%,#838383 22.14%,#797979 27.32%,#8b8b8b 32.7%,#737373 37.93%,#787878 39.32%,#8e8e8e 42.03%,#919191 43.19%,#8b8b8b 44.58%,#6f6f6f 47.41%,#6b6b6b 48.61%,#717171 49.96%,#8e8e8e 52.67%,#929292 53.87%,#8b8b8b 55.26%,#6a6a6a 58.13%,#656565 59.29%,#6f6f6f 60.76%,#9c9c9c 63.62%,#a1a1a1 64.74%,#979797 66.06%,#656565 68.85%,#5e5e5e 69.97%,#6b6b6b 71.32%,#a0a0a0 73.72%,#a8a8a8 75.27%,#a0a0a0 76.66%,#5f5f5f 79.45%,#595959 80.73%,#5f5f5f 82%,#888 84.4%,#949494 85.68%,#8f8f8f 86.96%,#696969 89.78%,#616161 91.22%,#676767 92.61%,#898989 95.32%,#939393 96.56%,#959595 97.95%,#8c8c8c 100%)}
.a86{background:linear-gradient(#7f7f7f 0%,#7e7e7e 16.76%,#838383 21.75%,#797979 27.05%,#888 32.39%,#757575 37.54%,#8f8f8f 42.92%,#8a8a8a 44.31%,#747474 47.06%,#707070 48.26%,#757575 49.61%,#8d8d8d 52.32%,#909090 53.48%,#8a8a8a 54.88%,#6c6c6c 57.86%,#686868 59.06%,#6e6e6e 60.29%,#919191 63.08%,#989898 64.4%,#919191 65.56%,#696969 68.27%,#606060 69.54%,#6d6d6d 71.01%,#a0a0a0 73.57%,#a7a7a7 75%,#a0a0a0 76.35%,#6f6f6f 78.79%,#636363 80.15%,#686868 81.35%,#8f8f8f 83.98%,#989898 85.29%,#929292 86.61%,#6a6a6a 89.47%,#5f5f5f 90.91%,#626262 92.3%,#7f7f7f 96.21%,#777 100%)}
.a87{background:linear-gradient(#7f7f7f 0%,#7f7f7f 16.41%,#838383 21.4%,#7a7a7a 26.78%,#868686 32%,#757575 37.19%,#8c8c8c 42.65%,#747474 47.87%,#797979 49.23%,#8d8d8d 51.97%,#909090 53.13%,#8b8b8b 54.53%,#717171 57.59%,#6d6d6d 58.78%,#727272 59.98%,#8d8d8d 62.69%,#929292 63.97%,#8c8c8c 65.17%,#676767 67.92%,#606060 69.23%,#696969 70.63%,#949494 73.1%,#a0a0a0 74.19%,#9d9d9d 75.66%,#727272 78.44%,#696969 79.76%,#727272 81.08%,#9a9a9a 83.9%,#a0a0a0 85.18%,#9a9a9a 86.42%,#787878 89.09%,#6e6e6e 90.4%,#6d6d6d 91.72%,#7c7c7c 95.7%,#646464 100%)}
.b0{background:linear-gradient(#808080 0%,#828282 14.43%,#797979 19.47%,#8a8a8a 24.57%,#6f6f6f 29.84%,#767676 31.23%,#939393 33.86%,#989898 34.98%,#8f8f8f 36.34%,#676767 39.01%,#616161 40.17%,#6c6c6c 41.52%,#9c9c9c 44.27%,#a2a2a2 45.43%,#989898 46.71%,#5f5f5f 49.54%,#5b5b5b 50.7%,#646464 51.93%,#a0a0a0 54.64%,#a6a6a6 55.92%,#9f9f9f 57.12%,#5f5f5f 59.79%,#585858 61.18%,#5f5f5f 62.42%,#a0a0a0 64.98%,#a8a8a8 66.41%,#a0a0a0 67.72%,#5f5f5f 70.24%,#575757 71.59%,#5f5f5f 72.99%,#9f9f9f 75.46%,#a7a7a7 76.59%,#a0a0a0 78.1%,#686868 80.57%,#5c5c5c 81.81%,#606060 83.01%,#909090 85.72%,#9c9c9c 87.04%,#979797 88.27%,#747474 90.91%,#6b6b6b 92.22%,#6f6f6f 93.58%,#8d8d8d 97.17%,#8d8d8d 98.45%,#848484 100%)}
.b1{background:linear-gradient(#808080 0%,#7e7e7e 10.29%,#848484 15.05%,#757575 20.09%,#919191 25.19%,#898989 26.63%,#696969 29.33%,#646464 30.46%,#6f6f6f 31.81%,#a0a0a0 34.48%,#a4a4a4 35.64%,#989898 36.92%,#5f5f5f 39.32%,#575757 40.87%,#5f5f5f 42.11%,#a1a1a1 44.39%,#ababab 46.09%,#a0a0a0 47.56%,#5d5d5d 49.57%,#545454 50.35%,#515151 51.32%,#555 52.21%,#5f5f5f 52.9%,#a4a4a4 54.84%,#acacac 55.61%,#afafaf 56.58%,#ababab 57.51%,#a0a0a0 58.24%,#5b5b5b 60.06%,#515151 60.87%,#4f4f4f 61.84%,#535353 62.81%,#5f5f5f 63.54%,#a5a5a5 65.33%,#aeaeae 66.1%,#b1b1b1 67.07%,#adadad 68.03%,#a1a1a1 68.81%,#5b5b5b 70.55%,#515151 71.32%,#4e4e4e 72.25%,#515151 73.18%,#5b5b5b 73.96%,#a0a0a0 75.66%,#aaa 76.32%,#afafaf 77.13%,#adadad 78.17%,#a4a4a4 79.06%,#5f5f5f 81.08%,#545454 82.43%,#565656 83.44%,#5f5f5f 84.29%,#999 86.38%,#a5a5a5 87.46%,#a0a0a0 89.09%,#6e6e6e 91.56%,#616161 92.96%,#676767 94.27%,#939393 97.64%,#959595 98.76%,#8d8d8d 100%)}
.b2{background:linear-gradient(#808080 0%,#7d7d7d 10.72%,#878787 15.48%,#707070 20.55%,#777 21.94%,#969696 24.57%,#9a9a9a 25.66%,#8e8e8e 27.09%,#5f5f5f 29.68%,#5a5a5a 30.96%,#656565 32.2%,#a1a1a1 34.37%,#aaa 35.18%,#acacac 36.15%,#a0a0a0 37.54%,#5b5b5b 39.51%,#515151 40.36%,#4f4f4f 41.37%,#545454 42.3%,#5f5f5f 43%,#a0a0a0 44.47%,#a6a6a6 44.74%,#b1b1b1 45.59%,#b3b3b3 46.59%,#aeaeae 47.6%,#a1a1a1 48.34%,#5f5f5f 49.65%,#575757 49.96%,#4d4d4d 50.77%,#494949 51.82%,#4f4f4f 52.83%,#5c5c5c 53.6%,#a0a0a0 54.88%,#a9a9a9 55.19%,#b4b4b4 56.04%,#b7b7b7 57.08%,#b2b2b2 58.13%,#a4a4a4 58.9%,#5f5f5f 60.1%,#555 60.45%,#4a4a4a 61.3%,#474747 62.35%,#4c4c4c 63.39%,#5a5a5a 64.16%,#9f9f9f 65.33%,#ababab 65.71%,#b5b5b5 66.52%,#b9b9b9 67.57%,#b3b3b3 68.65%,#a5a5a5 69.43%,#5e5e5e 70.63%,#555 70.94%,#4a4a4a 71.75%,#464646 72.76%,#4b4b4b 73.8%,#565656 74.57%,#5f5f5f 74.85%,#a2a2a2 75.97%,#b0b0b0 76.63%,#b6b6b6 77.52%,#b5b5b5 78.72%,#a9a9a9 79.68%,#a0a0a0 80.03%,#5e5e5e 81.31%,#525252 82%,#4c4c4c 82.97%,#4f4f4f 84.06%,#5a5a5a 84.95%,#a0a0a0 86.76%,#acacac 87.81%,#acacac 88.93%,#a3a3a3 89.94%,#646464 92.22%,#595959 93.42%,#5f5f5f 94.85%,#8d8d8d 97.1%,#9b9b9b 98.07%,#9f9f9f 98.99%,#999 100%)}
.b3{background:linear-gradient(#808080 0%,#7c7c7c 10.8%,#8a8a8a 15.83%,#848484 17.22%,#6c6c6c 19.81%,#696969 20.86%,#747474 22.25%,#a0a0a0 24.96%,#a3a3a3 26.04%,#a0a0a0 26.7%,#969696 27.36%,#5e5e5e 29.53%,#555 30.38%,#535353 31.35%,#5f5f5f 32.7%,#a0a0a0 34.33%,#a6a6a6 34.6%,#b0b0b0 35.45%,#b3b3b3 36.49%,#adadad 37.46%,#a1a1a1 38.16%,#5f5f5f 39.43%,#565656 39.78%,#4b4b4b 40.63%,#484848 41.72%,#4e4e4e 42.72%,#5b5b5b 43.46%,#a0a0a0 44.62%,#ababab 44.97%,#b7b7b7 45.86%,#bababa 46.94%,#b4b4b4 48.03%,#a6a6a6 48.76%,#5e5e5e 49.85%,#525252 50.23%,#474747 51.08%,#434343 52.21%,#494949 53.29%,#595959 54.06%,#a0a0a0 55.07%,#adadad 55.46%,#bababa 56.31%,#bdbdbd 57.43%,#b7b7b7 58.55%,#a8a8a8 59.33%,#a0a0a0 59.52%,#5e5e5e 60.33%,#515151 60.72%,#444 61.57%,#404040 62.69%,#474747 63.82%,#565656 64.59%,#606060 64.82%,#9f9f9f 65.56%,#afafaf 65.98%,#bbb 66.83%,#bfbfbf 67.96%,#b8b8b8 69.12%,#a8a8a8 69.89%,#a0a0a0 70.09%,#5e5e5e 70.86%,#505050 71.25%,#444 72.06%,#404040 73.14%,#454545 74.19%,#525252 75%,#5f5f5f 75.35%,#a5a5a5 76.24%,#b4b4b4 76.86%,#bcbcbc 77.79%,#bbb 79.06%,#aeaeae 80.11%,#9f9f9f 80.57%,#5a5a5a 81.62%,#4c4c4c 82.35%,#464646 83.36%,#4a4a4a 84.52%,#575757 85.41%,#606060 85.72%,#a1a1a1 86.92%,#b1b1b1 88.08%,#b2b2b2 89.32%,#a7a7a7 90.4%,#a0a0a0 90.75%,#5f5f5f 92.45%,#535353 93.85%,#565656 94.81%,#5f5f5f 95.67%,#a0a0a0 98.18%,#a4a4a4 100%)}
.b4{background:linear-gradient(#808080 0%,#808080 6.93%,#7a7a7a 10.91%,#8d8d8d 15.98%,#868686 17.38%,#666 20.01%,#626262 21.05%,#707070 22.45%,#a0a0a0 24.65%,#a8a8a8 26.28%,#9f9f9f 27.44%,#5a5a5a 29.61%,#505050 30.5%,#4e4e4e 31.54%,#535353 32.43%,#5e5e5e 33.09%,#a0a0a0 34.37%,#a9a9a9 34.71%,#b5b5b5 35.6%,#b8b8b8 36.73%,#b2b2b2 37.73%,#a4a4a4 38.43%,#5f5f5f 39.51%,#535353 39.9%,#474747 40.79%,#434343 41.95%,#494949 43%,#585858 43.73%,#616161 43.92%,#9f9f9f 44.7%,#aeaeae 45.12%,#bbb 46.01%,#bfbfbf 47.17%,#b9b9b9 48.26%,#a9a9a9 49.03%,#a0a0a0 49.23%,#5e5e5e 49.96%,#4f4f4f 50.39%,#424242 51.28%,#3e3e3e 52.44%,#444 53.52%,#545454 54.3%,#5f5f5f 54.53%,#a0a0a0 55.19%,#b1b1b1 55.61%,#bebebe 56.5%,#c2c2c2 57.66%,#bcbcbc 58.82%,#ababab 59.6%,#9f9f9f 59.83%,#5e5e5e 60.45%,#4d4d4d 60.87%,#3f3f3f 61.76%,#3b3b3b 62.93%,#424242 64.09%,#525252 64.86%,#616161 65.13%,#a1a1a1 65.71%,#b2b2b2 66.14%,#c0c0c0 67.03%,#c4c4c4 68.19%,#bdbdbd 69.39%,#acacac 70.16%,#9f9f9f 70.39%,#5f5f5f 70.98%,#4d4d4d 71.4%,#3f3f3f 72.25%,#3b3b3b 73.37%,#404040 74.46%,#4e4e4e 75.27%,#5f5f5f 75.66%,#9d9d9d 76.24%,#a9a9a9 76.43%,#b9b9b9 77.05%,#c1c1c1 77.98%,#c0c0c0 79.3%,#b2b2b2 80.38%,#a0a0a0 80.88%,#606060 81.58%,#575757 81.77%,#484848 82.51%,#424242 83.59%,#464646 84.79%,#545454 85.72%,#606060 86.07%,#a0a0a0 87%,#adadad 87.5%,#b5b5b5 88.2%,#b6b6b6 89.51%,#ababab 90.67%,#a1a1a1 91.14%,#5e5e5e 92.49%,#535353 93.19%,#4f4f4f 94.12%,#525252 95.2%,#5d5d5d 96.09%,#a1a1a1 98.14%,#a9a9a9 98.99%,#a9a9a9 100%)}
.b5{background:linear-gradient(#808080 0%,#808080 6.97%,#797979 10.99%,#919191 16.06%,#878787 17.45%,#606060 20.12%,#5d5d5d 21.17%,#6b6b6b 22.45%,#a2a2a2 24.54%,#aaa 25.43%,#acacac 26.39%,#a0a0a0 27.71%,#5f5f5f 29.3%,#575757 29.64%,#4c4c4c 30.57%,#4a4a4a 31.66%,#505050 32.59%,#5c5c5c 33.24%,#9f9f9f 34.33%,#acacac 34.75%,#b8b8b8 35.68%,#bcbcbc 36.8%,#b6b6b6 37.81%,#a7a7a7 38.54%,#9f9f9f 38.74%,#5f5f5f 39.51%,#505050 39.94%,#434343 40.87%,#3f3f3f 42.07%,#464646 43.15%,#565656 43.89%,#606060 44.08%,#a0a0a0 44.74%,#b1b1b1 45.16%,#bfbfbf 46.09%,#c3c3c3 47.29%,#bcbcbc 48.41%,#acacac 49.15%,#a0a0a0 49.38%,#5d5d5d 50%,#4c4c4c 50.43%,#3e3e3e 51.32%,#3a3a3a 52.52%,#414141 53.68%,#525252 54.45%,#5f5f5f 54.68%,#a0a0a0 55.22%,#b4b4b4 55.69%,#c2c2c2 56.58%,#c6c6c6 57.78%,#bfbfbf 58.94%,#aeaeae 59.71%,#9f9f9f 59.98%,#5f5f5f 60.49%,#4a4a4a 60.95%,#3c3c3c 61.84%,#383838 63.04%,#3f3f3f 64.24%,#515151 65.02%,#5e5e5e 65.25%,#a0a0a0 65.75%,#b5b5b5 66.22%,#c3c3c3 67.07%,#c8c8c8 68.27%,#c1c1c1 69.47%,#afafaf 70.28%,#9f9f9f 70.55%,#5d5d5d 71.05%,#4a4a4a 71.48%,#3c3c3c 72.33%,#373737 73.49%,#3d3d3d 74.61%,#4c4c4c 75.43%,#5f5f5f 75.81%,#a0a0a0 76.32%,#ababab 76.51%,#bcbcbc 77.13%,#c4c4c4 78.06%,#c3c3c3 79.45%,#b4b4b4 80.53%,#a1a1a1 81.04%,#626262 81.62%,#555 81.85%,#454545 82.59%,#3e3e3e 83.71%,#424242 84.95%,#515151 85.87%,#5e5e5e 86.22%,#a3a3a3 87.07%,#b0b0b0 87.58%,#b9b9b9 88.27%,#bababa 89.63%,#aeaeae 90.83%,#a0a0a0 91.37%,#5d5d5d 92.53%,#505050 93.23%,#4b4b4b 94.23%,#4f4f4f 95.39%,#5b5b5b 96.28%,#a4a4a4 98.18%,#acacac 98.99%,#adadad 100%)}
.b6{background:linear-gradient(#808080 0%,#808080 7%,#787878 11.07%,#949494 16.1%,#888 17.53%,#5f5f5f 19.85%,#5a5a5a 21.28%,#656565 22.45%,#a4a4a4 24.54%,#aeaeae 25.43%,#b0b0b0 26.47%,#ababab 27.32%,#a0a0a0 27.94%,#5f5f5f 29.26%,#555 29.64%,#494949 30.61%,#464646 31.73%,#4c4c4c 32.7%,#5a5a5a 33.36%,#9f9f9f 34.33%,#aeaeae 34.75%,#bcbcbc 35.72%,#bfbfbf 36.92%,#b8b8b8 37.96%,#aaa 38.66%,#9e9e9e 38.89%,#5e5e5e 39.55%,#4e4e4e 39.98%,#404040 40.91%,#3c3c3c 42.14%,#434343 43.23%,#535353 43.96%,#5e5e5e 44.2%,#a1a1a1 44.78%,#b4b4b4 45.24%,#c3c3c3 46.17%,#c6c6c6 47.37%,#bfbfbf 48.49%,#aeaeae 49.26%,#a1a1a1 49.5%,#5d5d5d 50.04%,#4a4a4a 50.46%,#3b3b3b 51.39%,#373737 52.63%,#3e3e3e 53.79%,#505050 54.57%,#5e5e5e 54.8%,#a3a3a3 55.3%,#b6b6b6 55.73%,#c6c6c6 56.66%,#cacaca 57.89%,#c2c2c2 59.06%,#b1b1b1 59.83%,#a1a1a1 60.1%,#5c5c5c 60.57%,#484848 60.99%,#383838 61.92%,#343434 63.16%,#3c3c3c 64.36%,#4e4e4e 65.13%,#606060 65.4%,#a2a2a2 65.83%,#b9b9b9 66.29%,#c7c7c7 67.18%,#cbcbcb 68.38%,#c4c4c4 69.58%,#b2b2b2 70.39%,#a1a1a1 70.67%,#5e5e5e 71.09%,#474747 71.56%,#383838 72.41%,#333 73.57%,#3a3a3a 74.73%,#494949 75.54%,#5d5d5d 75.93%,#9d9d9d 76.35%,#acacac 76.55%,#bebebe 77.13%,#c8c8c8 78.1%,#c7c7c7 79.53%,#b8b8b8 80.65%,#a3a3a3 81.15%,#5f5f5f 81.7%,#525252 81.93%,#414141 82.66%,#3a3a3a 83.82%,#3f3f3f 85.1%,#4f4f4f 86.03%,#5e5e5e 86.38%,#a5a5a5 87.15%,#b4b4b4 87.65%,#bcbcbc 88.35%,#bebebe 89.74%,#b1b1b1 90.98%,#a1a1a1 91.52%,#5a5a5a 92.61%,#4d4d4d 93.34%,#484848 94.35%,#4c4c4c 95.55%,#5a5a5a 96.48%,#a0a0a0 97.95%,#a6a6a6 98.22%,#afafaf 99.03%,#b1b1b1 100%)}
.b7{background:linear-gradient(#808080 0%,#808080 7.04%,#767676 11.15%,#7d7d7d 12.58%,#959595 15.13%,#989898 16.18%,#8b8b8b 17.57%,#5e5e5e 19.62%,#565656 21.36%,#5f5f5f 22.48%,#a6a6a6 24.54%,#b1b1b1 25.46%,#b3b3b3 26.55%,#aeaeae 27.48%,#a1a1a1 28.13%,#5e5e5e 29.26%,#535353 29.64%,#464646 30.61%,#424242 31.81%,#494949 32.78%,#585858 33.48%,#616161 33.67%,#a1a1a1 34.37%,#b1b1b1 34.79%,#bfbfbf 35.76%,#c3c3c3 37%,#bcbcbc 38.08%,#acacac 38.78%,#9f9f9f 39.01%,#5d5d5d 39.59%,#4b4b4b 40.02%,#3c3c3c 40.94%,#383838 42.22%,#3f3f3f 43.34%,#505050 44.08%,#616161 44.35%,#a1a1a1 44.81%,#b7b7b7 45.28%,#c6c6c6 46.21%,#cacaca 47.48%,#c2c2c2 48.65%,#b0b0b0 49.38%,#9e9e9e 49.65%,#5d5d5d 50.08%,#464646 50.54%,#373737 51.47%,#333 52.71%,#3b3b3b 53.91%,#4e4e4e 54.68%,#616161 54.95%,#a2a2a2 55.34%,#bababa 55.8%,#c9c9c9 56.73%,#cdcdcd 57.97%,#c6c6c6 59.17%,#b3b3b3 59.95%,#a2a2a2 60.22%,#5a5a5a 60.64%,#454545 61.07%,#353535 61.96%,#303030 63.24%,#393939 64.47%,#4c4c4c 65.25%,#5e5e5e 65.52%,#a4a4a4 65.91%,#bababa 66.33%,#cacaca 67.22%,#cfcfcf 68.5%,#c7c7c7 69.74%,#b4b4b4 70.51%,#a3a3a3 70.78%,#5d5d5d 71.17%,#444 71.63%,#353535 72.48%,#303030 73.68%,#373737 74.88%,#474747 75.7%,#5f5f5f 76.08%,#9e9e9e 76.43%,#aeaeae 76.63%,#c1c1c1 77.21%,#cbcbcb 78.17%,#cacaca 79.64%,#bbb 80.77%,#a2a2a2 81.31%,#5e5e5e 81.77%,#505050 82%,#3e3e3e 82.74%,#373737 83.9%,#3c3c3c 85.18%,#4c4c4c 86.15%,#5e5e5e 86.53%,#a7a7a7 87.23%,#b6b6b6 87.69%,#bfbfbf 88.39%,#c1c1c1 89.86%,#b3b3b3 91.14%,#a0a0a0 91.72%,#606060 92.49%,#585858 92.69%,#4a4a4a 93.42%,#444 94.47%,#484848 95.55%,#535353 96.44%,#5f5f5f 96.87%,#a3a3a3 98.07%,#b1b1b1 98.88%,#b5b5b5 100%)}
.b8{background:linear-gradient(#808080 0%,#808080 7.12%,#747474 11.18%,#7d7d7d 12.65%,#9a9a9a 15.21%,#9d9d9d 16.22%,#8e8e8e 17.57%,#5c5c5c 19.58%,#545454 20.47%,#525252 21.44%,#5f5f5f 22.76%,#a0a0a0 24.19%,#a9a9a9 24.54%,#b4b4b4 25.5%,#b7b7b7 26.66%,#b1b1b1 27.59%,#a3a3a3 28.25%,#5e5e5e 29.26%,#505050 29.68%,#424242 30.69%,#3f3f3f 31.93%,#464646 32.93%,#555 33.59%,#5f5f5f 33.78%,#a2a2a2 34.4%,#b3b3b3 34.83%,#c2c2c2 35.8%,#c6c6c6 37.07%,#bfbfbf 38.16%,#aeaeae 38.89%,#a1a1a1 39.13%,#5d5d5d 39.63%,#484848 40.09%,#393939 41.06%,#353535 42.34%,#3c3c3c 43.46%,#4e4e4e 44.2%,#606060 44.47%,#a4a4a4 44.89%,#b9b9b9 45.32%,#c9c9c9 46.25%,#cdcdcd 47.56%,#c6c6c6 48.72%,#b3b3b3 49.5%,#9f9f9f 49.77%,#5b5b5b 50.15%,#434343 50.62%,#343434 51.55%,#303030 52.83%,#383838 54.02%,#4b4b4b 54.8%,#606060 55.07%,#a4a4a4 55.42%,#bdbdbd 55.88%,#ccc 56.81%,#d1d1d1 58.09%,#c9c9c9 59.29%,#b6b6b6 60.06%,#a3a3a3 60.33%,#585858 60.72%,#424242 61.15%,#323232 62.07%,#2d2d2d 63.35%,#353535 64.59%,#494949 65.36%,#5d5d5d 65.63%,#a5a5a5 65.98%,#bdbdbd 66.41%,#cdcdcd 67.3%,#d2d2d2 68.58%,#cbcbcb 69.81%,#b7b7b7 70.63%,#9f9f9f 70.94%,#585858 71.28%,#414141 71.71%,#323232 72.56%,#2d2d2d 73.8%,#343434 75%,#454545 75.81%,#5d5d5d 76.2%,#9e9e9e 76.51%,#b0b0b0 76.7%,#c4c4c4 77.28%,#cecece 78.25%,#cdcdcd 79.76%,#bdbdbd 80.92%,#a4a4a4 81.42%,#5d5d5d 81.85%,#4e4e4e 82.08%,#3b3b3b 82.82%,#343434 84.02%,#393939 85.33%,#4a4a4a 86.3%,#5e5e5e 86.69%,#a9a9a9 87.31%,#b8b8b8 87.77%,#c2c2c2 88.47%,#c4c4c4 89.98%,#b5b5b5 91.29%,#a1a1a1 91.87%,#616161 92.53%,#565656 92.76%,#474747 93.5%,#414141 94.58%,#454545 95.7%,#515151 96.59%,#606060 97.06%,#a6a6a6 98.14%,#b3b3b3 98.92%,#b8b8b8 100%)}
.b9{background:linear-gradient(#808080 0%,#818181 7.16%,#727272 11.26%,#7c7c7c 12.69%,#9f9f9f 15.33%,#a1a1a1 16.37%,#929292 17.61%,#5b5b5b 19.54%,#515151 20.51%,#4f4f4f 21.56%,#545454 22.37%,#5f5f5f 22.95%,#9f9f9f 24.15%,#ababab 24.57%,#b7b7b7 25.54%,#bababa 26.74%,#b4b4b4 27.71%,#a5a5a5 28.37%,#5f5f5f 29.26%,#4e4e4e 29.72%,#3f3f3f 30.73%,#3c3c3c 32%,#434343 33.05%,#535353 33.71%,#5e5e5e 33.9%,#a2a2a2 34.44%,#b6b6b6 34.91%,#c6c6c6 35.87%,#cacaca 37.19%,#c2c2c2 38.31%,#b0b0b0 39.01%,#a1a1a1 39.24%,#5e5e5e 39.67%,#464646 40.13%,#363636 41.1%,#313131 42.41%,#393939 43.58%,#4c4c4c 44.31%,#606060 44.58%,#a2a2a2 44.93%,#bcbcbc 45.39%,#ccc 46.36%,#d1d1d1 47.68%,#c8c8c8 48.88%,#b5b5b5 49.61%,#a0a0a0 49.88%,#595959 50.23%,#424242 50.66%,#313131 51.59%,#2c2c2c 52.9%,#353535 54.14%,#494949 54.91%,#606060 55.19%,#a5a5a5 55.5%,#bfbfbf 55.96%,#cfcfcf 56.89%,#d4d4d4 58.17%,#ccc 59.4%,#b8b8b8 60.18%,#a4a4a4 60.45%,#575757 60.8%,#3f3f3f 61.22%,#2f2f2f 62.15%,#2a2a2a 63.43%,#323232 64.71%,#464646 65.48%,#5c5c5c 65.75%,#a6a6a6 66.06%,#c0c0c0 66.49%,#d0d0d0 67.38%,#d6d6d6 68.69%,#cdcdcd 69.97%,#b8b8b8 70.78%,#a1a1a1 71.05%,#575757 71.36%,#3f3f3f 71.79%,#2f2f2f 72.64%,#292929 73.88%,#303030 75.12%,#424242 75.93%,#5c5c5c 76.32%,#a4a4a4 76.63%,#b4b4b4 76.82%,#c7c7c7 77.4%,#d1d1d1 78.33%,#d0d0d0 79.88%,#c0c0c0 81.04%,#a7a7a7 81.54%,#5d5d5d 81.93%,#4a4a4a 82.2%,#383838 82.93%,#303030 84.13%,#363636 85.45%,#474747 86.42%,#5f5f5f 86.84%,#9d9d9d 87.23%,#aaa 87.38%,#bbb 87.85%,#c5c5c5 88.54%,#c7c7c7 90.09%,#b9b9b9 91.41%,#a2a2a2 92.03%,#606060 92.61%,#545454 92.84%,#444 93.58%,#3e3e3e 94.7%,#424242 95.86%,#4f4f4f 96.79%,#5e5e5e 97.21%,#a6a6a6 98.18%,#b5b5b5 98.92%,#bbb 100%)}
.b10{background:linear-gradient(#808080 0%,#818181 7.2%,#707070 11.3%,#7b7b7b 12.77%,#a0a0a0 15.05%,#a5a5a5 16.49%,#a0a0a0 17.18%,#979797 17.61%,#595959 19.54%,#4e4e4e 20.51%,#4b4b4b 21.63%,#515151 22.48%,#5e5e5e 23.1%,#9f9f9f 24.15%,#adadad 24.57%,#bababa 25.58%,#bebebe 26.82%,#b7b7b7 27.83%,#a7a7a7 28.48%,#5e5e5e 29.3%,#4c4c4c 29.76%,#3c3c3c 30.77%,#383838 32.08%,#404040 33.13%,#515151 33.82%,#626262 34.06%,#a1a1a1 34.48%,#b8b8b8 34.95%,#c8c8c8 35.91%,#cdcdcd 37.27%,#c5c5c5 38.39%,#b2b2b2 39.13%,#a2a2a2 39.36%,#5c5c5c 39.74%,#434343 40.21%,#333 41.18%,#2e2e2e 42.53%,#363636 43.69%,#4a4a4a 44.43%,#606060 44.7%,#a4a4a4 45.01%,#bfbfbf 45.47%,#cfcfcf 46.44%,#d4d4d4 47.76%,#cbcbcb 48.99%,#b7b7b7 49.73%,#a0a0a0 50%,#575757 50.31%,#3f3f3f 50.74%,#2e2e2e 51.66%,#292929 53.02%,#323232 54.26%,#474747 55.03%,#606060 55.3%,#a6a6a6 55.57%,#c1c1c1 56%,#d2d2d2 56.93%,#d7d7d7 58.28%,#cfcfcf 59.52%,#bbb 60.29%,#a5a5a5 60.57%,#565656 60.87%,#3d3d3d 61.3%,#2c2c2c 62.23%,#272727 63.54%,#2f2f2f 64.82%,#444 65.6%,#5b5b5b 65.87%,#a6a6a6 66.14%,#c2c2c2 66.56%,#d4d4d4 67.49%,#d9d9d9 68.81%,#d0d0d0 70.12%,#bbb 70.9%,#a2a2a2 71.17%,#575757 71.44%,#3c3c3c 71.87%,#2c2c2c 72.76%,#262626 73.99%,#2d2d2d 75.23%,#3f3f3f 76.04%,#5a5a5a 76.43%,#a3a3a3 76.7%,#b5b5b5 76.9%,#cacaca 77.48%,#d4d4d4 78.41%,#d4d4d4 79.95%,#c3c3c3 81.15%,#a9a9a9 81.66%,#5e5e5e 82%,#484848 82.28%,#353535 83.05%,#2d2d2d 84.25%,#333 85.6%,#464646 86.57%,#5c5c5c 86.96%,#a1a1a1 87.35%,#ababab 87.46%,#bcbcbc 87.89%,#c7c7c7 88.62%,#cacaca 90.21%,#bbb 91.56%,#a2a2a2 92.18%,#606060 92.69%,#525252 92.92%,#424242 93.65%,#3b3b3b 94.81%,#3f3f3f 96.01%,#4d4d4d 96.94%,#606060 97.41%,#9e9e9e 98.07%,#a8a8a8 98.26%,#b7b7b7 98.96%,#bebebe 100%)}
.b11{background:linear-gradient(#808080 0%,#818181 7.28%,#6d6d6d 11.34%,#7a7a7a 12.81%,#a1a1a1 14.86%,#a8a8a8 16.56%,#9f9f9f 17.57%,#5f5f5f 19.2%,#575757 19.54%,#4b4b4b 20.55%,#484848 21.71%,#4e4e4e 22.6%,#5c5c5c 23.22%,#a1a1a1 24.19%,#b0b0b0 24.65%,#bebebe 25.66%,#c1c1c1 26.93%,#b9b9b9 27.94%,#a9a9a9 28.6%,#9d9d9d 28.79%,#5e5e5e 29.33%,#494949 29.84%,#393939 30.88%,#353535 32.2%,#3d3d3d 33.28%,#4f4f4f 33.94%,#626262 34.17%,#a3a3a3 34.56%,#bbb 35.02%,#ccc 36.03%,#d0d0d0 37.38%,#c7c7c7 38.54%,#b4b4b4 39.24%,#a2a2a2 39.47%,#5a5a5a 39.82%,#404040 40.29%,#2f2f2f 41.25%,#2b2b2b 42.61%,#343434 43.81%,#484848 44.54%,#5b5b5b 44.78%,#a5a5a5 45.09%,#c1c1c1 45.55%,#d2d2d2 46.52%,#d7d7d7 47.87%,#cecece 49.11%,#b9b9b9 49.85%,#9f9f9f 50.12%,#565656 50.39%,#3c3c3c 50.81%,#2b2b2b 51.78%,#262626 53.13%,#2f2f2f 54.37%,#454545 55.15%,#595959 55.38%,#ababab 55.69%,#c4c4c4 56.11%,#d5d5d5 57.04%,#dadada 58.4%,#d1d1d1 59.67%,#bbb 60.45%,#a6a6a6 60.68%,#565656 60.95%,#3a3a3a 61.38%,#292929 62.31%,#232323 63.66%,#2c2c2c 64.94%,#414141 65.71%,#5a5a5a 65.98%,#ababab 66.25%,#c6c6c6 66.68%,#d7d7d7 67.61%,#dcdcdc 68.92%,#d3d3d3 70.24%,#bdbdbd 71.01%,#a3a3a3 71.28%,#535353 71.56%,#3a3a3a 71.94%,#292929 72.83%,#232323 74.11%,#2b2b2b 75.39%,#3e3e3e 76.2%,#585858 76.55%,#9f9f9f 76.78%,#b6b6b6 76.97%,#cbcbcb 77.52%,#d7d7d7 78.48%,#d7d7d7 80.11%,#c4c4c4 81.31%,#b8b8b8 81.62%,#a8a8a8 81.81%,#5b5b5b 82.12%,#474747 82.35%,#333 83.09%,#2a2a2a 84.33%,#313131 85.76%,#444 86.73%,#5e5e5e 87.11%,#a0a0a0 87.42%,#aeaeae 87.58%,#bfbfbf 88%,#cacaca 88.7%,#cdcdcd 90.33%,#bdbdbd 91.72%,#a5a5a5 92.3%,#616161 92.76%,#4f4f4f 93.03%,#3f3f3f 93.77%,#383838 94.93%,#3d3d3d 96.17%,#4b4b4b 97.1%,#5f5f5f 97.56%,#9f9f9f 98.14%,#a9a9a9 98.34%,#b9b9b9 98.99%,#c1c1c1 100%)}
.b12{background:linear-gradient(#808080 0%,#818181 7.31%,#6a6a6a 10.8%,#6a6a6a 11.42%,#777 12.81%,#a3a3a3 14.82%,#ababab 16.64%,#a0a0a0 17.76%,#5e5e5e 19.2%,#545454 19.58%,#484848 20.63%,#454545 21.83%,#4c4c4c 22.72%,#5a5a5a 23.34%,#a2a2a2 24.23%,#b2b2b2 24.69%,#c1c1c1 25.74%,#c4c4c4 27.01%,#bdbdbd 28.02%,#adadad 28.68%,#9e9e9e 28.91%,#5e5e5e 29.37%,#474747 29.88%,#363636 30.92%,#323232 32.28%,#3a3a3a 33.32%,#4c4c4c 34.02%,#5c5c5c 34.25%,#a6a6a6 34.64%,#bebebe 35.1%,#cfcfcf 36.11%,#d3d3d3 37.46%,#cacaca 38.66%,#b6b6b6 39.36%,#a2a2a2 39.59%,#585858 39.9%,#3e3e3e 40.36%,#2d2d2d 41.33%,#282828 42.72%,#313131 43.92%,#464646 44.66%,#5b5b5b 44.89%,#a6a6a6 45.16%,#b8b8b8 45.36%,#c4c4c4 45.63%,#d5d5d5 46.59%,#dadada 47.95%,#d1d1d1 49.23%,#bbb 49.96%,#a6a6a6 50.19%,#565656 50.46%,#3a3a3a 50.89%,#282828 51.86%,#232323 53.21%,#2c2c2c 54.49%,#434343 55.26%,#595959 55.5%,#acacac 55.77%,#c7c7c7 56.19%,#d9d9d9 57.16%,#dedede 58.51%,#d4d4d4 59.79%,#bdbdbd 60.57%,#a6a6a6 60.8%,#575757 61.03%,#464646 61.18%,#383838 61.46%,#262626 62.38%,#202020 63.78%,#2a2a2a 65.05%,#3f3f3f 65.83%,#595959 66.1%,#aaa 66.33%,#bababa 66.49%,#c8c8c8 66.76%,#dadada 67.69%,#dfdfdf 69.04%,#d5d5d5 70.36%,#c0c0c0 71.13%,#a5a5a5 71.4%,#545454 71.63%,#373737 72.06%,#262626 72.95%,#202020 74.23%,#282828 75.5%,#3b3b3b 76.32%,#565656 76.66%,#a4a4a4 76.9%,#bababa 77.09%,#cecece 77.63%,#dadada 78.56%,#dadada 80.19%,#c7c7c7 81.42%,#bababa 81.73%,#aaa 81.93%,#5e5e5e 82.2%,#444 82.47%,#303030 83.2%,#272727 84.44%,#2e2e2e 85.87%,#414141 86.84%,#5b5b5b 87.23%,#9b9b9b 87.5%,#aeaeae 87.65%,#c1c1c1 88.08%,#ccc 88.78%,#d0d0d0 90.4%,#c0c0c0 91.83%,#b3b3b3 92.22%,#a5a5a5 92.45%,#5e5e5e 92.88%,#4d4d4d 93.15%,#3c3c3c 93.89%,#353535 95.05%,#3a3a3a 96.32%,#4a4a4a 97.29%,#5e5e5e 97.72%,#9e9e9e 98.22%,#aaa 98.41%,#bbb 99.03%,#c3c3c3 100%)}
.b13{background:linear-gradient(#808080 0%,#828282 7.39%,#7b7b7b 8.67%,#666 10.8%,#666 11.46%,#747474 12.81%,#a5a5a5 14.82%,#adadad 15.75%,#afafaf 16.76%,#a9a9a9 17.49%,#a0a0a0 18%,#606060 19.16%,#525252 19.62%,#454545 20.67%,#424242 21.9%,#494949 22.83%,#585858 23.45%,#9f9f9f 24.23%,#b4b4b4 24.73%,#c3c3c3 25.77%,#c7c7c7 27.13%,#bfbfbf 28.13%,#aeaeae 28.79%,#9e9e9e 29.02%,#5c5c5c 29.45%,#444 29.95%,#333 31%,#2f2f2f 32.39%,#383838 33.48%,#4a4a4a 34.13%,#5d5d5d 34.37%,#a7a7a7 34.71%,#bfbfbf 35.14%,#d1d1d1 36.15%,#d6d6d6 37.58%,#cdcdcd 38.74%,#bababa 39.43%,#a1a1a1 39.71%,#575757 39.98%,#3c3c3c 40.4%,#2a2a2a 41.37%,#252525 42.8%,#2e2e2e 44%,#424242 44.74%,#5c5c5c 45.01%,#acacac 45.28%,#c6c6c6 45.7%,#d8d8d8 46.67%,#ddd 48.07%,#d3d3d3 49.34%,#bdbdbd 50.08%,#a5a5a5 50.31%,#565656 50.54%,#454545 50.7%,#383838 50.97%,#252525 51.93%,#202020 53.33%,#292929 54.61%,#414141 55.38%,#595959 55.61%,#ababab 55.84%,#c9c9c9 56.27%,#dbdbdb 57.2%,#e0e0e0 58.59%,#d7d7d7 59.87%,#c2c2c2 60.64%,#a6a6a6 60.91%,#525252 61.15%,#353535 61.57%,#232323 62.5%,#1d1d1d 63.89%,#272727 65.17%,#3d3d3d 65.94%,#585858 66.22%,#aeaeae 66.45%,#cacaca 66.83%,#dcdcdc 67.76%,#e2e2e2 69.16%,#d8d8d8 70.47%,#c2c2c2 71.25%,#a6a6a6 71.52%,#505050 71.75%,#353535 72.14%,#232323 73.03%,#1d1d1d 74.3%,#252525 75.58%,#383838 76.43%,#545454 76.78%,#9e9e9e 76.97%,#bababa 77.17%,#d0d0d0 77.71%,#ddd 78.68%,#ddd 80.3%,#cacaca 81.54%,#bdbdbd 81.85%,#adadad 82.04%,#5a5a5a 82.31%,#414141 82.59%,#2d2d2d 83.32%,#252525 84.56%,#2b2b2b 86.03%,#404040 87%,#585858 87.35%,#9f9f9f 87.62%,#b1b1b1 87.77%,#c4c4c4 88.2%,#cfcfcf 88.85%,#d3d3d3 90.56%,#c2c2c2 91.99%,#a8a8a8 92.57%,#616161 92.96%,#4c4c4c 93.23%,#3a3a3a 93.96%,#323232 95.16%,#373737 96.48%,#494949 97.45%,#5e5e5e 97.87%,#a1a1a1 98.34%,#ababab 98.49%,#bcbcbc 99.07%,#c6c6c6 100%)}
.b14{background:linear-gradient(#808080 0%,#828282 7.43%,#7a7a7a 8.75%,#626262 10.8%,#616161 11.49%,#717171 12.81%,#a6a6a6 14.78%,#b0b0b0 15.79%,#b2b2b2 16.83%,#acacac 17.61%,#a1a1a1 18.15%,#5e5e5e 19.2%,#505050 19.66%,#424242 20.74%,#3f3f3f 22.02%,#464646 22.95%,#565656 23.57%,#5f5f5f 23.72%,#a2a2a2 24.3%,#b6b6b6 24.77%,#c6c6c6 25.81%,#cacaca 27.21%,#c2c2c2 28.25%,#b0b0b0 28.91%,#9e9e9e 29.14%,#5a5a5a 29.53%,#424242 29.99%,#303030 31.04%,#2c2c2c 32.47%,#353535 33.59%,#494949 34.25%,#5e5e5e 34.48%,#a9a9a9 34.79%,#c2c2c2 35.22%,#d4d4d4 36.22%,#d9d9d9 37.65%,#d0d0d0 38.85%,#bbb 39.55%,#a6a6a6 39.78%,#565656 40.05%,#3a3a3a 40.48%,#272727 41.49%,#222 42.92%,#2b2b2b 44.12%,#404040 44.85%,#5d5d5d 45.12%,#acacac 45.36%,#c9c9c9 45.78%,#dbdbdb 46.75%,#e0e0e0 48.18%,#d6d6d6 49.42%,#c1c1c1 50.15%,#a4a4a4 50.43%,#505050 50.66%,#363636 51.04%,#222 52.01%,#1d1d1d 53.44%,#272727 54.72%,#3c3c3c 55.46%,#5a5a5a 55.73%,#b1b1b1 55.96%,#cbcbcb 56.35%,#dedede 57.31%,#e3e3e3 58.71%,#dadada 59.98%,#c4c4c4 60.76%,#a6a6a6 61.03%,#535353 61.22%,#414141 61.38%,#333 61.65%,#202020 62.58%,#1b1b1b 63.97%,#242424 65.29%,#3a3a3a 66.06%,#585858 66.33%,#adadad 66.52%,#bfbfbf 66.68%,#cdcdcd 66.95%,#dfdfdf 67.88%,#e5e5e5 69.23%,#dbdbdb 70.59%,#c4c4c4 71.36%,#a7a7a7 71.63%,#525252 71.83%,#343434 72.21%,#212121 73.1%,#1a1a1a 74.42%,#222 75.74%,#383838 76.59%,#525252 76.9%,#a3a3a3 77.09%,#bdbdbd 77.28%,#d3d3d3 77.83%,#dfdfdf 78.75%,#dfdfdf 80.46%,#cbcbcb 81.7%,#afafaf 82.16%,#575757 82.43%,#414141 82.66%,#2b2b2b 83.4%,#222 84.67%,#292929 86.15%,#3d3d3d 87.11%,#5b5b5b 87.5%,#a2a2a2 87.73%,#b4b4b4 87.89%,#c6c6c6 88.31%,#d2d2d2 88.97%,#d6d6d6 90.67%,#cfcfcf 91.49%,#c3c3c3 92.14%,#b7b7b7 92.49%,#a7a7a7 92.72%,#5e5e5e 93.07%,#494949 93.34%,#373737 94.08%,#2f2f2f 95.28%,#353535 96.63%,#474747 97.6%,#5f5f5f 98.03%,#9f9f9f 98.41%,#adadad 98.61%,#bebebe 99.15%,#c8c8c8 100%)}
.b15{background:linear-gradient(#808080 0%,#838383 7.47%,#7a7a7a 8.78%,#5f5f5f 10.76%,#5e5e5e 11.69%,#6f6f6f 12.89%,#a8a8a8 14.74%,#b3b3b3 15.79%,#b5b5b5 16.91%,#aeaeae 17.72%,#a2a2a2 18.27%,#5f5f5f 19.2%,#4e4e4e 19.7%,#3f3f3f 20.78%,#3c3c3c 22.1%,#434343 23.03%,#535353 23.65%,#5e5e5e 23.84%,#a2a2a2 24.34%,#b9b9b9 24.85%,#c9c9c9 25.93%,#cdcdcd 27.32%,#c4c4c4 28.37%,#b1b1b1 29.02%,#a2a2a2 29.22%,#5c5c5c 29.57%,#4c4c4c 29.76%,#404040 30.07%,#2d2d2d 31.15%,#292929 32.59%,#333 33.71%,#474747 34.37%,#606060 34.6%,#ababab 34.87%,#c4c4c4 35.29%,#d7d7d7 36.3%,#dcdcdc 37.77%,#d2d2d2 38.97%,#bcbcbc 39.67%,#a4a4a4 39.9%,#555 40.13%,#383838 40.56%,#242424 41.56%,#1f1f1f 43.03%,#292929 44.23%,#3f3f3f 44.97%,#575757 45.2%,#adadad 45.43%,#bdbdbd 45.59%,#cbcbcb 45.86%,#ddd 46.83%,#e3e3e3 48.26%,#d9d9d9 49.54%,#c3c3c3 50.27%,#a1a1a1 50.54%,#505050 50.74%,#343434 51.12%,#202020 52.09%,#1a1a1a 53.52%,#242424 54.8%,#3b3b3b 55.57%,#5b5b5b 55.84%,#b0b0b0 56.04%,#cdcdcd 56.42%,#e1e1e1 57.39%,#e6e6e6 58.82%,#ddd 60.1%,#c6c6c6 60.87%,#a5a5a5 61.15%,#4e4e4e 61.34%,#313131 61.73%,#1e1e1e 62.65%,#181818 64.09%,#222 65.4%,#383838 66.18%,#585858 66.45%,#b1b1b1 66.64%,#cecece 67.03%,#e2e2e2 67.96%,#e7e7e7 69.35%,#dedede 70.7%,#c7c7c7 71.48%,#a7a7a7 71.75%,#4e4e4e 71.94%,#313131 72.33%,#1d1d1d 73.26%,#181818 74.61%,#222 75.97%,#2b2b2b 76.43%,#393939 76.78%,#585858 77.05%,#afafaf 77.24%,#cdcdcd 77.63%,#dfdfdf 78.52%,#e5e5e5 79.84%,#dbdbdb 81.23%,#d0d0d0 81.73%,#c2c2c2 82.08%,#a3a3a3 82.35%,#545454 82.55%,#363636 82.93%,#252525 83.78%,#1f1f1f 85.02%,#282828 86.38%,#3d3d3d 87.27%,#595959 87.62%,#a5a5a5 87.85%,#b3b3b3 87.96%,#c7c7c7 88.35%,#d4d4d4 89.05%,#d8d8d8 90.79%,#d2d2d2 91.6%,#c6c6c6 92.26%,#bababa 92.61%,#aaa 92.84%,#5c5c5c 93.19%,#474747 93.46%,#343434 94.2%,#2d2d2d 95.39%,#333 96.79%,#454545 97.76%,#5c5c5c 98.14%,#a1a1a1 98.53%,#adadad 98.68%,#bfbfbf 99.19%,#c9c9c9 100%)}
.b16{background:linear-gradient(#808080 0%,#848484 7.47%,#7a7a7a 8.78%,#5e5e5e 10.57%,#5b5b5b 11.8%,#5f5f5f 12.38%,#6a6a6a 12.89%,#a0a0a0 14.36%,#aaa 14.78%,#b6b6b6 15.87%,#b7b7b7 17.03%,#b1b1b1 17.84%,#a4a4a4 18.38%,#5e5e5e 19.23%,#4c4c4c 19.74%,#3d3d3d 20.82%,#393939 22.17%,#414141 23.14%,#525252 23.76%,#5e5e5e 23.96%,#a1a1a1 24.38%,#bababa 24.88%,#ccc 25.97%,#d0d0d0 27.4%,#c7c7c7 28.44%,#b5b5b5 29.1%,#a1a1a1 29.33%,#5a5a5a 29.64%,#3e3e3e 30.11%,#2b2b2b 31.19%,#262626 32.66%,#303030 33.78%,#444 34.44%,#5b5b5b 34.67%,#acacac 34.95%,#c7c7c7 35.37%,#dadada 36.38%,#dfdfdf 37.85%,#d5d5d5 39.05%,#c0c0c0 39.74%,#a1a1a1 40.02%,#555 40.21%,#444 40.36%,#353535 40.63%,#222 41.64%,#1c1c1c 43.11%,#262626 44.35%,#3e3e3e 45.09%,#595959 45.32%,#adadad 45.51%,#bebebe 45.67%,#cdcdcd 45.94%,#e0e0e0 46.9%,#e5e5e5 48.37%,#dbdbdb 49.65%,#c4c4c4 50.39%,#a9a9a9 50.62%,#515151 50.81%,#3f3f3f 50.97%,#303030 51.24%,#1d1d1d 52.21%,#181818 53.64%,#222 54.95%,#393939 55.69%,#535353 55.92%,#aeaeae 56.11%,#c1c1c1 56.27%,#d0d0d0 56.54%,#e3e3e3 57.51%,#e9e9e9 58.94%,#dedede 60.26%,#c7c7c7 60.99%,#bababa 61.15%,#a4a4a4 61.26%,#505050 61.42%,#3d3d3d 61.57%,#2f2f2f 61.8%,#1b1b1b 62.77%,#151515 64.2%,#1f1f1f 65.52%,#363636 66.29%,#595959 66.56%,#aeaeae 66.72%,#c3c3c3 66.87%,#d0d0d0 67.11%,#e4e4e4 68.03%,#eaeaea 69.47%,#e0e0e0 70.82%,#c9c9c9 71.59%,#a8a8a8 71.87%,#4a4a4a 72.06%,#2e2e2e 72.45%,#1b1b1b 73.37%,#151515 74.73%,#1f1f1f 76.08%,#292929 76.55%,#373737 76.9%,#575757 77.17%,#b2b2b2 77.36%,#cfcfcf 77.75%,#e2e2e2 78.64%,#e7e7e7 79.95%,#ddd 81.39%,#d3d3d3 81.85%,#c4c4c4 82.2%,#a5a5a5 82.47%,#515151 82.66%,#343434 83.05%,#222 83.9%,#1d1d1d 85.14%,#262626 86.53%,#3c3c3c 87.42%,#565656 87.73%,#9d9d9d 87.93%,#b5b5b5 88.08%,#c9c9c9 88.47%,#d6d6d6 89.13%,#dbdbdb 90.91%,#d4d4d4 91.76%,#c8c8c8 92.41%,#bbb 92.76%,#a8a8a8 93%,#616161 93.27%,#474747 93.54%,#333 94.27%,#2a2a2a 95.51%,#313131 96.94%,#444 97.91%,#5d5d5d 98.3%,#9d9d9d 98.61%,#adadad 98.76%,#c0c0c0 99.23%,#cbcbcb 100%)}
.b17{background:linear-gradient(#808080 0%,#858585 7.51%,#7b7b7b 8.75%,#5c5c5c 10.57%,#585858 11.88%,#646464 12.89%,#a0a0a0 14.32%,#ababab 14.78%,#b8b8b8 15.87%,#bababa 17.11%,#b3b3b3 17.96%,#a5a5a5 18.5%,#5e5e5e 19.27%,#4a4a4a 19.78%,#3a3a3a 20.9%,#373737 22.29%,#3f3f3f 23.26%,#515151 23.88%,#5f5f5f 24.07%,#a3a3a3 24.46%,#bdbdbd 24.96%,#cecece 26.04%,#d2d2d2 27.52%,#c9c9c9 28.6%,#b6b6b6 29.22%,#9f9f9f 29.45%,#595959 29.72%,#3c3c3c 30.19%,#282828 31.27%,#242424 32.74%,#2e2e2e 33.9%,#434343 34.56%,#5e5e5e 34.79%,#adadad 35.02%,#c9c9c9 35.45%,#dcdcdc 36.49%,#e1e1e1 37.96%,#d7d7d7 39.16%,#c1c1c1 39.86%,#a7a7a7 40.09%,#4e4e4e 40.33%,#333 40.71%,#1f1f1f 41.72%,#1a1a1a 43.23%,#242424 44.47%,#3a3a3a 45.16%,#535353 45.39%,#b3b3b3 45.63%,#cfcfcf 46.01%,#e3e3e3 47.02%,#e8e8e8 48.49%,#ddd 49.77%,#d4d4d4 50.19%,#c5c5c5 50.5%,#a7a7a7 50.74%,#4b4b4b 50.93%,#2e2e2e 51.32%,#1b1b1b 52.28%,#151515 53.75%,#202020 55.07%,#2a2a2a 55.5%,#383838 55.8%,#555 56.04%,#b4b4b4 56.23%,#d2d2d2 56.62%,#e6e6e6 57.59%,#ebebeb 59.02%,#e1e1e1 60.33%,#d7d7d7 60.8%,#c9c9c9 61.11%,#aeaeae 61.34%,#4b4b4b 61.53%,#2c2c2c 61.92%,#181818 62.89%,#131313 64.32%,#1d1d1d 65.63%,#272727 66.1%,#353535 66.41%,#4f4f4f 66.64%,#b3b3b3 66.83%,#c6c6c6 66.99%,#d3d3d3 67.22%,#e7e7e7 68.15%,#ededed 69.58%,#e3e3e3 70.94%,#d8d8d8 71.4%,#cbcbcb 71.71%,#a7a7a7 71.98%,#4d4d4d 72.14%,#3a3a3a 72.29%,#2c2c2c 72.52%,#181818 73.45%,#131313 74.85%,#1d1d1d 76.2%,#262626 76.66%,#353535 77.01%,#565656 77.28%,#a3a3a3 77.4%,#b6b6b6 77.48%,#d1d1d1 77.83%,#e4e4e4 78.72%,#eaeaea 80.07%,#dfdfdf 81.5%,#d5d5d5 81.97%,#c7c7c7 82.31%,#a7a7a7 82.59%,#4e4e4e 82.78%,#313131 83.17%,#202020 84.02%,#1a1a1a 85.26%,#232323 86.65%,#393939 87.54%,#545454 87.85%,#a1a1a1 88.04%,#b8b8b8 88.2%,#cbcbcb 88.58%,#d8d8d8 89.2%,#ddd 90.98%,#d6d6d6 91.87%,#cacaca 92.53%,#bdbdbd 92.88%,#ababab 93.11%,#5e5e5e 93.38%,#444 93.65%,#303030 94.39%,#282828 95.63%,#2e2e2e 97.06%,#424242 98.03%,#5a5a5a 98.41%,#a0a0a0 98.72%,#afafaf 98.88%,#c1c1c1 99.3%,#ccc 100%)}
.b18{background:linear-gradient(#808080 0%,#868686 7.55%,#7b7b7b 8.75%,#5a5a5a 10.53%,#555 11.96%,#5f5f5f 12.93%,#797979 13.58%,#a0a0a0 14.32%,#adadad 14.82%,#bbb 15.94%,#bdbdbd 17.18%,#b6b6b6 18.03%,#a8a8a8 18.58%,#9f9f9f 18.73%,#5e5e5e 19.31%,#494949 19.81%,#383838 20.94%,#343434 22.37%,#3c3c3c 23.34%,#4e4e4e 23.96%,#626262 24.19%,#a5a5a5 24.54%,#bebebe 25%,#d0d0d0 26.08%,#d5d5d5 27.59%,#ccc 28.64%,#b9b9b9 29.3%,#a3a3a3 29.53%,#575757 29.8%,#464646 29.99%,#3a3a3a 30.26%,#262626 31.35%,#212121 32.86%,#2b2b2b 33.98%,#404040 34.64%,#5a5a5a 34.87%,#aeaeae 35.1%,#cacaca 35.49%,#dedede 36.53%,#e4e4e4 38.04%,#d9d9d9 39.28%,#c2c2c2 39.98%,#a3a3a3 40.21%,#4e4e4e 40.4%,#313131 40.79%,#1d1d1d 41.8%,#171717 43.3%,#212121 44.54%,#2b2b2b 44.97%,#393939 45.28%,#565656 45.51%,#b3b3b3 45.7%,#d1d1d1 46.09%,#e5e5e5 47.1%,#eaeaea 48.57%,#e0e0e0 49.85%,#c9c9c9 50.58%,#aeaeae 50.81%,#4c4c4c 51.01%,#2d2d2d 51.39%,#181818 52.36%,#131313 53.83%,#1e1e1e 55.19%,#282828 55.61%,#363636 55.92%,#585858 56.15%,#b3b3b3 56.31%,#c6c6c6 56.46%,#d3d3d3 56.7%,#e8e8e8 57.66%,#eee 59.13%,#e3e3e3 60.49%,#d9d9d9 60.91%,#cbcbcb 61.22%,#acacac 61.46%,#4d4d4d 61.61%,#383838 61.76%,#2b2b2b 62%,#161616 62.96%,#101010 64.43%,#1a1a1a 65.75%,#252525 66.22%,#333 66.52%,#4f4f4f 66.76%,#b8b8b8 66.95%,#d4d4d4 67.3%,#e9e9e9 68.23%,#efefef 69.7%,#e5e5e5 71.05%,#dadada 71.52%,#cdcdcd 71.83%,#b2b2b2 72.06%,#494949 72.25%,#2b2b2b 72.6%,#161616 73.53%,#101010 74.92%,#1a1a1a 76.32%,#252525 76.82%,#333 77.13%,#565656 77.4%,#b2b2b2 77.55%,#c6c6c6 77.71%,#d3d3d3 77.94%,#e6e6e6 78.83%,#ececec 80.19%,#e1e1e1 81.62%,#d7d7d7 82.08%,#c9c9c9 82.43%,#a8a8a8 82.7%,#4b4b4b 82.89%,#303030 83.24%,#1e1e1e 84.09%,#181818 85.37%,#212121 86.76%,#373737 87.65%,#525252 87.96%,#a4a4a4 88.16%,#b7b7b7 88.27%,#cdcdcd 88.66%,#dadada 89.32%,#e0e0e0 90.17%,#dfdfdf 91.14%,#d8d8d8 92.03%,#cbcbcb 92.69%,#bdbdbd 93.03%,#adadad 93.23%,#5c5c5c 93.5%,#424242 93.77%,#2e2e2e 94.5%,#262626 95.7%,#2c2c2c 97.17%,#414141 98.18%,#5c5c5c 98.57%,#a2a2a2 98.84%,#aeaeae 98.96%,#c1c1c1 99.34%,#cdcdcd 100%)}
.b19{background:linear-gradient(#808080 0%,#808080 4.18%,#878787 7.55%,#7c7c7c 8.71%,#585858 10.53%,#535353 12.07%,#606060 13.12%,#a0a0a0 14.32%,#aeaeae 14.82%,#bdbdbd 15.94%,#c0c0c0 17.26%,#b8b8b8 18.11%,#a9a9a9 18.69%,#9f9f9f 18.85%,#5f5f5f 19.35%,#464646 19.89%,#353535 21.01%,#313131 22.45%,#3a3a3a 23.45%,#4d4d4d 24.07%,#5e5e5e 24.26%,#a7a7a7 24.61%,#c0c0c0 25.08%,#d3d3d3 26.16%,#d7d7d7 27.67%,#cecece 28.75%,#b9b9b9 29.41%,#9e9e9e 29.64%,#555 29.88%,#444 30.07%,#373737 30.34%,#232323 31.42%,#1f1f1f 32.93%,#292929 34.09%,#404040 34.75%,#5f5f5f 34.98%,#afafaf 35.18%,#ccc 35.57%,#e1e1e1 36.61%,#e6e6e6 38.16%,#dcdcdc 39.36%,#c5c5c5 40.05%,#a8a8a8 40.29%,#4d4d4d 40.48%,#2f2f2f 40.87%,#1b1b1b 41.87%,#151515 43.42%,#202020 44.7%,#2b2b2b 45.12%,#383838 45.39%,#5c5c5c 45.63%,#b3b3b3 45.78%,#d2d2d2 46.17%,#e7e7e7 47.17%,#ededed 48.68%,#e2e2e2 49.96%,#d8d8d8 50.39%,#cacaca 50.7%,#aaa 50.93%,#4d4d4d 51.08%,#383838 51.24%,#2b2b2b 51.47%,#161616 52.44%,#101010 53.95%,#1b1b1b 55.26%,#252525 55.69%,#333 56%,#4f4f4f 56.23%,#b9b9b9 56.42%,#d5d5d5 56.77%,#eaeaea 57.74%,#f0f0f0 59.25%,#e5e5e5 60.6%,#dbdbdb 61.03%,#ccc 61.34%,#a8a8a8 61.57%,#474747 61.73%,#292929 62.07%,#141414 63.04%,#0e0e0e 64.51%,#181818 65.87%,#232323 66.33%,#313131 66.64%,#515151 66.87%,#b6b6b6 67.03%,#cacaca 67.18%,#d7d7d7 67.41%,#ebebeb 68.34%,#f1f1f1 69.81%,#e7e7e7 71.17%,#dcdcdc 71.63%,#cecece 71.94%,#b2b2b2 72.17%,#4d4d4d 72.33%,#363636 72.48%,#282828 72.72%,#141414 73.65%,#0e0e0e 75.04%,#181818 76.43%,#232323 76.93%,#313131 77.24%,#3f3f3f 77.4%,#575757 77.52%,#b6b6b6 77.67%,#d4d4d4 78.02%,#e8e8e8 78.91%,#eee 80.3%,#e3e3e3 81.73%,#d9d9d9 82.2%,#cbcbcb 82.55%,#a8a8a8 82.82%,#4f4f4f 82.97%,#3b3b3b 83.13%,#2e2e2e 83.36%,#1c1c1c 84.21%,#161616 85.49%,#1f1f1f 86.88%,#353535 87.77%,#505050 88.08%,#a7a7a7 88.27%,#b9b9b9 88.39%,#cecece 88.74%,#dcdcdc 89.4%,#e2e2e2 90.25%,#e1e1e1 91.25%,#dadada 92.14%,#cdcdcd 92.8%,#bfbfbf 93.15%,#afafaf 93.34%,#5a5a5a 93.61%,#424242 93.85%,#2c2c2c 94.58%,#232323 95.82%,#2a2a2a 97.33%,#404040 98.34%,#595959 98.68%,#a3a3a3 98.96%,#b0b0b0 99.07%,#c2c2c2 99.42%,#cecece 100%)}
.b20{background:linear-gradient(#808080 0%,#808080 4.18%,#888 7.59%,#7d7d7d 8.71%,#565656 10.53%,#505050 12.15%,#5f5f5f 13.27%,#a1a1a1 14.36%,#b0b0b0 14.86%,#bfbfbf 16.02%,#c2c2c2 17.34%,#bbb 18.19%,#ababab 18.77%,#9e9e9e 18.96%,#5c5c5c 19.43%,#454545 19.93%,#333 21.05%,#2f2f2f 22.52%,#383838 23.53%,#4b4b4b 24.15%,#5b5b5b 24.34%,#a5a5a5 24.65%,#c1c1c1 25.12%,#d5d5d5 26.24%,#dadada 27.79%,#d0d0d0 28.87%,#bcbcbc 29.49%,#a2a2a2 29.72%,#545454 29.95%,#363636 30.38%,#212121 31.46%,#1c1c1c 33.01%,#272727 34.17%,#3d3d3d 34.83%,#5b5b5b 35.06%,#b1b1b1 35.26%,#cecece 35.64%,#e3e3e3 36.69%,#e8e8e8 38.24%,#dedede 39.47%,#d3d3d3 39.9%,#c5c5c5 40.17%,#adadad 40.36%,#4d4d4d 40.56%,#2d2d2d 40.94%,#181818 41.95%,#131313 43.5%,#1e1e1e 44.78%,#353535 45.47%,#555 45.7%,#b2b2b2 45.86%,#c7c7c7 46.01%,#d4d4d4 46.25%,#eaeaea 47.25%,#efefef 48.76%,#e4e4e4 50.08%,#dadada 50.5%,#cbcbcb 50.81%,#b1b1b1 51.01%,#4e4e4e 51.16%,#383838 51.32%,#292929 51.55%,#141414 52.52%,#0e0e0e 54.06%,#191919 55.38%,#232323 55.8%,#323232 56.11%,#545454 56.35%,#b8b8b8 56.5%,#d7d7d7 56.85%,#ececec 57.82%,#f2f2f2 59.33%,#e8e8e8 60.68%,#dedede 61.11%,#d0d0d0 61.42%,#b2b2b2 61.65%,#4a4a4a 61.8%,#343434 61.96%,#262626 62.19%,#111 63.16%,#0c0c0c 64.63%,#161616 65.98%,#212121 66.45%,#303030 66.76%,#555 66.99%,#a1a1a1 67.07%,#bbb 67.14%,#d9d9d9 67.49%,#ededed 68.42%,#f4f4f4 69.89%,#e9e9e9 71.28%,#dedede 71.75%,#d0d0d0 72.06%,#b0b0b0 72.29%,#474747 72.45%,#272727 72.79%,#121212 73.72%,#0c0c0c 75.15%,#161616 76.55%,#222 77.05%,#303030 77.36%,#4c4c4c 77.59%,#bbb 77.79%,#d7d7d7 78.13%,#ebebeb 79.02%,#f0f0f0 80.38%,#e6e6e6 81.81%,#dbdbdb 82.31%,#ccc 82.66%,#bfbfbf 82.82%,#a8a8a8 82.93%,#4c4c4c 83.09%,#2d2d2d 83.44%,#1a1a1a 84.29%,#141414 85.6%,#1d1d1d 87.04%,#282828 87.58%,#353535 87.93%,#585858 88.24%,#aaa 88.39%,#bcbcbc 88.51%,#d0d0d0 88.85%,#dedede 89.51%,#e4e4e4 90.36%,#e4e4e4 91.37%,#dcdcdc 92.26%,#cfcfcf 92.92%,#c1c1c1 93.27%,#b1b1b1 93.46%,#575757 93.73%,#404040 93.96%,#2a2a2a 94.7%,#212121 95.9%,#282828 97.45%,#3e3e3e 98.45%,#575757 98.8%,#9d9d9d 99.03%,#afafaf 99.15%,#c1c1c1 99.46%,#cecece 100%)}
.b21{background:linear-gradient(#808080 0%,#808080 4.18%,#8a8a8a 7.62%,#7f7f7f 8.67%,#5f5f5f 9.87%,#545454 10.53%,#4e4e4e 12.23%,#535353 12.89%,#5e5e5e 13.39%,#a0a0a0 14.36%,#b2b2b2 14.9%,#c2c2c2 16.06%,#c4c4c4 17.45%,#bcbcbc 18.34%,#ababab 18.89%,#a1a1a1 19.04%,#5d5d5d 19.47%,#434343 19.97%,#303030 21.13%,#2d2d2d 22.64%,#363636 23.61%,#494949 24.23%,#5f5f5f 24.46%,#a7a7a7 24.73%,#c4c4c4 25.19%,#d8d8d8 26.32%,#dcdcdc 27.86%,#d1d1d1 28.99%,#bcbcbc 29.61%,#a5a5a5 29.8%,#525252 30.03%,#343434 30.46%,#1f1f1f 31.54%,#1a1a1a 33.09%,#242424 34.25%,#3a3a3a 34.91%,#575757 35.14%,#b2b2b2 35.33%,#d0d0d0 35.72%,#e5e5e5 36.76%,#ebebeb 38.31%,#e0e0e0 39.55%,#d5d5d5 39.98%,#c8c8c8 40.25%,#a6a6a6 40.48%,#4c4c4c 40.63%,#393939 40.79%,#2c2c2c 41.02%,#1f1f1f 41.45%,#161616 42.07%,#101010 43.61%,#1c1c1c 44.89%,#272727 45.32%,#353535 45.59%,#4f4f4f 45.78%,#b2b2b2 45.94%,#c8c8c8 46.09%,#d6d6d6 46.32%,#ececec 47.33%,#f1f1f1 48.88%,#e7e7e7 50.15%,#dcdcdc 50.58%,#cecece 50.89%,#ababab 51.12%,#464646 51.28%,#282828 51.63%,#121212 52.59%,#0c0c0c 54.14%,#171717 55.5%,#222 55.92%,#313131 56.23%,#4c4c4c 56.42%,#b6b6b6 56.58%,#ccc 56.73%,#dadada 56.97%,#efefef 57.93%,#f5f5f5 59.44%,#e9e9e9 60.8%,#dfdfdf 61.22%,#d0d0d0 61.53%,#adadad 61.76%,#434343 61.92%,#252525 62.27%,#0f0f0f 63.24%,#090909 64.74%,#151515 66.14%,#202020 66.56%,#2f2f2f 66.87%,#4b4b4b 67.07%,#b9b9b9 67.22%,#dadada 67.57%,#efefef 68.5%,#f6f6f6 70.01%,#ebebeb 71.4%,#e0e0e0 71.87%,#d1d1d1 72.17%,#adadad 72.41%,#5d5d5d 72.48%,#424242 72.56%,#242424 72.91%,#101010 73.84%,#090909 75.27%,#141414 76.66%,#202020 77.17%,#2e2e2e 77.48%,#4d4d4d 77.71%,#b7b7b7 77.86%,#d8d8d8 78.21%,#ececec 79.1%,#f3f3f3 80.5%,#e7e7e7 81.97%,#dcdcdc 82.47%,#cecece 82.78%,#b3b3b3 83.01%,#484848 83.2%,#2b2b2b 83.55%,#181818 84.4%,#121212 85.72%,#1b1b1b 87.15%,#262626 87.69%,#343434 88.04%,#4e4e4e 88.31%,#a2a2a2 88.47%,#bababa 88.58%,#d1d1d1 88.93%,#e0e0e0 89.59%,#e6e6e6 90.48%,#e6e6e6 91.49%,#dedede 92.41%,#d0d0d0 93.07%,#c3c3c3 93.38%,#b3b3b3 93.58%,#a5a5a5 93.65%,#5d5d5d 93.81%,#3d3d3d 94.08%,#282828 94.81%,#1f1f1f 96.01%,#262626 97.6%,#303030 98.18%,#3d3d3d 98.61%,#5c5c5c 98.96%,#a0a0a0 99.15%,#b1b1b1 99.26%,#c2c2c2 99.54%,#cfcfcf 100%)}
.b22{background:linear-gradient(#808080 0%,#808080 4.22%,#8c8c8c 7.62%,#808080 8.67%,#5f5f5f 9.83%,#535353 10.49%,#4c4c4c 11.34%,#4c4c4c 12.31%,#525252 13.04%,#5f5f5f 13.54%,#a0a0a0 14.4%,#b3b3b3 14.94%,#c4c4c4 16.14%,#c7c7c7 17.53%,#bebebe 18.42%,#aeaeae 18.96%,#9e9e9e 19.16%,#5b5b5b 19.54%,#414141 20.05%,#2e2e2e 21.21%,#2b2b2b 22.72%,#343434 23.72%,#494949 24.34%,#5d5d5d 24.54%,#a9a9a9 24.81%,#c6c6c6 25.27%,#dadada 26.39%,#dedede 27.94%,#d4d4d4 29.06%,#bebebe 29.68%,#a8a8a8 29.88%,#505050 30.11%,#323232 30.53%,#1d1d1d 31.62%,#181818 33.2%,#232323 34.37%,#3a3a3a 35.02%,#545454 35.22%,#b3b3b3 35.41%,#d2d2d2 35.8%,#e7e7e7 36.84%,#ededed 38.43%,#e2e2e2 39.63%,#cbcbcb 40.33%,#ababab 40.56%,#4b4b4b 40.71%,#373737 40.87%,#2a2a2a 41.1%,#1d1d1d 41.52%,#141414 42.14%,#0e0e0e 43.69%,#1a1a1a 44.97%,#242424 45.39%,#323232 45.67%,#434343 45.82%,#585858 45.9%,#a2a2a2 45.98%,#bbb 46.05%,#d8d8d8 46.4%,#e5e5e5 46.83%,#eee 47.41%,#f3f3f3 48.96%,#e8e8e8 50.27%,#dedede 50.7%,#cecece 51.01%,#b1b1b1 51.2%,#474747 51.35%,#323232 51.51%,#242424 51.74%,#0f0f0f 52.75%,#0a0a0a 54.26%,#151515 55.57%,#1f1f1f 56%,#2e2e2e 56.31%,#3f3f3f 56.46%,#535353 56.54%,#b5b5b5 56.66%,#cdcdcd 56.81%,#dbdbdb 57.04%,#f1f1f1 58.01%,#f7f7f7 59.52%,#ebebeb 60.91%,#e1e1e1 61.34%,#d1d1d1 61.65%,#b5b5b5 61.84%,#454545 62%,#242424 62.35%,#171717 62.73%,#0e0e0e 63.31%,#070707 64.82%,#121212 66.18%,#1d1d1d 66.64%,#2c2c2c 66.95%,#505050 67.18%,#a4a4a4 67.26%,#bfbfbf 67.34%,#ddd 67.69%,#f2f2f2 68.65%,#f8f8f8 70.12%,#ededed 71.52%,#e1e1e1 71.98%,#d2d2d2 72.29%,#b7b7b7 72.48%,#454545 72.64%,#232323 72.99%,#0e0e0e 73.92%,#070707 75.35%,#121212 76.78%,#1e1e1e 77.28%,#2d2d2d 77.59%,#505050 77.83%,#bcbcbc 77.98%,#dbdbdb 78.33%,#efefef 79.22%,#f4f4f4 80.61%,#e9e9e9 82.08%,#ddd 82.59%,#cfcfcf 82.89%,#b2b2b2 83.13%,#4c4c4c 83.28%,#2a2a2a 83.63%,#161616 84.48%,#101010 85.8%,#191919 87.23%,#303030 88.12%,#4e4e4e 88.43%,#a7a7a7 88.58%,#bdbdbd 88.7%,#d3d3d3 89.05%,#e2e2e2 89.71%,#e8e8e8 90.6%,#e7e7e7 91.6%,#dfdfdf 92.53%,#d2d2d2 93.19%,#c5c5c5 93.5%,#b4b4b4 93.69%,#a5a5a5 93.77%,#5a5a5a 93.92%,#3e3e3e 94.16%,#272727 94.85%,#1d1d1d 96.09%,#252525 97.72%,#2e2e2e 98.3%,#3c3c3c 98.72%,#5b5b5b 99.07%,#afafaf 99.34%,#c1c1c1 99.57%,#cecece 100%)}
.b23{background:linear-gradient(#808080 0%,#808080 4.3%,#8e8e8e 7.66%,#818181 8.67%,#5f5f5f 9.79%,#515151 10.49%,#4a4a4a 11.38%,#4a4a4a 12.38%,#505050 13.12%,#5d5d5d 13.62%,#a1a1a1 14.43%,#b5b5b5 14.98%,#c6c6c6 16.18%,#c9c9c9 17.61%,#c0c0c0 18.5%,#afafaf 19.04%,#a0a0a0 19.23%,#5c5c5c 19.58%,#404040 20.09%,#2c2c2c 21.25%,#282828 22.79%,#323232 23.8%,#474747 24.42%,#5b5b5b 24.61%,#acacac 24.88%,#c7c7c7 25.31%,#dcdcdc 26.43%,#e0e0e0 28.02%,#d6d6d6 29.14%,#c0c0c0 29.76%,#aaa 29.95%,#4d4d4d 30.19%,#313131 30.57%,#1b1b1b 31.66%,#161616 33.28%,#212121 34.44%,#383838 35.1%,#515151 35.29%,#b5b5b5 35.49%,#d4d4d4 35.87%,#e9e9e9 36.92%,#efefef 38.51%,#e4e4e4 39.74%,#d9d9d9 40.17%,#cacaca 40.44%,#aeaeae 40.63%,#4a4a4a 40.79%,#363636 40.94%,#282828 41.18%,#121212 42.18%,#0c0c0c 43.77%,#171717 45.05%,#222 45.47%,#303030 45.74%,#535353 45.98%,#bbb 46.13%,#d9d9d9 46.48%,#e7e7e7 46.9%,#f0f0f0 47.48%,#f5f5f5 49.03%,#eaeaea 50.35%,#e0e0e0 50.77%,#d0d0d0 51.08%,#b6b6b6 51.28%,#474747 51.43%,#313131 51.59%,#232323 51.82%,#0d0d0d 52.83%,#080808 54.33%,#131313 55.69%,#1f1f1f 56.15%,#2e2e2e 56.42%,#4c4c4c 56.62%,#bdbdbd 56.77%,#ddd 57.12%,#f2f2f2 58.09%,#f9f9f9 59.64%,#ededed 60.99%,#e3e3e3 61.42%,#d4d4d4 61.73%,#c3c3c3 61.88%,#adadad 61.96%,#464646 62.07%,#333 62.19%,#222 62.42%,#151515 62.81%,#0c0c0c 63.39%,#050505 64.94%,#111 66.33%,#1c1c1c 66.76%,#2c2c2c 67.07%,#484848 67.26%,#bdbdbd 67.41%,#dedede 67.76%,#f3f3f3 68.69%,#fafafa 70.2%,#efefef 71.59%,#e4e4e4 72.06%,#d5d5d5 72.37%,#b2b2b2 72.6%,#484848 72.72%,#333 72.83%,#222 73.07%,#0c0c0c 73.96%,#050505 75.35%,#0e0e0e 76.74%,#252525 77.59%,#474747 77.9%,#acacac 78.02%,#ccc 78.17%,#e4e4e4 78.64%,#f3f3f3 79.57%,#f3f3f3 81.42%,#eaeaea 82.24%,#dcdcdc 82.78%,#cdcdcd 83.05%,#b9b9b9 83.2%,#515151 83.36%,#303030 83.59%,#232323 83.86%,#181818 84.29%,#0e0e0e 85.57%,#151515 87.19%,#1f1f1f 87.77%,#2d2d2d 88.2%,#4f4f4f 88.54%,#adadad 88.7%,#c0c0c0 88.82%,#d5d5d5 89.16%,#e4e4e4 89.82%,#eaeaea 90.71%,#e9e9e9 91.72%,#e1e1e1 92.65%,#d3d3d3 93.3%,#c6c6c6 93.61%,#b4b4b4 93.81%,#a4a4a4 93.89%,#555 94.04%,#3b3b3b 94.27%,#252525 94.97%,#1c1c1c 96.17%,#222 97.79%,#2c2c2c 98.41%,#3a3a3a 98.84%,#5b5b5b 99.19%,#9c9c9c 99.34%,#b2b2b2 99.46%,#c1c1c1 99.65%,#cecece 100%)}
.b24{background:linear-gradient(#808080 0%,#808080 4.33%,#8f8f8f 7.7%,#828282 8.71%,#5f5f5f 9.75%,#505050 10.49%,#484848 11.42%,#474747 12.46%,#4e4e4e 13.2%,#5b5b5b 13.7%,#a1a1a1 14.47%,#b6b6b6 15.02%,#c8c8c8 16.22%,#cbcbcb 17.69%,#c2c2c2 18.58%,#b1b1b1 19.12%,#a1a1a1 19.31%,#595959 19.66%,#3f3f3f 20.12%,#2b2b2b 21.28%,#262626 22.87%,#313131 23.92%,#454545 24.5%,#5a5a5a 24.69%,#a9a9a9 24.92%,#bcbcbc 25.12%,#c9c9c9 25.39%,#dedede 26.51%,#e2e2e2 28.1%,#d8d8d8 29.22%,#c2c2c2 29.84%,#a0a0a0 30.07%,#525252 30.22%,#3e3e3e 30.38%,#2f2f2f 30.65%,#191919 31.73%,#141414 33.36%,#1f1f1f 34.52%,#363636 35.18%,#4f4f4f 35.37%,#b7b7b7 35.57%,#d6d6d6 35.95%,#ebebeb 37%,#f1f1f1 38.58%,#e6e6e6 39.82%,#dbdbdb 40.25%,#ccc 40.52%,#b0b0b0 40.71%,#494949 40.87%,#343434 41.02%,#262626 41.25%,#101010 42.26%,#0a0a0a 43.85%,#161616 45.16%,#212121 45.59%,#303030 45.86%,#505050 46.05%,#bcbcbc 46.21%,#dbdbdb 46.56%,#e8e8e8 46.98%,#f1f1f1 47.56%,#f7f7f7 49.15%,#ececec 50.46%,#e1e1e1 50.89%,#d3d3d3 51.16%,#c2c2c2 51.32%,#acacac 51.39%,#474747 51.51%,#333 51.63%,#232323 51.86%,#161616 52.24%,#0c0c0c 52.83%,#060606 54.41%,#111 55.77%,#1c1c1c 56.19%,#2c2c2c 56.5%,#474747 56.7%,#bdbdbd 56.85%,#dedede 57.2%,#ebebeb 57.59%,#f4f4f4 58.17%,#fbfbfb 59.71%,#efefef 61.11%,#e3e3e3 61.57%,#d4d4d4 61.84%,#b4b4b4 62.04%,#484848 62.15%,#323232 62.27%,#1f1f1f 62.54%,#0a0a0a 63.51%,#030303 65.02%,#0f0f0f 66.41%,#191919 66.83%,#292929 67.14%,#3a3a3a 67.3%,#505050 67.38%,#bcbcbc 67.49%,#cfcfcf 67.61%,#dfdfdf 67.84%,#ececec 68.23%,#f6f6f6 68.81%,#fcfcfc 70.32%,#f1f1f1 71.71%,#e5e5e5 72.17%,#d5d5d5 72.48%,#b9b9b9 72.68%,#404040 72.83%,#1f1f1f 73.18%,#0a0a0a 74.07%,#040404 75.46%,#0d0d0d 76.86%,#171717 77.36%,#252525 77.71%,#343434 77.9%,#4c4c4c 78.02%,#a2a2a2 78.1%,#cbcbcb 78.25%,#dadada 78.44%,#e6e6e6 78.75%,#f5f5f5 79.68%,#f5f5f5 81.58%,#ececec 82.35%,#ddd 82.89%,#cdcdcd 83.17%,#b7b7b7 83.32%,#595959 83.44%,#414141 83.51%,#303030 83.67%,#222 83.94%,#171717 84.37%,#0c0c0c 85.64%,#131313 87.27%,#1d1d1d 87.89%,#2c2c2c 88.31%,#3d3d3d 88.54%,#525252 88.66%,#a7a7a7 88.78%,#c0c0c0 88.89%,#d6d6d6 89.24%,#e5e5e5 89.9%,#ececec 90.79%,#ebebeb 91.83%,#e3e3e3 92.76%,#d5d5d5 93.42%,#c7c7c7 93.73%,#b4b4b4 93.92%,#5b5b5b 94.12%,#3b3b3b 94.35%,#252525 95.01%,#1a1a1a 96.21%,#212121 97.91%,#2b2b2b 98.53%,#393939 98.96%,#535353 99.26%,#b0b0b0 99.54%,#c1c1c1 99.73%,#ccc 100%)}
.b25{background:linear-gradient(#808080 0%,#808080 4.37%,#919191 6.93%,#929292 7.74%,#848484 8.71%,#5e5e5e 9.75%,#4f4f4f 10.49%,#464646 11.46%,#454545 12.54%,#4c4c4c 13.27%,#5a5a5a 13.78%,#a1a1a1 14.51%,#b8b8b8 15.05%,#cacaca 16.25%,#cdcdcd 17.72%,#c4c4c4 18.65%,#b2b2b2 19.2%,#a2a2a2 19.39%,#5a5a5a 19.7%,#4a4a4a 19.89%,#3d3d3d 20.2%,#292929 21.36%,#252525 22.95%,#2f2f2f 23.99%,#444 24.57%,#5a5a5a 24.77%,#acacac 25%,#cacaca 25.43%,#dfdfdf 26.55%,#e4e4e4 28.17%,#d9d9d9 29.3%,#c3c3c3 29.91%,#acacac 30.11%,#4f4f4f 30.3%,#3c3c3c 30.46%,#2d2d2d 30.73%,#202020 31.19%,#171717 31.85%,#121212 33.44%,#1d1d1d 34.6%,#353535 35.26%,#4e4e4e 35.45%,#b1b1b1 35.6%,#c8c8c8 35.76%,#d6d6d6 35.99%,#e3e3e3 36.42%,#ededed 37.04%,#f3f3f3 38.66%,#e7e7e7 39.9%,#dcdcdc 40.33%,#cecece 40.6%,#b2b2b2 40.79%,#474747 40.94%,#323232 41.1%,#242424 41.33%,#0e0e0e 42.34%,#080808 43.92%,#141414 45.24%,#202020 45.67%,#2e2e2e 45.94%,#4d4d4d 46.13%,#bebebe 46.28%,#ddd 46.63%,#eaeaea 47.06%,#f3f3f3 47.64%,#f9f9f9 49.23%,#ededed 50.58%,#e1e1e1 51.01%,#d2d2d2 51.28%,#b0b0b0 51.47%,#464646 51.59%,#323232 51.7%,#212121 51.93%,#141414 52.32%,#0b0b0b 52.9%,#040404 54.49%,#0f0f0f 55.84%,#1a1a1a 56.27%,#292929 56.58%,#3b3b3b 56.73%,#535353 56.81%,#bebebe 56.93%,#e0e0e0 57.28%,#ececec 57.66%,#f6f6f6 58.24%,#fcfcfc 59.79%,#f1f1f1 61.18%,#e5e5e5 61.65%,#d6d6d6 61.92%,#b9b9b9 62.11%,#3e3e3e 62.27%,#1e1e1e 62.62%,#111 63%,#080808 63.58%,#020202 65.09%,#0e0e0e 66.52%,#1a1a1a 66.99%,#292929 67.26%,#494949 67.45%,#bababa 67.57%,#d0d0d0 67.69%,#e0e0e0 67.92%,#eee 68.3%,#f7f7f7 68.85%,#fefefe 70.39%,#f3f3f3 71.79%,#e7e7e7 72.25%,#d8d8d8 72.56%,#c7c7c7 72.72%,#b1b1b1 72.79%,#424242 72.91%,#2e2e2e 73.03%,#1e1e1e 73.26%,#090909 74.15%,#020202 75.54%,#0b0b0b 76.97%,#161616 77.48%,#242424 77.83%,#454545 78.1%,#b2b2b2 78.21%,#d0d0d0 78.37%,#e9e9e9 78.87%,#f6f6f6 79.76%,#f7f7f7 81.62%,#eee 82.43%,#dfdfdf 82.97%,#d0d0d0 83.24%,#bdbdbd 83.4%,#4e4e4e 83.55%,#2f2f2f 83.75%,#212121 84.02%,#161616 84.44%,#0b0b0b 85.72%,#121212 87.38%,#1c1c1c 88%,#2b2b2b 88.43%,#4b4b4b 88.74%,#afafaf 88.89%,#c3c3c3 89.01%,#d9d9d9 89.36%,#e6e6e6 89.98%,#ededed 90.91%,#ededed 91.95%,#e4e4e4 92.88%,#d6d6d6 93.54%,#c7c7c7 93.85%,#b3b3b3 94.04%,#545454 94.23%,#383838 94.47%,#232323 95.12%,#181818 96.28%,#1f1f1f 97.99%,#292929 98.65%,#383838 99.07%,#545454 99.38%,#aeaeae 99.61%,#cacaca 100%)}
.b26{background:linear-gradient(#808080 0%,#808080 4.41%,#939393 6.97%,#949494 7.78%,#868686 8.71%,#5e5e5e 9.75%,#4e4e4e 10.49%,#444 11.49%,#444 12.62%,#4b4b4b 13.35%,#585858 13.85%,#a2a2a2 14.55%,#b9b9b9 15.09%,#cbcbcb 16.29%,#cfcfcf 17.8%,#c5c5c5 18.73%,#b4b4b4 19.27%,#a2a2a2 19.47%,#575757 19.78%,#3c3c3c 20.24%,#272727 21.4%,#232323 22.99%,#2d2d2d 24.03%,#434343 24.65%,#5b5b5b 24.85%,#afafaf 25.08%,#ccc 25.5%,#e1e1e1 26.63%,#e6e6e6 28.25%,#dbdbdb 29.37%,#c5c5c5 29.99%,#acacac 30.19%,#4b4b4b 30.38%,#2d2d2d 30.77%,#1f1f1f 31.23%,#151515 31.89%,#101010 33.51%,#1b1b1b 34.67%,#252525 35.06%,#333 35.33%,#4e4e4e 35.53%,#b5b5b5 35.68%,#cacaca 35.84%,#d8d8d8 36.07%,#e5e5e5 36.49%,#efefef 37.11%,#f4f4f4 38.74%,#e9e9e9 39.98%,#dedede 40.4%,#d0d0d0 40.67%,#b3b3b3 40.87%,#444 41.02%,#242424 41.37%,#161616 41.8%,#0d0d0d 42.38%,#070707 44%,#131313 45.32%,#1e1e1e 45.74%,#2d2d2d 46.01%,#4c4c4c 46.21%,#a2a2a2 46.28%,#c0c0c0 46.36%,#dfdfdf 46.71%,#ececec 47.14%,#f5f5f5 47.72%,#fbfbfb 49.3%,#efefef 50.66%,#e3e3e3 51.08%,#d4d4d4 51.35%,#b2b2b2 51.55%,#444 51.66%,#303030 51.78%,#202020 52.01%,#121212 52.44%,#080808 53.02%,#020202 54.61%,#0e0e0e 55.92%,#181818 56.35%,#272727 56.66%,#393939 56.81%,#505050 56.89%,#bebebe 57%,#d1d1d1 57.12%,#e1e1e1 57.35%,#eee 57.74%,#f8f8f8 58.32%,#fefefe 59.91%,#f3f3f3 61.26%,#e8e8e8 61.69%,#d8d8d8 62%,#bdbdbd 62.19%,#3d3d3d 62.35%,#1c1c1c 62.69%,#0f0f0f 63.12%,#060606 63.7%,#000 65.25%,#0c0c0c 66.6%,#181818 67.07%,#272727 67.34%,#454545 67.53%,#c4c4c4 67.69%,#e4e4e4 68.03%,#f1f1f1 68.46%,#fafafa 69.04%,#fff 70.63%,#f2f2f2 71.98%,#e7e7e7 72.41%,#d8d8d8 72.68%,#b7b7b7 72.87%,#434343 72.99%,#2e2e2e 73.1%,#1d1d1d 73.34%,#070707 74.23%,#000 75.62%,#0a0a0a 77.05%,#141414 77.55%,#222 77.9%,#404040 78.17%,#adadad 78.29%,#d0d0d0 78.44%,#e9e9e9 78.91%,#f8f8f8 79.84%,#f8f8f8 81.73%,#efefef 82.55%,#e0e0e0 83.09%,#d0d0d0 83.36%,#b9b9b9 83.51%,#525252 83.63%,#2f2f2f 83.82%,#202020 84.09%,#151515 84.48%,#090909 85.76%,#101010 87.46%,#1a1a1a 88.08%,#292929 88.51%,#3a3a3a 88.74%,#4f4f4f 88.85%,#ababab 88.97%,#c3c3c3 89.09%,#d9d9d9 89.43%,#e8e8e8 90.09%,#efefef 91.02%,#eee 92.07%,#e5e5e5 93%,#d7d7d7 93.65%,#cacaca 93.92%,#b8b8b8 94.12%,#a6a6a6 94.2%,#595959 94.31%,#383838 94.54%,#212121 95.2%,#171717 96.32%,#1d1d1d 98.07%,#272727 98.72%,#353535 99.15%,#4f4f4f 99.46%,#acacac 99.69%,#c8c8c8 100%)}
.b27{background:linear-gradient(#808080 0%,#808080 4.45%,#959595 7%,#969696 7.78%,#888 8.71%,#5e5e5e 9.75%,#4d4d4d 10.49%,#424242 11.53%,#424242 12.69%,#494949 13.43%,#575757 13.93%,#a2a2a2 14.59%,#bababa 15.13%,#cdcdcd 16.37%,#d0d0d0 17.88%,#c7c7c7 18.81%,#b4b4b4 19.35%,#a1a1a1 19.54%,#585858 19.81%,#3b3b3b 20.28%,#252525 21.44%,#212121 23.07%,#2b2b2b 24.07%,#3f3f3f 24.69%,#5c5c5c 24.92%,#adadad 25.12%,#bebebe 25.27%,#cdcdcd 25.54%,#e3e3e3 26.66%,#e8e8e8 28.33%,#ddd 29.45%,#c6c6c6 30.07%,#aaa 30.26%,#4f4f4f 30.42%,#3a3a3a 30.57%,#2a2a2a 30.84%,#141414 31.93%,#0e0e0e 33.55%,#1a1a1a 34.75%,#242424 35.14%,#323232 35.41%,#4f4f4f 35.6%,#b8b8b8 35.76%,#cdcdcd 35.91%,#dadada 36.15%,#e7e7e7 36.57%,#f0f0f0 37.19%,#f6f6f6 38.82%,#eaeaea 40.09%,#dfdfdf 40.48%,#d1d1d1 40.75%,#b2b2b2 40.94%,#414141 41.1%,#222 41.45%,#151515 41.87%,#0b0b0b 42.49%,#050505 44.08%,#111 45.39%,#1c1c1c 45.82%,#2c2c2c 46.09%,#4c4c4c 46.28%,#b9b9b9 46.4%,#d2d2d2 46.56%,#e1e1e1 46.79%,#eee 47.21%,#f7f7f7 47.79%,#fdfdfd 49.38%,#f0f0f0 50.74%,#e5e5e5 51.16%,#d5d5d5 51.43%,#b2b2b2 51.63%,#424242 51.74%,#2e2e2e 51.86%,#1e1e1e 52.09%,#101010 52.52%,#070707 53.1%,#010101 54.68%,#0d0d0d 56.08%,#191919 56.5%,#292929 56.77%,#4e4e4e 56.97%,#c0c0c0 57.08%,#d3d3d3 57.2%,#e3e3e3 57.43%,#f1f1f1 57.86%,#fbfbfb 58.51%,#fff 60.22%,#f2f2f2 61.46%,#e7e7e7 61.84%,#d7d7d7 62.11%,#c8c8c8 62.23%,#aeaeae 62.31%,#3c3c3c 62.42%,#1b1b1b 62.77%,#0c0c0c 63.24%,#030303 63.93%,#000 65.75%,#0e0e0e 66.87%,#191919 67.22%,#282828 67.45%,#383838 67.57%,#555 67.65%,#c5c5c5 67.76%,#e5e5e5 68.11%,#f3f3f3 68.58%,#fdfdfd 69.27%,#fff 71.09%,#f1f1f1 72.21%,#e5e5e5 72.56%,#d6d6d6 72.79%,#bbb 72.95%,#434343 73.07%,#2d2d2d 73.18%,#1c1c1c 73.41%,#0d0d0d 73.84%,#030303 74.5%,#000 76.24%,#0c0c0c 77.36%,#222 78.02%,#303030 78.17%,#484848 78.29%,#a9a9a9 78.37%,#d1d1d1 78.52%,#eaeaea 78.99%,#f9f9f9 79.91%,#fafafa 81.81%,#f0f0f0 82.62%,#e2e2e2 83.17%,#d2d2d2 83.44%,#bdbdbd 83.59%,#464646 83.75%,#2b2b2b 83.94%,#1d1d1d 84.21%,#131313 84.6%,#080808 85.84%,#0f0f0f 87.58%,#191919 88.2%,#292929 88.62%,#4a4a4a 88.93%,#a6a6a6 89.05%,#c3c3c3 89.16%,#dadada 89.51%,#eaeaea 90.17%,#f1f1f1 91.1%,#f0f0f0 92.14%,#e7e7e7 93.07%,#d9d9d9 93.73%,#cacaca 94.04%,#b5b5b5 94.23%,#505050 94.43%,#383838 94.62%,#212121 95.24%,#161616 96.36%,#1b1b1b 98.14%,#252525 98.8%,#353535 99.26%,#515151 99.57%,#aaa 99.77%,#c4c4c4 100%)}
.b28{background:linear-gradient(#808080 0%,#808080 4.45%,#979797 7.04%,#999 7.82%,#8a8a8a 8.75%,#5e5e5e 9.75%,#4c4c4c 10.49%,#414141 11.53%,#404040 12.73%,#484848 13.51%,#575757 14.01%,#626262 14.16%,#a2a2a2 14.63%,#bbb 15.17%,#cfcfcf 16.41%,#d2d2d2 17.96%,#c8c8c8 18.89%,#b5b5b5 19.43%,#9f9f9f 19.62%,#545454 19.89%,#383838 20.36%,#232323 21.56%,#1f1f1f 23.14%,#2a2a2a 24.19%,#3f3f3f 24.77%,#555 24.96%,#b1b1b1 25.19%,#cfcfcf 25.62%,#e5e5e5 26.78%,#e9e9e9 28.41%,#dedede 29.53%,#d3d3d3 29.91%,#c6c6c6 30.15%,#a7a7a7 30.34%,#4b4b4b 30.5%,#373737 30.65%,#2a2a2a 30.88%,#1c1c1c 31.35%,#131313 31.97%,#0d0d0d 33.63%,#181818 34.83%,#232323 35.22%,#323232 35.49%,#525252 35.68%,#a1a1a1 35.76%,#bcbcbc 35.84%,#dbdbdb 36.18%,#e8e8e8 36.61%,#f2f2f2 37.23%,#f8f8f8 38.89%,#ebebeb 40.17%,#e1e1e1 40.56%,#d1d1d1 40.83%,#afafaf 41.02%,#474747 41.14%,#2f2f2f 41.29%,#202020 41.52%,#131313 41.95%,#090909 42.57%,#040404 44.16%,#101010 45.47%,#1b1b1b 45.9%,#2b2b2b 46.17%,#4e4e4e 46.36%,#bdbdbd 46.48%,#d0d0d0 46.59%,#e1e1e1 46.83%,#efefef 47.25%,#f8f8f8 47.83%,#fefefe 49.46%,#f2f2f2 50.81%,#e6e6e6 51.24%,#d6d6d6 51.51%,#b1b1b1 51.7%,#3f3f3f 51.82%,#2c2c2c 51.93%,#1c1c1c 52.17%,#0e0e0e 52.63%,#040404 53.29%,#000 55.03%,#0e0e0e 56.23%,#191919 56.62%,#282828 56.85%,#4f4f4f 57.04%,#c3c3c3 57.16%,#e5e5e5 57.51%,#f3f3f3 57.97%,#fdfdfd 58.71%,#fff 60.57%,#f2f2f2 61.61%,#e7e7e7 61.96%,#d8d8d8 62.19%,#c9c9c9 62.31%,#afafaf 62.38%,#3a3a3a 62.5%,#191919 62.85%,#0a0a0a 63.35%,#000 64.13%,#000 66.06%,#101010 67.07%,#2b2b2b 67.57%,#535353 67.72%,#bbb 67.8%,#d3d3d3 67.92%,#e6e6e6 68.19%,#f5f5f5 68.69%,#fff 69.43%,#fff 71.36%,#efefef 72.41%,#e3e3e3 72.72%,#d4d4d4 72.91%,#a9a9a9 73.07%,#434343 73.14%,#2c2c2c 73.26%,#1a1a1a 73.49%,#0b0b0b 73.96%,#010101 74.69%,#000 76.59%,#101010 77.67%,#292929 78.21%,#454545 78.37%,#bbb 78.48%,#d2d2d2 78.6%,#e1e1e1 78.79%,#eee 79.14%,#f8f8f8 79.68%,#fff 81.15%,#f3f3f3 82.66%,#e7e7e7 83.17%,#d7d7d7 83.48%,#b4b4b4 83.71%,#474747 83.82%,#313131 83.94%,#212121 84.17%,#0d0d0d 84.98%,#060606 86.34%,#101010 87.85%,#1b1b1b 88.39%,#292929 88.74%,#464646 89.01%,#a2a2a2 89.13%,#c3c3c3 89.24%,#dcdcdc 89.59%,#ebebeb 90.25%,#f2f2f2 91.18%,#f1f1f1 92.26%,#e8e8e8 93.19%,#d9d9d9 93.85%,#ccc 94.12%,#b9b9b9 94.31%,#a4a4a4 94.39%,#525252 94.5%,#373737 94.7%,#212121 95.28%,#151515 96.36%,#191919 98.18%,#242424 98.88%,#333 99.34%,#434343 99.57%,#565656 99.69%,#a8a8a8 99.85%,#bfbfbf 100%)}
.b29{background:linear-gradient(#808080 0%,#808080 4.49%,#9a9a9a 7.08%,#9b9b9b 7.86%,#8c8c8c 8.75%,#5e5e5e 9.75%,#4b4b4b 10.49%,#3f3f3f 11.57%,#3f3f3f 12.81%,#464646 13.58%,#565656 14.09%,#636363 14.24%,#a2a2a2 14.67%,#bdbdbd 15.21%,#d0d0d0 16.45%,#d4d4d4 18%,#cacaca 18.92%,#b8b8b8 19.47%,#a4a4a4 19.66%,#555 19.93%,#373737 20.39%,#222 21.56%,#1e1e1e 23.18%,#282828 24.23%,#3f3f3f 24.85%,#585858 25.04%,#b0b0b0 25.23%,#c1c1c1 25.39%,#d0d0d0 25.66%,#ddd 26.16%,#e6e6e6 26.82%,#ebebeb 28.48%,#e0e0e0 29.57%,#c9c9c9 30.19%,#b0b0b0 30.38%,#464646 30.57%,#282828 30.96%,#1a1a1a 31.42%,#101010 32.08%,#0b0b0b 33.71%,#171717 34.91%,#222 35.29%,#323232 35.57%,#585858 35.76%,#b9b9b9 35.87%,#cfcfcf 36.03%,#ddd 36.26%,#ebebeb 36.73%,#f4f4f4 37.35%,#f9f9f9 38.97%,#ececec 40.25%,#e2e2e2 40.63%,#d2d2d2 40.91%,#c3c3c3 41.02%,#aaa 41.1%,#424242 41.22%,#202020 41.56%,#121212 41.99%,#080808 42.61%,#020202 44.23%,#0e0e0e 45.55%,#1a1a1a 45.98%,#2a2a2a 46.25%,#393939 46.36%,#535353 46.44%,#c1c1c1 46.56%,#e3e3e3 46.9%,#f0f0f0 47.33%,#fafafa 47.99%,#fff 49.69%,#f2f2f2 50.93%,#e7e7e7 51.32%,#d7d7d7 51.59%,#c8c8c8 51.7%,#adadad 51.78%,#3b3b3b 51.9%,#1a1a1a 52.24%,#0b0b0b 52.75%,#010101 53.48%,#000 55.34%,#0f0f0f 56.42%,#1c1c1c 56.77%,#2b2b2b 56.97%,#525252 57.12%,#bababa 57.2%,#d3d3d3 57.31%,#e6e6e6 57.59%,#f5f5f5 58.09%,#fff 58.82%,#fff 60.84%,#f0f0f0 61.8%,#d5d5d5 62.31%,#acacac 62.46%,#434343 62.54%,#2b2b2b 62.65%,#181818 62.93%,#090909 63.39%,#000 64.05%,#000 66.29%,#101010 67.18%,#2a2a2a 67.65%,#545454 67.8%,#bdbdbd 67.88%,#d5d5d5 68%,#e8e8e8 68.27%,#f5f5f5 68.69%,#fff 69.35%,#fff 71.63%,#efefef 72.52%,#d5d5d5 72.99%,#a9a9a9 73.14%,#414141 73.22%,#2a2a2a 73.34%,#191919 73.57%,#0a0a0a 74.03%,#000 74.69%,#000 76.82%,#101010 77.83%,#1d1d1d 78.13%,#2c2c2c 78.33%,#5b5b5b 78.48%,#bdbdbd 78.56%,#d3d3d3 78.68%,#e2e2e2 78.87%,#f0f0f0 79.26%,#fafafa 79.88%,#fff 81.58%,#f1f1f1 82.89%,#e5e5e5 83.32%,#d6d6d6 83.59%,#b7b7b7 83.78%,#464646 83.9%,#303030 84.02%,#222 84.21%,#0c0c0c 85.02%,#040404 86.42%,#0e0e0e 87.93%,#191919 88.47%,#272727 88.82%,#373737 89.01%,#4f4f4f 89.13%,#a0a0a0 89.2%,#c9c9c9 89.36%,#dedede 89.71%,#ededed 90.36%,#f3f3f3 91.29%,#f2f2f2 92.38%,#e9e9e9 93.3%,#d9d9d9 93.96%,#c8c8c8 94.27%,#b3b3b3 94.43%,#525252 94.58%,#363636 94.78%,#202020 95.32%,#141414 96.32%,#171717 98.14%,#212121 98.88%,#2f2f2f 99.38%,#3d3d3d 99.61%,#525252 99.77%,#a7a7a7 99.92%,#b7b7b7 100%)}
.b30{background:linear-gradient(#808080 0%,#808080 4.53%,#9c9c9c 7.12%,#9e9e9e 7.89%,#8e8e8e 8.78%,#5e5e5e 9.75%,#4b4b4b 10.45%,#3e3e3e 11.53%,#3d3d3d 12.85%,#454545 13.62%,#545454 14.13%,#5f5f5f 14.28%,#a2a2a2 14.71%,#bebebe 15.25%,#d2d2d2 16.49%,#d5d5d5 18.07%,#cbcbcb 19%,#b7b7b7 19.54%,#a1a1a1 19.74%,#555 19.97%,#434343 20.16%,#363636 20.43%,#212121 21.63%,#1c1c1c 23.26%,#272727 24.3%,#3c3c3c 24.88%,#5e5e5e 25.12%,#aeaeae 25.27%,#c1c1c1 25.43%,#d1d1d1 25.7%,#ddd 26.16%,#e7e7e7 26.86%,#ececec 28.52%,#e1e1e1 29.64%,#c9c9c9 30.26%,#aaa 30.46%,#484848 30.61%,#343434 30.77%,#272727 31%,#191919 31.46%,#101010 32.08%,#0a0a0a 33.75%,#151515 34.95%,#202020 35.33%,#2e2e2e 35.6%,#4d4d4d 35.8%,#bebebe 35.95%,#ddd 36.3%,#ebebeb 36.73%,#f4f4f4 37.35%,#fafafa 39.01%,#eee 40.29%,#e4e4e4 40.67%,#d5d5d5 40.94%,#b6b6b6 41.14%,#464646 41.25%,#313131 41.37%,#1e1e1e 41.64%,#101010 42.07%,#070707 42.69%,#010101 44.31%,#0d0d0d 45.59%,#181818 46.01%,#272727 46.28%,#464646 46.48%,#bcbcbc 46.59%,#d2d2d2 46.71%,#e5e5e5 46.98%,#f3f3f3 47.48%,#fdfdfd 48.18%,#fff 50.04%,#f0f0f0 51.12%,#d7d7d7 51.66%,#bbb 51.82%,#414141 51.93%,#2b2b2b 52.05%,#181818 52.32%,#0a0a0a 52.83%,#000 53.52%,#000 55.57%,#0f0f0f 56.54%,#1b1b1b 56.85%,#2b2b2b 57.04%,#424242 57.16%,#c0c0c0 57.28%,#d5d5d5 57.39%,#e8e8e8 57.66%,#f5f5f5 58.09%,#fff 58.75%,#fff 61.07%,#f0f0f0 61.92%,#d5d5d5 62.38%,#bebebe 62.5%,#3e3e3e 62.62%,#292929 62.73%,#161616 63%,#000 63.97%,#000 66.49%,#101010 67.3%,#292929 67.72%,#414141 67.84%,#c1c1c1 67.96%,#d7d7d7 68.07%,#e8e8e8 68.3%,#f6f6f6 68.73%,#fff 69.31%,#fff 71.83%,#efefef 72.64%,#d6d6d6 73.07%,#bebebe 73.18%,#3e3e3e 73.3%,#282828 73.41%,#171717 73.65%,#090909 74.07%,#000 74.65%,#000 77.01%,#101010 77.94%,#2b2b2b 78.41%,#434343 78.52%,#bfbfbf 78.64%,#d5d5d5 78.75%,#e3e3e3 78.95%,#f3f3f3 79.41%,#fdfdfd 80.07%,#fff 81.89%,#f0f0f0 83.09%,#e3e3e3 83.48%,#d3d3d3 83.71%,#b7b7b7 83.86%,#444 83.98%,#2f2f2f 84.09%,#202020 84.29%,#0b0b0b 85.1%,#030303 86.49%,#0d0d0d 88%,#181818 88.54%,#262626 88.89%,#363636 89.09%,#4e4e4e 89.2%,#a1a1a1 89.28%,#cacaca 89.43%,#e1e1e1 89.82%,#efefef 90.52%,#f5f5f5 91.45%,#f3f3f3 92.49%,#eaeaea 93.42%,#dbdbdb 94.04%,#cacaca 94.35%,#b5b5b5 94.5%,#525252 94.66%,#383838 94.81%,#212121 95.32%,#141414 96.21%,#151515 98.1%,#1e1e1e 98.88%,#2c2c2c 99.42%,#3c3c3c 99.69%,#505050 99.85%,#a7a7a7 100%)}
.b31{background:linear-gradient(#808080 0%,#808080 4.53%,#9f9f9f 7.2%,#a0a0a0 8.01%,#8f8f8f 8.82%,#5f5f5f 9.75%,#4a4a4a 10.45%,#3d3d3d 11.57%,#3c3c3c 12.93%,#444 13.7%,#545454 14.2%,#616161 14.36%,#a3a3a3 14.74%,#bfbfbf 15.29%,#d3d3d3 16.52%,#d6d6d6 18.11%,#cdcdcd 19.04%,#bababa 19.58%,#a5a5a5 19.78%,#565656 20.01%,#424242 20.2%,#353535 20.47%,#202020 21.63%,#1b1b1b 23.3%,#262626 24.38%,#3d3d3d 24.96%,#585858 25.15%,#b4b4b4 25.35%,#d1d1d1 25.74%,#dfdfdf 26.2%,#e8e8e8 26.9%,#ededed 28.6%,#e3e3e3 29.68%,#ccc 30.3%,#b1b1b1 30.5%,#4a4a4a 30.65%,#343434 30.8%,#262626 31.04%,#181818 31.5%,#0e0e0e 32.16%,#090909 33.82%,#151515 35.02%,#1f1f1f 35.41%,#2f2f2f 35.68%,#3e3e3e 35.8%,#575757 35.87%,#bcbcbc 35.99%,#dedede 36.34%,#ececec 36.76%,#f6f6f6 37.42%,#fcfcfc 39.09%,#efefef 40.36%,#e4e4e4 40.75%,#d4d4d4 41.02%,#aeaeae 41.22%,#3f3f3f 41.33%,#1d1d1d 41.68%,#0f0f0f 42.11%,#050505 42.76%,#000 44.5%,#0c0c0c 45.7%,#171717 46.09%,#272727 46.36%,#4d4d4d 46.56%,#c2c2c2 46.67%,#d9d9d9 46.83%,#e7e7e7 47.06%,#f5f5f5 47.56%,#fff 48.34%,#fff 50.27%,#f0f0f0 51.24%,#d6d6d6 51.74%,#b5b5b5 51.9%,#3b3b3b 52.01%,#282828 52.13%,#181818 52.36%,#0a0a0a 52.83%,#000 53.48%,#000 55.8%,#111 56.7%,#2c2c2c 57.12%,#484848 57.24%,#c5c5c5 57.35%,#d8d8d8 57.47%,#e8e8e8 57.7%,#f5f5f5 58.09%,#fff 58.67%,#fff 61.22%,#efefef 62.04%,#d5d5d5 62.46%,#b9b9b9 62.58%,#393939 62.69%,#262626 62.81%,#161616 63.04%,#000 63.93%,#000 66.64%,#101010 67.41%,#292929 67.8%,#454545 67.92%,#c6c6c6 68.03%,#d9d9d9 68.15%,#eaeaea 68.38%,#fff 69.27%,#fff 71.98%,#efefef 72.76%,#d6d6d6 73.14%,#bbb 73.26%,#393939 73.37%,#262626 73.49%,#151515 73.72%,#000 74.61%,#000 77.21%,#111 78.06%,#2b2b2b 78.48%,#454545 78.6%,#c3c3c3 78.72%,#e5e5e5 79.02%,#f5f5f5 79.49%,#fff 80.22%,#fff 82.12%,#f2f2f2 83.13%,#dbdbdb 83.71%,#cacaca 83.86%,#b6b6b6 83.94%,#525252 84.02%,#2d2d2d 84.17%,#131313 84.67%,#050505 85.6%,#020202 86.57%,#060606 87.54%,#101010 88.31%,#1f1f1f 88.85%,#2d2d2d 89.09%,#434343 89.24%,#a6a6a6 89.36%,#ccc 89.51%,#e4e4e4 89.98%,#f3f3f3 90.91%,#f6f6f6 91.87%,#f2f2f2 92.84%,#e8e8e8 93.65%,#d8d8d8 94.2%,#cbcbcb 94.43%,#b6b6b6 94.58%,#505050 94.74%,#3b3b3b 94.85%,#262626 95.2%,#181818 95.82%,#101010 97.56%,#161616 98.45%,#212121 99.15%,#2d2d2d 99.54%,#3e3e3e 99.81%,#4f4f4f 99.92%,#767676 100%)}
.b32{background:linear-gradient(#808080 0%,#818181 4.57%,#888 5.5%,#a0a0a0 7.12%,#a2a2a2 8.05%,#919191 8.86%,#5d5d5d 9.79%,#4a4a4a 10.45%,#3c3c3c 11.61%,#3a3a3a 12.96%,#424242 13.74%,#525252 14.24%,#5e5e5e 14.4%,#a4a4a4 14.78%,#c0c0c0 15.33%,#d4d4d4 16.56%,#d8d8d8 18.15%,#cdcdcd 19.12%,#b9b9b9 19.66%,#9e9e9e 19.85%,#565656 20.05%,#424242 20.24%,#343434 20.51%,#272727 21.01%,#1e1e1e 21.71%,#1a1a1a 23.37%,#252525 24.42%,#3b3b3b 25%,#545454 25.19%,#b3b3b3 25.39%,#d2d2d2 25.77%,#e0e0e0 26.24%,#eaeaea 26.93%,#efefef 28.64%,#e3e3e3 29.76%,#d8d8d8 30.15%,#cbcbcb 30.38%,#a8a8a8 30.57%,#4c4c4c 30.69%,#343434 30.84%,#252525 31.08%,#171717 31.54%,#0d0d0d 32.2%,#070707 33.86%,#131313 35.06%,#1e1e1e 35.45%,#2d2d2d 35.72%,#4f4f4f 35.91%,#b9b9b9 36.03%,#d1d1d1 36.18%,#e0e0e0 36.42%,#ededed 36.84%,#f7f7f7 37.46%,#fdfdfd 39.13%,#f1f1f1 40.4%,#e6e6e6 40.79%,#d7d7d7 41.06%,#b6b6b6 41.25%,#424242 41.37%,#2a2a2a 41.52%,#1b1b1b 41.76%,#0c0c0c 42.26%,#030303 42.96%,#000 44.81%,#0e0e0e 45.9%,#282828 46.44%,#454545 46.59%,#bfbfbf 46.71%,#d4d4d4 46.83%,#e7e7e7 47.1%,#f5f5f5 47.56%,#fff 48.26%,#fff 50.46%,#f0f0f0 51.35%,#d5d5d5 51.82%,#bebebe 51.93%,#3f3f3f 52.05%,#292929 52.17%,#161616 52.44%,#000 53.41%,#000 55.96%,#0f0f0f 56.73%,#282828 57.16%,#555 57.31%,#c0c0c0 57.39%,#d7d7d7 57.51%,#eaeaea 57.78%,#fff 58.67%,#fff 61.38%,#efefef 62.15%,#d4d4d4 62.54%,#aeaeae 62.65%,#3f3f3f 62.73%,#272727 62.85%,#141414 63.12%,#000 63.93%,#000 66.8%,#101010 67.49%,#2b2b2b 67.88%,#4e4e4e 68%,#c0c0c0 68.07%,#d8d8d8 68.19%,#ececec 68.46%,#fff 69.23%,#fff 72.14%,#efefef 72.83%,#d5d5d5 73.22%,#b4b4b4 73.34%,#414141 73.41%,#272727 73.53%,#161616 73.76%,#000 74.61%,#000 77.36%,#111 78.17%,#2c2c2c 78.56%,#4b4b4b 78.68%,#bbb 78.75%,#d5d5d5 78.87%,#e7e7e7 79.1%,#f5f5f5 79.53%,#fff 80.19%,#fff 82.31%,#f2f2f2 83.24%,#dbdbdb 83.78%,#c9c9c9 83.94%,#b1b1b1 84.02%,#4a4a4a 84.09%,#2f2f2f 84.21%,#151515 84.64%,#060606 85.49%,#010101 86.46%,#040404 87.46%,#0e0e0e 88.31%,#1d1d1d 88.89%,#2d2d2d 89.16%,#444 89.32%,#adadad 89.43%,#d1d1d1 89.63%,#e9e9e9 90.17%,#f6f6f6 91.22%,#f1f1f1 93.11%,#e6e6e6 93.85%,#d7d7d7 94.31%,#b5b5b5 94.66%,#5b5b5b 94.78%,#3e3e3e 94.89%,#292929 95.16%,#1a1a1a 95.67%,#0f0f0f 97.1%,#171717 98.68%,#2c2c2c 99.61%,#3a3a3a 99.85%,#505050 100%)}
.b33{background:linear-gradient(#808080 0%,#818181 4.57%,#898989 5.5%,#a0a0a0 6.97%,#a3a3a3 8.13%,#939393 8.86%,#5e5e5e 9.79%,#494949 10.45%,#3b3b3b 11.61%,#393939 13%,#414141 13.78%,#515151 14.28%,#626262 14.47%,#a4a4a4 14.82%,#c0c0c0 15.33%,#d5d5d5 16.6%,#d9d9d9 18.23%,#cfcfcf 19.16%,#bababa 19.7%,#a1a1a1 19.89%,#565656 20.09%,#444 20.24%,#343434 20.55%,#262626 21.05%,#1d1d1d 21.75%,#191919 23.41%,#242424 24.46%,#393939 25.04%,#515151 25.23%,#b3b3b3 25.43%,#d3d3d3 25.81%,#e1e1e1 26.28%,#ebebeb 26.97%,#f0f0f0 28.68%,#e5e5e5 29.8%,#dadada 30.19%,#ccc 30.42%,#acacac 30.61%,#434343 30.77%,#252525 31.11%,#161616 31.58%,#0c0c0c 32.24%,#060606 33.94%,#121212 35.1%,#1c1c1c 35.49%,#2b2b2b 35.76%,#4a4a4a 35.95%,#b8b8b8 36.07%,#cecece 36.18%,#e1e1e1 36.46%,#eee 36.88%,#f8f8f8 37.5%,#fefefe 39.16%,#f3f3f3 40.4%,#e7e7e7 40.83%,#d9d9d9 41.1%,#bbb 41.29%,#3a3a3a 41.45%,#262626 41.6%,#191919 41.83%,#0a0a0a 42.34%,#010101 43.11%,#000 45.01%,#0f0f0f 46.01%,#2a2a2a 46.52%,#525252 46.67%,#bcbcbc 46.75%,#d4d4d4 46.87%,#e8e8e8 47.14%,#f6f6f6 47.6%,#fff 48.22%,#fff 50.62%,#efefef 51.47%,#d3d3d3 51.9%,#b2b2b2 52.01%,#434343 52.09%,#2a2a2a 52.21%,#161616 52.48%,#000 53.41%,#000 56.08%,#101010 56.85%,#2a2a2a 57.24%,#484848 57.35%,#c9c9c9 57.47%,#ebebeb 57.82%,#fff 58.63%,#fff 61.53%,#efefef 62.23%,#d7d7d7 62.58%,#bbb 62.69%,#373737 62.81%,#242424 62.93%,#131313 63.16%,#000 63.89%,#000 66.91%,#111 67.61%,#2d2d2d 67.96%,#424242 68.03%,#c8c8c8 68.15%,#dbdbdb 68.27%,#ececec 68.5%,#fff 69.23%,#fff 72.25%,#eee 72.95%,#d3d3d3 73.3%,#bfbfbf 73.37%,#393939 73.49%,#242424 73.61%,#141414 73.84%,#000 74.57%,#000 77.52%,#111 78.25%,#2d2d2d 78.64%,#5b5b5b 78.75%,#c2c2c2 78.83%,#d8d8d8 78.95%,#e9e9e9 79.18%,#f6f6f6 79.57%,#fff 80.15%,#fff 82.51%,#f1f1f1 83.36%,#dbdbdb 83.86%,#bcbcbc 84.06%,#595959 84.13%,#313131 84.25%,#161616 84.64%,#060606 85.45%,#000 86.42%,#030303 87.46%,#0c0c0c 88.31%,#1b1b1b 88.93%,#2a2a2a 89.2%,#3d3d3d 89.36%,#5b5b5b 89.43%,#b4b4b4 89.51%,#d3d3d3 89.71%,#e1e1e1 89.94%,#ececec 90.33%,#f7f7f7 91.41%,#f2f2f2 93.23%,#e7e7e7 93.92%,#d8d8d8 94.39%,#c7c7c7 94.62%,#b2b2b2 94.74%,#545454 94.85%,#404040 94.93%,#292929 95.2%,#1b1b1b 95.67%,#0e0e0e 96.94%,#131313 98.49%,#242424 99.5%,#323232 99.81%,#434343 100%)}
.b34{background:linear-gradient(#808080 0%,#818181 4.57%,#898989 5.5%,#a0a0a0 6.89%,#a4a4a4 8.17%,#a0a0a0 8.55%,#969696 8.86%,#5c5c5c 9.83%,#484848 10.49%,#3a3a3a 11.65%,#383838 13.04%,#414141 13.85%,#525252 14.36%,#616161 14.51%,#a6a6a6 14.86%,#c1c1c1 15.36%,#d6d6d6 16.64%,#dadada 18.27%,#d0d0d0 19.2%,#bbb 19.74%,#a2a2a2 19.93%,#555 20.12%,#434343 20.28%,#333 20.59%,#252525 21.09%,#1c1c1c 21.79%,#181818 23.45%,#232323 24.54%,#3b3b3b 25.12%,#5c5c5c 25.31%,#b4b4b4 25.46%,#d4d4d4 25.85%,#e1e1e1 26.32%,#ececec 27.01%,#f1f1f1 28.75%,#e6e6e6 29.84%,#dbdbdb 30.22%,#cecece 30.46%,#afafaf 30.65%,#434343 30.8%,#242424 31.15%,#151515 31.62%,#0b0b0b 32.28%,#050505 33.98%,#121212 35.22%,#1e1e1e 35.6%,#2d2d2d 35.84%,#474747 35.99%,#c2c2c2 36.15%,#e2e2e2 36.49%,#efefef 36.92%,#f9f9f9 37.54%,#fff 39.2%,#f2f2f2 40.52%,#e7e7e7 40.91%,#d7d7d7 41.18%,#c8c8c8 41.29%,#acacac 41.37%,#3a3a3a 41.49%,#262626 41.64%,#181818 41.87%,#0a0a0a 42.38%,#000 43.11%,#000 45.16%,#0f0f0f 46.09%,#282828 46.56%,#4c4c4c 46.71%,#c6c6c6 46.83%,#e8e8e8 47.17%,#f6f6f6 47.6%,#fff 48.18%,#fff 50.74%,#f0f0f0 51.51%,#d5d5d5 51.93%,#b9b9b9 52.05%,#383838 52.17%,#252525 52.28%,#151515 52.52%,#000 53.37%,#000 56.23%,#101010 56.93%,#282828 57.28%,#424242 57.39%,#c7c7c7 57.51%,#dbdbdb 57.62%,#ebebeb 57.86%,#fff 58.63%,#fff 61.65%,#efefef 62.31%,#d4d4d4 62.65%,#a4a4a4 62.77%,#393939 62.85%,#242424 62.96%,#131313 63.2%,#000 63.89%,#000 67.03%,#101010 67.65%,#2a2a2a 68%,#525252 68.11%,#c4c4c4 68.19%,#dbdbdb 68.3%,#ececec 68.54%,#fff 69.23%,#fff 72.37%,#f0f0f0 72.99%,#d6d6d6 73.34%,#b2b2b2 73.45%,#3d3d3d 73.53%,#252525 73.65%,#131313 73.88%,#000 74.57%,#000 77.63%,#111 78.33%,#2a2a2a 78.68%,#4a4a4a 78.79%,#bdbdbd 78.87%,#d7d7d7 78.99%,#e9e9e9 79.22%,#f6f6f6 79.61%,#fff 80.15%,#fff 82.62%,#efefef 83.51%,#d6d6d6 83.98%,#b4b4b4 84.13%,#3c3c3c 84.25%,#1d1d1d 84.52%,#0f0f0f 84.91%,#050505 85.49%,#000 87.15%,#0d0d0d 88.51%,#181818 88.93%,#282828 89.24%,#393939 89.4%,#4e4e4e 89.47%,#bcbcbc 89.59%,#ddd 89.9%,#f2f2f2 90.71%,#f9f9f9 92.11%,#eee 93.65%,#e2e2e2 94.2%,#d3d3d3 94.54%,#c0c0c0 94.74%,#acacac 94.81%,#5e5e5e 94.89%,#434343 94.97%,#2c2c2c 95.2%,#1c1c1c 95.63%,#0e0e0e 96.79%,#101010 98.3%,#202020 99.42%,#2b2b2b 99.77%,#3b3b3b 100%)}
.b35{background:linear-gradient(#808080 0%,#818181 4.57%,#898989 5.5%,#a1a1a1 6.89%,#a5a5a5 8.17%,#999 8.86%,#818181 9.33%,#5d5d5d 9.83%,#484848 10.49%,#393939 11.69%,#373737 13.08%,#404040 13.89%,#525252 14.4%,#606060 14.55%,#a7a7a7 14.9%,#c2c2c2 15.4%,#d7d7d7 16.68%,#dbdbdb 18.3%,#d0d0d0 19.23%,#bcbcbc 19.78%,#a3a3a3 19.97%,#535353 20.16%,#424242 20.32%,#313131 20.63%,#242424 21.13%,#1b1b1b 21.83%,#171717 23.49%,#232323 24.57%,#3a3a3a 25.15%,#5c5c5c 25.35%,#b5b5b5 25.5%,#d5d5d5 25.89%,#e2e2e2 26.35%,#ededed 27.05%,#f1f1f1 28.79%,#e7e7e7 29.88%,#dcdcdc 30.26%,#cfcfcf 30.5%,#afafaf 30.69%,#424242 30.84%,#232323 31.19%,#141414 31.66%,#0a0a0a 32.31%,#050505 34.02%,#111 35.26%,#1d1d1d 35.64%,#2c2c2c 35.87%,#464646 36.03%,#c2c2c2 36.18%,#e2e2e2 36.53%,#f1f1f1 37%,#fbfbfb 37.69%,#fff 39.47%,#f2f2f2 40.6%,#e6e6e6 40.98%,#d8d8d8 41.22%,#c9c9c9 41.33%,#aeaeae 41.41%,#3a3a3a 41.52%,#252525 41.68%,#171717 41.91%,#090909 42.38%,#000 43.03%,#000 45.32%,#111 46.21%,#2b2b2b 46.63%,#494949 46.75%,#c6c6c6 46.87%,#d9d9d9 46.98%,#e9e9e9 47.21%,#fff 48.14%,#fff 50.85%,#f0f0f0 51.59%,#d7d7d7 51.97%,#bcbcbc 52.09%,#393939 52.21%,#252525 52.32%,#141414 52.55%,#000 53.33%,#000 56.31%,#111 57%,#2b2b2b 57.35%,#5b5b5b 57.47%,#c6c6c6 57.55%,#dbdbdb 57.66%,#ececec 57.89%,#fff 58.59%,#fff 61.73%,#f0f0f0 62.35%,#d6d6d6 62.69%,#aeaeae 62.81%,#3b3b3b 62.89%,#242424 63%,#111 63.27%,#000 63.89%,#000 67.14%,#101010 67.72%,#282828 68.03%,#4a4a4a 68.15%,#c2c2c2 68.23%,#dbdbdb 68.34%,#eee 68.61%,#fff 69.23%,#fff 72.48%,#eee 73.1%,#d2d2d2 73.41%,#bababa 73.49%,#404040 73.57%,#252525 73.68%,#111 73.96%,#000 74.57%,#000 77.71%,#111 78.41%,#2e2e2e 78.75%,#434343 78.83%,#c8c8c8 78.95%,#e9e9e9 79.26%,#fff 80.11%,#fff 82.78%,#eee 83.63%,#d4d4d4 84.06%,#bbb 84.17%,#3e3e3e 84.29%,#2a2a2a 84.4%,#1b1b1b 84.6%,#0d0d0d 85.02%,#030303 85.64%,#000 87.38%,#0e0e0e 88.62%,#1a1a1a 89.05%,#292929 89.32%,#484848 89.51%,#b8b8b8 89.63%,#cecece 89.74%,#ddd 89.94%,#f2f2f2 90.75%,#fafafa 92.14%,#efefef 93.69%,#e4e4e4 94.23%,#d5d5d5 94.58%,#b2b2b2 94.85%,#515151 94.97%,#3e3e3e 95.05%,#292929 95.28%,#1b1b1b 95.67%,#0e0e0e 96.79%,#0e0e0e 98.22%,#1d1d1d 99.38%,#353535 100%)}
.b36{background:linear-gradient(#808080 0%,#818181 4.57%,#898989 5.46%,#a2a2a2 6.89%,#a6a6a6 8.2%,#9a9a9a 8.9%,#5d5d5d 9.83%,#474747 10.49%,#383838 11.69%,#363636 13.12%,#3f3f3f 13.89%,#4f4f4f 14.4%,#616161 14.59%,#a9a9a9 14.94%,#c3c3c3 15.44%,#d8d8d8 16.72%,#dcdcdc 18.34%,#d1d1d1 19.27%,#bcbcbc 19.81%,#a2a2a2 20.01%,#515151 20.2%,#404040 20.36%,#323232 20.63%,#242424 21.13%,#1b1b1b 21.83%,#161616 23.53%,#222 24.61%,#3a3a3a 25.19%,#5e5e5e 25.39%,#b7b7b7 25.54%,#d6d6d6 25.93%,#e3e3e3 26.39%,#ededed 27.09%,#f2f2f2 28.83%,#e6e6e6 29.95%,#cfcfcf 30.53%,#aeaeae 30.73%,#4a4a4a 30.84%,#313131 31%,#222 31.23%,#131313 31.7%,#090909 32.35%,#040404 34.06%,#111 35.29%,#1d1d1d 35.68%,#2b2b2b 35.91%,#464646 36.07%,#b9b9b9 36.18%,#d0d0d0 36.3%,#e3e3e3 36.57%,#f2f2f2 37.07%,#fcfcfc 37.77%,#fff 39.63%,#f2f2f2 40.67%,#e7e7e7 41.02%,#d9d9d9 41.25%,#c9c9c9 41.37%,#aeaeae 41.45%,#393939 41.56%,#242424 41.72%,#161616 41.95%,#090909 42.38%,#000 43%,#000 45.43%,#101010 46.25%,#2b2b2b 46.67%,#494949 46.79%,#c7c7c7 46.9%,#eaeaea 47.25%,#fff 48.1%,#fff 50.97%,#efefef 51.66%,#d7d7d7 52.01%,#bdbdbd 52.13%,#383838 52.24%,#242424 52.36%,#141414 52.59%,#000 53.33%,#000 56.42%,#121212 57.08%,#2a2a2a 57.39%,#595959 57.51%,#c6c6c6 57.59%,#dbdbdb 57.7%,#ececec 57.93%,#fff 58.59%,#fff 61.84%,#efefef 62.42%,#d7d7d7 62.73%,#b1b1b1 62.85%,#3b3b3b 62.93%,#242424 63.04%,#101010 63.31%,#000 63.89%,#000 67.22%,#111 67.8%,#2d2d2d 68.11%,#464646 68.19%,#c1c1c1 68.27%,#dbdbdb 68.38%,#efefef 68.65%,#fff 69.23%,#fff 72.56%,#efefef 73.14%,#d4d4d4 73.45%,#bebebe 73.53%,#343434 73.65%,#212121 73.76%,#111 73.99%,#000 74.57%,#000 77.83%,#121212 78.48%,#2c2c2c 78.79%,#404040 78.87%,#c7c7c7 78.99%,#dbdbdb 79.1%,#e9e9e9 79.3%,#fff 80.11%,#fff 82.86%,#efefef 83.67%,#d5d5d5 84.09%,#bebebe 84.21%,#a6a6a6 84.25%,#404040 84.33%,#2a2a2a 84.44%,#1b1b1b 84.64%,#0c0c0c 85.06%,#020202 85.76%,#000 87.58%,#0f0f0f 88.78%,#1c1c1c 89.16%,#2b2b2b 89.4%,#3b3b3b 89.51%,#575757 89.59%,#b6b6b6 89.67%,#cecece 89.78%,#ddd 89.98%,#eaeaea 90.33%,#f4f4f4 90.83%,#fafafa 92.22%,#efefef 93.77%,#e3e3e3 94.31%,#d4d4d4 94.66%,#b6b6b6 94.89%,#545454 95.01%,#3f3f3f 95.09%,#2c2c2c 95.28%,#1c1c1c 95.67%,#0e0e0e 96.71%,#0d0d0d 98.14%,#191919 99.3%,#313131 100%)}
.b37{background:linear-gradient(#808080 0%,#818181 4.61%,#8a8a8a 5.5%,#a3a3a3 6.89%,#a7a7a7 8.24%,#9c9c9c 8.9%,#858585 9.33%,#5c5c5c 9.87%,#464646 10.53%,#373737 11.73%,#363636 13.16%,#3e3e3e 13.93%,#4f4f4f 14.43%,#626262 14.63%,#a6a6a6 14.94%,#c3c3c3 15.44%,#d9d9d9 16.72%,#dcdcdc 18.34%,#d2d2d2 19.31%,#bcbcbc 19.85%,#9f9f9f 20.05%,#4f4f4f 20.24%,#313131 20.67%,#232323 21.17%,#1a1a1a 21.87%,#151515 23.57%,#212121 24.61%,#373737 25.19%,#525252 25.39%,#b2b2b2 25.54%,#c7c7c7 25.7%,#d7d7d7 25.97%,#e4e4e4 26.43%,#eee 27.13%,#f3f3f3 28.87%,#e7e7e7 29.99%,#cfcfcf 30.57%,#ababab 30.77%,#474747 30.88%,#2f2f2f 31.04%,#212121 31.27%,#131313 31.73%,#080808 32.39%,#030303 34.06%,#0f0f0f 35.26%,#191919 35.64%,#282828 35.91%,#484848 36.11%,#bdbdbd 36.22%,#d5d5d5 36.38%,#e4e4e4 36.61%,#f3f3f3 37.11%,#fefefe 37.89%,#fff 39.78%,#f0f0f0 40.83%,#e4e4e4 41.14%,#d5d5d5 41.33%,#a9a9a9 41.49%,#414141 41.56%,#2a2a2a 41.68%,#171717 41.95%,#090909 42.38%,#000 42.96%,#000 45.51%,#111 46.32%,#2b2b2b 46.71%,#4b4b4b 46.83%,#bdbdbd 46.9%,#d7d7d7 47.02%,#ebebeb 47.29%,#fff 48.1%,#fff 51.04%,#efefef 51.7%,#d8d8d8 52.05%,#bbb 52.17%,#363636 52.28%,#232323 52.4%,#131313 52.63%,#000 53.33%,#000 56.46%,#0f0f0f 57.08%,#2a2a2a 57.43%,#3e3e3e 57.51%,#c8c8c8 57.62%,#dcdcdc 57.74%,#ededed 57.97%,#fff 58.59%,#fff 61.88%,#f0f0f0 62.46%,#d7d7d7 62.77%,#b0b0b0 62.89%,#393939 62.96%,#232323 63.08%,#0f0f0f 63.35%,#000 63.89%,#000 67.3%,#121212 67.88%,#2c2c2c 68.15%,#474747 68.23%,#c2c2c2 68.3%,#dcdcdc 68.42%,#f0f0f0 68.69%,#fff 69.23%,#fff 72.64%,#ededed 73.22%,#d5d5d5 73.49%,#bebebe 73.57%,#333 73.68%,#202020 73.8%,#101010 74.03%,#000 74.57%,#000 77.86%,#101010 78.48%,#2b2b2b 78.83%,#3f3f3f 78.91%,#c7c7c7 79.02%,#dcdcdc 79.14%,#ececec 79.37%,#fff 80.11%,#fff 82.97%,#eee 83.75%,#d6d6d6 84.13%,#a8a8a8 84.29%,#404040 84.37%,#292929 84.48%,#1a1a1a 84.67%,#0b0b0b 85.14%,#010101 85.84%,#000 87.69%,#0f0f0f 88.82%,#1b1b1b 89.2%,#2a2a2a 89.43%,#3a3a3a 89.55%,#555 89.63%,#b5b5b5 89.71%,#cecece 89.82%,#dedede 90.02%,#ebebeb 90.36%,#f4f4f4 90.87%,#fbfbfb 92.26%,#f0f0f0 93.81%,#e4e4e4 94.35%,#d4d4d4 94.7%,#b7b7b7 94.93%,#555 95.05%,#3f3f3f 95.12%,#2b2b2b 95.32%,#1b1b1b 95.7%,#0d0d0d 96.71%,#0c0c0c 98.1%,#181818 99.3%,#2e2e2e 100%)}
.b38{background:linear-gradient(#808080 0%,#818181 4.61%,#898989 5.46%,#a3a3a3 6.89%,#a8a8a8 8.24%,#9e9e9e 8.9%,#848484 9.37%,#5c5c5c 9.87%,#464646 10.53%,#363636 11.76%,#353535 13.2%,#3e3e3e 14.01%,#4f4f4f 14.47%,#5d5d5d 14.63%,#a9a9a9 14.98%,#c3c3c3 15.44%,#d9d9d9 16.72%,#ddd 18.38%,#d3d3d3 19.31%,#bfbfbf 19.85%,#a7a7a7 20.05%,#535353 20.24%,#404040 20.39%,#313131 20.67%,#232323 21.17%,#191919 21.87%,#151515 23.57%,#202020 24.65%,#373737 25.23%,#565656 25.43%,#b5b5b5 25.58%,#c9c9c9 25.74%,#d7d7d7 25.97%,#e4e4e4 26.43%,#efefef 27.13%,#f4f4f4 28.87%,#e8e8e8 29.99%,#ddd 30.38%,#cfcfcf 30.61%,#b6b6b6 30.77%,#434343 30.92%,#212121 31.27%,#121212 31.73%,#080808 32.39%,#020202 34.09%,#0e0e0e 35.29%,#191919 35.68%,#282828 35.95%,#4d4d4d 36.15%,#c1c1c1 36.26%,#d7d7d7 36.42%,#e5e5e5 36.65%,#f5f5f5 37.19%,#fff 37.96%,#fff 39.9%,#f0f0f0 40.87%,#e4e4e4 41.18%,#d4d4d4 41.37%,#bbb 41.49%,#3d3d3d 41.6%,#252525 41.76%,#161616 41.99%,#000 42.96%,#000 45.59%,#101010 46.36%,#2c2c2c 46.75%,#535353 46.87%,#c2c2c2 46.94%,#d8d8d8 47.06%,#ececec 47.33%,#fff 48.1%,#fff 51.08%,#f0f0f0 51.74%,#d7d7d7 52.09%,#b6b6b6 52.21%,#3f3f3f 52.28%,#262626 52.4%,#121212 52.67%,#000 53.33%,#000 56.54%,#111 57.16%,#2b2b2b 57.47%,#414141 57.55%,#cbcbcb 57.66%,#dedede 57.78%,#eee 58.01%,#fff 58.59%,#fff 61.96%,#f0f0f0 62.5%,#d7d7d7 62.81%,#a6a6a6 62.93%,#363636 63%,#212121 63.12%,#101010 63.35%,#000 63.89%,#000 67.34%,#0e0e0e 67.84%,#262626 68.15%,#4c4c4c 68.27%,#c6c6c6 68.34%,#ddd 68.46%,#f0f0f0 68.73%,#fff 69.23%,#fff 72.68%,#efefef 73.22%,#d4d4d4 73.53%,#bbb 73.61%,#3e3e3e 73.68%,#232323 73.8%,#0f0f0f 74.07%,#000 74.57%,#000 77.94%,#111 78.56%,#2b2b2b 78.87%,#414141 78.95%,#c9c9c9 79.06%,#ebebeb 79.37%,#fff 80.11%,#fff 83.05%,#efefef 83.78%,#d6d6d6 84.17%,#bebebe 84.29%,#3e3e3e 84.4%,#282828 84.52%,#191919 84.71%,#0a0a0a 85.18%,#000 85.87%,#000 87.81%,#0f0f0f 88.89%,#1b1b1b 89.24%,#2a2a2a 89.47%,#3a3a3a 89.59%,#575757 89.67%,#b7b7b7 89.74%,#cfcfcf 89.86%,#dfdfdf 90.05%,#ececec 90.4%,#f5f5f5 90.91%,#fcfcfc 92.3%,#f0f0f0 93.85%,#e4e4e4 94.39%,#d5d5d5 94.74%,#b7b7b7 94.97%,#545454 95.09%,#3e3e3e 95.16%,#2b2b2b 95.36%,#1b1b1b 95.74%,#0d0d0d 96.75%,#0b0b0b 98.1%,#161616 99.26%,#2b2b2b 100%)}
.b39{background:linear-gradient(#808080 0%,#818181 4.61%,#898989 5.46%,#a4a4a4 6.89%,#a9a9a9 8.28%,#a0a0a0 8.9%,#858585 9.37%,#5d5d5d 9.87%,#464646 10.53%,#363636 11.73%,#343434 13.2%,#3d3d3d 14.01%,#505050 14.51%,#5f5f5f 14.67%,#a7a7a7 14.98%,#c4c4c4 15.48%,#dadada 16.76%,#ddd 18.42%,#d3d3d3 19.35%,#bebebe 19.89%,#a2a2a2 20.09%,#4f4f4f 20.28%,#303030 20.7%,#222 21.21%,#191919 21.9%,#141414 23.61%,#202020 24.69%,#383838 25.27%,#5d5d5d 25.46%,#a2a2a2 25.54%,#b9b9b9 25.62%,#d8d8d8 26.01%,#e5e5e5 26.47%,#efefef 27.17%,#f4f4f4 28.91%,#e8e8e8 30.03%,#d1d1d1 30.61%,#b1b1b1 30.8%,#484848 30.92%,#2f2f2f 31.08%,#202020 31.31%,#121212 31.77%,#070707 32.43%,#020202 34.13%,#0f0f0f 35.37%,#1b1b1b 35.76%,#292929 35.99%,#434343 36.15%,#c5c5c5 36.3%,#d9d9d9 36.46%,#e7e7e7 36.69%,#f5f5f5 37.19%,#fff 37.96%,#fff 39.98%,#f0f0f0 40.91%,#d7d7d7 41.37%,#b3b3b3 41.52%,#383838 41.64%,#232323 41.8%,#151515 42.03%,#000 42.92%,#000 45.67%,#0f0f0f 46.36%,#282828 46.75%,#424242 46.87%,#c7c7c7 46.98%,#dbdbdb 47.1%,#ebebeb 47.33%,#fff 48.07%,#fff 51.16%,#efefef 51.78%,#d5d5d5 52.13%,#aaa 52.24%,#3a3a3a 52.32%,#242424 52.44%,#111 52.71%,#000 53.33%,#000 56.58%,#0f0f0f 57.16%,#272727 57.47%,#494949 57.59%,#c3c3c3 57.66%,#dbdbdb 57.78%,#efefef 58.05%,#fff 58.59%,#fff 62%,#f0f0f0 62.54%,#d5d5d5 62.85%,#bebebe 62.93%,#323232 63.04%,#1f1f1f 63.16%,#0f0f0f 63.39%,#000 63.89%,#000 67.38%,#101010 67.92%,#282828 68.19%,#5a5a5a 68.3%,#cacaca 68.38%,#dfdfdf 68.5%,#f0f0f0 68.73%,#fff 69.23%,#fff 72.76%,#ededed 73.3%,#d2d2d2 73.57%,#b3b3b3 73.65%,#393939 73.72%,#212121 73.84%,#101010 74.07%,#000 74.61%,#000 77.98%,#111 78.6%,#2d2d2d 78.91%,#464646 78.99%,#bfbfbf 79.06%,#dadada 79.18%,#ececec 79.41%,#fff 80.11%,#fff 83.09%,#efefef 83.82%,#d5d5d5 84.21%,#bababa 84.33%,#3a3a3a 84.44%,#191919 84.75%,#090909 85.22%,#000 85.87%,#000 87.89%,#0f0f0f 88.93%,#1b1b1b 89.28%,#2a2a2a 89.51%,#464646 89.67%,#bbb 89.78%,#ddd 90.05%,#ebebeb 90.4%,#f5f5f5 90.91%,#fcfcfc 92.34%,#f0f0f0 93.92%,#e5e5e5 94.43%,#d5d5d5 94.78%,#b5b5b5 95.01%,#444 95.16%,#2c2c2c 95.36%,#1b1b1b 95.74%,#0d0d0d 96.71%,#0b0b0b 98.07%,#151515 99.26%,#292929 100%)}
.b40{background:linear-gradient(#808080 0%,#818181 4.61%,#898989 5.46%,#a4a4a4 6.89%,#a9a9a9 8.28%,#9f9f9f 8.94%,#878787 9.37%,#5d5d5d 9.87%,#464646 10.53%,#353535 11.76%,#343434 13.24%,#3d3d3d 14.05%,#4e4e4e 14.51%,#5c5c5c 14.67%,#a5a5a5 14.98%,#b6b6b6 15.17%,#c4c4c4 15.48%,#dadada 16.76%,#dedede 18.42%,#d4d4d4 19.35%,#bfbfbf 19.89%,#a7a7a7 20.09%,#515151 20.28%,#3f3f3f 20.43%,#303030 20.7%,#222 21.21%,#181818 21.9%,#141414 23.61%,#1f1f1f 24.69%,#363636 25.27%,#555 25.46%,#b6b6b6 25.62%,#cacaca 25.77%,#d7d7d7 26.01%,#e5e5e5 26.47%,#efefef 27.17%,#f5f5f5 28.91%,#e9e9e9 30.03%,#dedede 30.42%,#d0d0d0 30.65%,#c1c1c1 30.77%,#a6a6a6 30.84%,#424242 30.96%,#212121 31.31%,#121212 31.77%,#070707 32.43%,#020202 34.13%,#0d0d0d 35.33%,#181818 35.72%,#272727 35.99%,#4b4b4b 36.18%,#c1c1c1 36.3%,#d8d8d8 36.46%,#e6e6e6 36.69%,#f5f5f5 37.19%,#fff 37.93%,#fff 40.05%,#f0f0f0 40.94%,#d5d5d5 41.41%,#bdbdbd 41.52%,#3d3d3d 41.64%,#282828 41.76%,#151515 42.03%,#000 42.92%,#000 45.7%,#111 46.44%,#2a2a2a 46.79%,#4e4e4e 46.9%,#c1c1c1 46.98%,#d9d9d9 47.1%,#ececec 47.37%,#fff 48.07%,#fff 51.2%,#ededed 51.86%,#d2d2d2 52.17%,#bbb 52.24%,#414141 52.32%,#262626 52.44%,#111 52.71%,#000 53.33%,#000 56.66%,#101010 57.2%,#292929 57.51%,#3d3d3d 57.59%,#cacaca 57.7%,#dedede 57.82%,#efefef 58.05%,#fff 58.59%,#fff 62.04%,#f1f1f1 62.54%,#d9d9d9 62.85%,#b2b2b2 62.96%,#383838 63.04%,#212121 63.16%,#0e0e0e 63.43%,#000 63.89%,#000 67.41%,#111 67.96%,#2a2a2a 68.23%,#434343 68.3%,#c3c3c3 68.38%,#ddd 68.5%,#f1f1f1 68.77%,#fff 69.23%,#fff 72.79%,#efefef 73.3%,#d7d7d7 73.57%,#c2c2c2 73.65%,#333 73.76%,#1f1f1f 73.88%,#0f0f0f 74.11%,#000 74.61%,#000 78.06%,#101010 78.6%,#292929 78.91%,#535353 79.02%,#c6c6c6 79.1%,#dcdcdc 79.22%,#ededed 79.45%,#fff 80.11%,#fff 83.13%,#eee 83.86%,#d3d3d3 84.25%,#b2b2b2 84.37%,#424242 84.44%,#292929 84.56%,#191919 84.75%,#0a0a0a 85.18%,#000 85.87%,#000 87.96%,#101010 89.01%,#1b1b1b 89.32%,#2c2c2c 89.55%,#4c4c4c 89.71%,#c0c0c0 89.82%,#dedede 90.09%,#ececec 90.44%,#f5f5f5 90.91%,#fcfcfc 92.34%,#f1f1f1 93.89%,#e6e6e6 94.43%,#d7d7d7 94.78%,#c9c9c9 94.93%,#b1b1b1 95.05%,#5d5d5d 95.12%,#404040 95.2%,#2b2b2b 95.39%,#1b1b1b 95.78%,#0c0c0c 96.75%,#0a0a0a 98.07%,#141414 99.23%,#282828 100%)}
.b41{background:linear-gradient(#808080 0%,#818181 4.61%,#8a8a8a 5.46%,#a4a4a4 6.89%,#aaa 8.32%,#9f9f9f 8.98%,#5e5e5e 9.87%,#464646 10.53%,#353535 11.76%,#343434 13.24%,#3c3c3c 14.01%,#4d4d4d 14.51%,#616161 14.71%,#a9a9a9 15.02%,#c4c4c4 15.48%,#dadada 16.76%,#dedede 18.42%,#d4d4d4 19.39%,#bebebe 19.93%,#9f9f9f 20.12%,#4d4d4d 20.32%,#2f2f2f 20.74%,#212121 21.25%,#181818 21.94%,#141414 23.65%,#1f1f1f 24.69%,#353535 25.27%,#505050 25.46%,#b4b4b4 25.62%,#c9c9c9 25.77%,#d7d7d7 26.01%,#e5e5e5 26.47%,#f0f0f0 27.17%,#f5f5f5 28.95%,#e9e9e9 30.07%,#d1d1d1 30.65%,#aeaeae 30.84%,#454545 30.96%,#2e2e2e 31.11%,#1f1f1f 31.35%,#111 31.81%,#070707 32.43%,#010101 34.13%,#0d0d0d 35.33%,#171717 35.72%,#262626 35.99%,#454545 36.18%,#bdbdbd 36.3%,#d7d7d7 36.46%,#e8e8e8 36.73%,#f6f6f6 37.23%,#fff 37.93%,#fff 40.09%,#f1f1f1 40.94%,#d7d7d7 41.41%,#b0b0b0 41.56%,#424242 41.64%,#292929 41.76%,#161616 42.03%,#000 42.92%,#000 45.74%,#101010 46.44%,#282828 46.79%,#444 46.9%,#c9c9c9 47.02%,#dcdcdc 47.14%,#ececec 47.37%,#fff 48.07%,#fff 51.24%,#eee 51.86%,#d5d5d5 52.17%,#a5a5a5 52.28%,#383838 52.36%,#232323 52.48%,#121212 52.71%,#000 53.33%,#000 56.66%,#0f0f0f 57.2%,#262626 57.51%,#4a4a4a 57.62%,#c5c5c5 57.7%,#dcdcdc 57.82%,#f0f0f0 58.09%,#fff 58.59%,#fff 62.07%,#eee 62.62%,#d5d5d5 62.89%,#bebebe 62.96%,#3f3f3f 63.04%,#232323 63.16%,#0e0e0e 63.43%,#000 63.89%,#000 67.45%,#101010 67.96%,#272727 68.23%,#3b3b3b 68.3%,#cbcbcb 68.42%,#e0e0e0 68.54%,#f0f0f0 68.77%,#fff 69.23%,#fff 72.83%,#eee 73.34%,#d3d3d3 73.61%,#b4b4b4 73.68%,#383838 73.76%,#212121 73.88%,#0f0f0f 74.11%,#000 74.61%,#000 78.06%,#111 78.64%,#2c2c2c 78.95%,#454545 79.02%,#c0c0c0 79.1%,#dadada 79.22%,#ececec 79.45%,#fff 80.11%,#fff 83.17%,#efefef 83.86%,#d6d6d6 84.25%,#bcbcbc 84.37%,#3a3a3a 84.48%,#262626 84.6%,#181818 84.79%,#0a0a0a 85.22%,#000 85.84%,#000 88%,#0f0f0f 89.01%,#2a2a2a 89.55%,#444 89.71%,#bababa 89.82%,#d1d1d1 89.94%,#dedede 90.09%,#ececec 90.44%,#f5f5f5 90.94%,#fdfdfd 92.38%,#f1f1f1 93.92%,#e5e5e5 94.47%,#d6d6d6 94.81%,#b7b7b7 95.05%,#515151 95.16%,#3c3c3c 95.24%,#292929 95.43%,#1b1b1b 95.78%,#0d0d0d 96.71%,#0a0a0a 98.03%,#131313 99.23%,#272727 100%)}
.b42{background:linear-gradient(#808080 0%,#818181 4.61%,#8a8a8a 5.46%,#a5a5a5 6.89%,#aaa 8.32%,#9f9f9f 8.98%,#5e5e5e 9.87%,#464646 10.53%,#353535 11.76%,#333 13.24%,#3d3d3d 14.05%,#4f4f4f 14.55%,#5f5f5f 14.71%,#a8a8a8 15.02%,#c5c5c5 15.52%,#dbdbdb 16.8%,#dedede 18.46%,#d4d4d4 19.39%,#bfbfbf 19.93%,#a3a3a3 20.12%,#4e4e4e 20.32%,#2f2f2f 20.74%,#212121 21.25%,#181818 21.94%,#131313 23.65%,#1f1f1f 24.73%,#373737 25.31%,#5c5c5c 25.5%,#b2b2b2 25.62%,#c9c9c9 25.77%,#d9d9d9 26.04%,#e6e6e6 26.51%,#f0f0f0 27.21%,#f5f5f5 28.95%,#e9e9e9 30.07%,#d2d2d2 30.65%,#b2b2b2 30.84%,#484848 30.96%,#2e2e2e 31.11%,#1f1f1f 31.35%,#111 31.81%,#070707 32.47%,#010101 34.17%,#0e0e0e 35.41%,#1a1a1a 35.8%,#282828 36.03%,#424242 36.18%,#c5c5c5 36.34%,#dadada 36.49%,#e7e7e7 36.73%,#f5f5f5 37.19%,#fff 37.89%,#fff 40.13%,#efefef 41.02%,#d4d4d4 41.45%,#b6b6b6 41.56%,#383838 41.68%,#222 41.83%,#141414 42.07%,#000 42.92%,#000 45.74%,#111 46.48%,#2c2c2c 46.83%,#3f3f3f 46.9%,#c6c6c6 47.02%,#dfdfdf 47.17%,#ededed 47.41%,#fff 48.07%,#fff 51.24%,#efefef 51.86%,#d7d7d7 52.17%,#b2b2b2 52.28%,#3b3b3b 52.36%,#242424 52.48%,#101010 52.75%,#000 53.33%,#000 56.7%,#121212 57.28%,#2b2b2b 57.55%,#434343 57.62%,#c0c0c0 57.7%,#dbdbdb 57.82%,#f0f0f0 58.09%,#fff 58.59%,#fff 62.11%,#efefef 62.62%,#d7d7d7 62.89%,#c3c3c3 62.96%,#343434 63.08%,#1f1f1f 63.2%,#0f0f0f 63.43%,#000 63.89%,#000 67.49%,#111 68%,#2c2c2c 68.27%,#4c4c4c 68.34%,#c8c8c8 68.42%,#dfdfdf 68.54%,#f0f0f0 68.77%,#fff 69.23%,#fff 72.83%,#efefef 73.34%,#d5d5d5 73.61%,#bcbcbc 73.68%,#3c3c3c 73.76%,#222 73.88%,#0e0e0e 74.15%,#000 74.61%,#000 78.1%,#101010 78.64%,#2a2a2a 78.95%,#3e3e3e 79.02%,#cacaca 79.14%,#dedede 79.26%,#eee 79.49%,#fff 80.11%,#fff 83.2%,#ededed 83.94%,#d2d2d2 84.29%,#aaa 84.4%,#3e3e3e 84.48%,#282828 84.6%,#181818 84.79%,#0a0a0a 85.22%,#000 85.84%,#000 88.04%,#101010 89.05%,#1d1d1d 89.4%,#2c2c2c 89.59%,#515151 89.74%,#b6b6b6 89.82%,#d0d0d0 89.94%,#dfdfdf 90.13%,#ededed 90.48%,#f6f6f6 90.98%,#fdfdfd 92.38%,#f2f2f2 93.92%,#e6e6e6 94.47%,#d7d7d7 94.81%,#c3c3c3 95.01%,#aeaeae 95.09%,#575757 95.16%,#3e3e3e 95.24%,#2a2a2a 95.43%,#1b1b1b 95.78%,#0c0c0c 96.71%,#090909 97.99%,#121212 99.19%,#262626 100%)}
.b43{background:linear-gradient(#808080 0%,#818181 4.61%,#8a8a8a 5.46%,#a5a5a5 6.89%,#aaa 8.32%,#a0a0a0 8.98%,#5e5e5e 9.87%,#464646 10.53%,#353535 11.76%,#333 13.24%,#3c3c3c 14.05%,#4f4f4f 14.55%,#5e5e5e 14.71%,#a8a8a8 15.02%,#c5c5c5 15.52%,#dbdbdb 16.8%,#dedede 18.46%,#d4d4d4 19.39%,#bfbfbf 19.93%,#a4a4a4 20.12%,#4e4e4e 20.32%,#3d3d3d 20.47%,#2f2f2f 20.74%,#212121 21.25%,#181818 21.94%,#131313 23.65%,#1f1f1f 24.73%,#373737 25.31%,#5a5a5a 25.5%,#a1a1a1 25.58%,#bababa 25.66%,#d9d9d9 26.04%,#e6e6e6 26.51%,#f0f0f0 27.21%,#f5f5f5 28.95%,#e9e9e9 30.11%,#dedede 30.46%,#cfcfcf 30.69%,#b4b4b4 30.84%,#494949 30.96%,#333 31.08%,#1f1f1f 31.35%,#111 31.81%,#070707 32.47%,#010101 34.17%,#0e0e0e 35.41%,#191919 35.8%,#282828 36.03%,#373737 36.15%,#525252 36.22%,#c4c4c4 36.34%,#d9d9d9 36.49%,#e7e7e7 36.73%,#f5f5f5 37.19%,#fff 37.89%,#fff 40.13%,#efefef 41.02%,#d4d4d4 41.45%,#b9b9b9 41.56%,#3a3a3a 41.68%,#222 41.83%,#141414 42.07%,#000 42.92%,#000 45.78%,#111 46.48%,#2b2b2b 46.83%,#585858 46.94%,#c5c5c5 47.02%,#dadada 47.14%,#ededed 47.41%,#fff 48.07%,#fff 51.28%,#efefef 51.86%,#d8d8d8 52.17%,#b6b6b6 52.28%,#3d3d3d 52.36%,#242424 52.48%,#101010 52.75%,#000 53.33%,#000 56.7%,#0f0f0f 57.24%,#2a2a2a 57.55%,#404040 57.62%,#ccc 57.74%,#dfdfdf 57.86%,#f0f0f0 58.09%,#fff 58.59%,#fff 62.11%,#efefef 62.62%,#d8d8d8 62.89%,#aaa 63%,#353535 63.08%,#202020 63.2%,#0f0f0f 63.43%,#000 63.89%,#000 67.49%,#101010 68%,#2b2b2b 68.27%,#474747 68.34%,#c6c6c6 68.42%,#dedede 68.54%,#f2f2f2 68.81%,#fff 69.23%,#fff 72.83%,#efefef 73.34%,#d7d7d7 73.61%,#c0c0c0 73.68%,#3f3f3f 73.76%,#232323 73.88%,#0e0e0e 74.15%,#000 74.61%,#000 78.1%,#101010 78.64%,#292929 78.95%,#595959 79.06%,#c8c8c8 79.14%,#ddd 79.26%,#eee 79.49%,#fff 80.11%,#fff 83.2%,#efefef 83.9%,#d3d3d3 84.29%,#b0b0b0 84.4%,#404040 84.48%,#282828 84.6%,#191919 84.79%,#0a0a0a 85.22%,#000 85.84%,#000 88.04%,#101010 89.05%,#1b1b1b 89.36%,#2b2b2b 89.59%,#4d4d4d 89.74%,#c1c1c1 89.86%,#dfdfdf 90.13%,#ececec 90.48%,#f5f5f5 90.94%,#fdfdfd 92.38%,#f2f2f2 93.92%,#e6e6e6 94.47%,#d7d7d7 94.81%,#c4c4c4 95.01%,#b0b0b0 95.09%,#5b5b5b 95.16%,#3f3f3f 95.24%,#2a2a2a 95.43%,#1b1b1b 95.78%,#0c0c0c 96.71%,#090909 97.99%,#121212 99.19%,#262626 100%)}
</style></head><body><div id="f">
<svg width="0" height="0" style="position:absolute"><defs><filter id="cm" x="0" y="0" width="100%" height="100%" color-interpolation-filters="sRGB"><feGaussianBlur stdDeviation="2.5 0"/><feComponentTransfer><feFuncR type="table" tableValues="0.4039 0.698 0.8392 0.9569 0.9922 0.9686 0.8196 0.5725 0.2627 0.1294 0.0196"/><feFuncG type="table" tableValues="0 0.0941 0.3765 0.6471 0.8588 0.9686 0.898 0.7725 0.5765 0.4 0.1882"/><feFuncB type="table" tableValues="0.1216 0.1686 0.302 0.5098 0.7804 0.9686 0.9412 0.8706 0.7647 0.6745 0.3804"/></feComponentTransfer></filter></defs></svg>
<div class="im" style="left:208.5px"><div class="fl"><i class="a0" style="left:0px"></i><i class="a1" style="left:6px"></i><i class="a2" style="left:12px"></i><i class="a3" style="left:18px"></i><i class="a4" style="left:24px"></i><i class="a5" style="left:30px"></i><i class="a6" style="left:36px"></i><i class="a7" style="left:42px"></i><i class="a8" style="left:48px"></i><i class="a9" style="left:54px"></i><i class="a10" style="left:60px"></i><i class="a11" style="left:66px"></i><i class="a12" style="left:72px"></i><i class="a13" style="left:78px"></i><i class="a14" style="left:84px"></i><i class="a15" style="left:90px"></i><i class="a16" style="left:96px"></i><i class="a17" style="left:102px"></i><i class="a18" style="left:108px"></i><i class="a19" style="left:114px"></i><i class="a20" style="left:120px"></i><i class="a21" style="left:126px"></i><i class="a22" style="left:132px"></i><i class="a23" style="left:138px"></i><i class="a24" style="left:144px"></i><i class="a25" style="left:150px"></i><i class="a26" style="left:156px"></i><i class="a27" style="left:162px"></i><i class="a28" style="left:168px"></i><i class="a29" style="left:174px"></i><i class="a30" style="left:180px"></i><i class="a31" style="left:186px"></i><i class="a32" style="left:192px"></i><i class="a33" style="left:198px"></i><i class="a34" style="left:204px"></i><i class="a35" style="left:210px"></i><i class="a36" style="left:216px"></i><i class="a37" style="left:222px"></i><i class="a38" style="left:228px"></i><i class="a39" style="left:234px"></i><i class="a40" style="left:240px"></i><i class="a41" style="left:246px"></i><i class="a42" style="left:252px"></i><i class="a43" style="left:258px"></i><i class="a44" style="left:264px"></i><i class="a45" style="left:270px"></i><i class="a46" style="left:276px"></i><i class="a47" style="left:282px"></i><i class="a48" style="left:288px"></i><i class="a49" style="left:294px"></i><i class="a50" style="left:300px"></i><i class="a51" style="left:306px"></i><i class="a52" style="left:312px"></i><i class="a53" style="left:318px"></i><i class="a54" style="left:324px"></i><i class="a55" style="left:330px"></i><i class="a56" style="left:336px"></i><i class="a57" style="left:342px"></i><i class="a58" style="left:348px"></i><i class="a59" style="left:354px"></i><i class="a60" style="left:360px"></i><i class="a61" style="left:366px"></i><i class="a62" style="left:372px"></i><i class="a63" style="left:378px"></i><i class="a64" style="left:384px"></i><i class="a65" style="left:390px"></i><i class="a66" style="left:396px"></i><i class="a67" style="left:402px"></i><i class="a68" style="left:408px"></i><i class="a69" style="left:414px"></i><i class="a70" style="left:420px"></i><i class="a71" style="left:426px"></i><i class="a72" style="left:432px"></i><i class="a73" style="left:438px"></i><i class="a74" style="left:444px"></i><i class="a75" style="left:450px"></i><i class="a76" style="left:456px"></i><i class="a77" style="left:462px"></i><i class="a78" style="left:468px"></i><i class="a79" style="left:474px"></i><i class="a80" style="left:480px"></i><i class="a81" style="left:486px"></i><i class="a82" style="left:492px"></i><i class="a83" style="left:498px"></i><i class="a84" style="left:504px"></i><i class="a85" style="left:510px"></i><i class="a86" style="left:516px"></i><i class="a87" style="left:522px"></i></div></div>
<div class="cb" style="left:739.6px"></div>
<div class="im" style="left:1190.5px"><div class="fl"><i class="b0" style="left:0px"></i><i class="b1" style="left:6px"></i><i class="b2" style="left:12px"></i><i class="b3" style="left:18px"></i><i class="b4" style="left:24px"></i><i class="b5" style="left:30px"></i><i class="b6" style="left:36px"></i><i class="b7" style="left:42px"></i><i class="b8" style="left:48px"></i><i class="b9" style="left:54px"></i><i class="b10" style="left:60px"></i><i class="b11" style="left:66px"></i><i class="b12" style="left:72px"></i><i class="b13" style="left:78px"></i><i class="b14" style="left:84px"></i><i class="b15" style="left:90px"></i><i class="b16" style="left:96px"></i><i class="b17" style="left:102px"></i><i class="b18" style="left:108px"></i><i class="b19" style="left:114px"></i><i class="b20" style="left:120px"></i><i class="b21" style="left:126px"></i><i class="b22" style="left:132px"></i><i class="b23" style="left:138px"></i><i class="b24" style="left:144px"></i><i class="b25" style="left:150px"></i><i class="b26" style="left:156px"></i><i class="b27" style="left:162px"></i><i class="b28" style="left:168px"></i><i class="b29" style="left:174px"></i><i class="b30" style="left:180px"></i><i class="b31" style="left:186px"></i><i class="b32" style="left:192px"></i><i class="b33" style="left:198px"></i><i class="b34" style="left:204px"></i><i class="b35" style="left:210px"></i><i class="b36" style="left:216px"></i><i class="b37" style="left:222px"></i><i class="b38" style="left:228px"></i><i class="b39" style="left:234px"></i><i class="b40" style="left:240px"></i><i class="b41" style="left:246px"></i><i class="b42" style="left:252px"></i><i class="b43" style="left:258px"></i><i class="b43" style="left:264px"></i><i class="b42" style="left:270px"></i><i class="b41" style="left:276px"></i><i class="b40" style="left:282px"></i><i class="b39" style="left:288px"></i><i class="b38" style="left:294px"></i><i class="b37" style="left:300px"></i><i class="b36" style="left:306px"></i><i class="b35" style="left:312px"></i><i class="b34" style="left:318px"></i><i class="b33" style="left:324px"></i><i class="b32" style="left:330px"></i><i class="b31" style="left:336px"></i><i class="b30" style="left:342px"></i><i class="b29" style="left:348px"></i><i class="b28" style="left:354px"></i><i class="b27" style="left:360px"></i><i class="b26" style="left:366px"></i><i class="b25" style="left:372px"></i><i class="b24" style="left:378px"></i><i class="b23" style="left:384px"></i><i class="b22" style="left:390px"></i><i class="b21" style="left:396px"></i><i class="b20" style="left:402px"></i><i class="b19" style="left:408px"></i><i class="b18" style="left:414px"></i><i class="b17" style="left:420px"></i><i class="b16" style="left:426px"></i><i class="b15" style="left:432px"></i><i class="b14" style="left:438px"></i><i class="b13" style="left:444px"></i><i class="b12" style="left:450px"></i><i class="b11" style="left:456px"></i><i class="b10" style="left:462px"></i><i class="b9" style="left:468px"></i><i class="b8" style="left:474px"></i><i class="b7" style="left:480px"></i><i class="b6" style="left:486px"></i><i class="b5" style="left:492px"></i><i class="b4" style="left:498px"></i><i class="b3" style="left:504px"></i><i class="b2" style="left:510px"></i><i class="b1" style="left:516px"></i><i class="b0" style="left:522px"></i></div></div>
<div class="cb" style="left:1721.6px"></div>
<div class="im" style="left:2172.5px"></div>
<div class="cb" style="left:2703.6px"></div>
<svg width="3000" height="1050" viewBox="0 0 3000 1050" style="position:absolute;left:0;top:0">
<g font-family="'Liberation Serif', serif" font-size="50" fill="#000">
<g font-size="60"><text x="1154.2" y="66" word-spacing="2">Simulation time</text><text x="1552.1" y="66" font-style="italic">t</text><text transform="translate(1585.9 67.6) scale(1.41 .85)">=</text><text x="1645.8" y="66" word-spacing="1.5">24.01 fs</text></g>
<g><rect x="208.5" y="174.35" width="516" height="645" fill="none" stroke="#000" stroke-width="3.33"/><rect x="739.6" y="174.35" width="25.8" height="645" fill="none" stroke="#000" stroke-width="3.33"/><path d="M208.5 819.35h-14.6M208.5 733.35h-14.6M208.5 647.35h-14.6M208.5 561.35h-14.6M208.5 475.35h-14.6M208.5 389.35h-14.6M208.5 303.35h-14.6M208.5 217.35h-14.6M208.5 819.35v14.6M294.5 819.35v14.6M380.5 819.35v14.6M466.5 819.35v14.6M552.5 819.35v14.6M638.5 819.35v14.6M724.5 819.35v14.6M765.4 414.39h15.2M765.4 378.26h15.2M765.4 357.13h15.2M765.4 342.13h15.2M765.4 330.5h15.2M765.4 321h15.2M765.4 312.96h15.2M765.4 306h15.2M765.4 299.86h15.2M765.4 294.37h15.2M765.4 258.24h15.2M765.4 237.11h15.2M765.4 222.11h15.2M765.4 210.48h15.2M765.4 200.98h15.2M765.4 192.94h15.2M765.4 185.98h15.2M765.4 179.84h15.2M765.4 174.35h15.2M765.4 579.31h15.2M765.4 615.44h15.2M765.4 636.57h15.2M765.4 651.57h15.2M765.4 663.2h15.2M765.4 672.7h15.2M765.4 680.74h15.2M765.4 687.7h15.2M765.4 693.84h15.2M765.4 699.33h15.2M765.4 735.46h15.2M765.4 756.59h15.2M765.4 771.59h15.2M765.4 783.22h15.2M765.4 792.72h15.2M765.4 800.76h15.2M765.4 807.72h15.2M765.4 813.86h15.2M765.4 819.35h15.2M765.4 496.85h15.2" stroke="#000" stroke-width="3.33" fill="none"/><path d="M208.5 776.35h-8.3M208.5 690.35h-8.3M208.5 604.35h-8.3M208.5 518.35h-8.3M208.5 432.35h-8.3M208.5 346.35h-8.3M208.5 260.35h-8.3M208.5 174.35h-8.3M251.5 819.35v8.3M337.5 819.35v8.3M423.5 819.35v8.3M509.5 819.35v8.3M595.5 819.35v8.3M681.5 819.35v8.3" stroke="#000" stroke-width="2.5" fill="none"/><text x="178.8" y="235.15" text-anchor="end">8</text><text x="178.8" y="321.15" text-anchor="end">6</text><text x="178.8" y="407.15" text-anchor="end">4</text><text x="178.8" y="493.15" text-anchor="end">2</text><text x="178.8" y="579.15" text-anchor="end">0</text><text transform="translate(112.7 673) scale(1.31 .9)">−</text><text x="150.5" y="669.55">2</text><text transform="translate(112.7 759) scale(1.31 .9)">−</text><text x="150.5" y="755.55">4</text><text transform="translate(112.7 845) scale(1.31 .9)">−</text><text x="150.5" y="841.55">6</text><text x="465.7" y="885.2" text-anchor="middle">0</text><text x="551.7" y="885.2" text-anchor="middle">2</text><text x="637.7" y="885.2" text-anchor="middle">4</text><text x="723.7" y="885.2" text-anchor="middle">6</text><text transform="translate(344.7 892.45) scale(1.31 .9)">−</text><text x="382.5" y="889">2</text><text transform="translate(258.7 892.45) scale(1.31 .9)">−</text><text x="296.5" y="889">4</text><text transform="translate(172.7 892.45) scale(1.31 .9)">−</text><text x="210.5" y="889">6</text><text x="466.1" y="950.3" text-anchor="middle">y [micron]</text><text transform="translate(89.6 495.4) rotate(-90)" text-anchor="middle">x [micron]</text><text x="790.6" y="191.95">10<tspan font-size="35" dy="-17.7">13</tspan></text><text transform="translate(791 844.3) scale(1.31 .9)">−</text><text x="830" y="840.85">10<tspan font-size="35" dy="-18.8">13</tspan></text><text x="790.6" y="311.97">10<tspan font-size="35" dy="-17.7">12</tspan></text><text transform="translate(791 724.28) scale(1.31 .9)">−</text><text x="830" y="720.83">10<tspan font-size="35" dy="-18.8">12</tspan></text><text x="790.6" y="431.99">10<tspan font-size="35" dy="-17.7">11</tspan></text><text transform="translate(791 604.26) scale(1.31 .9)">−</text><text x="830" y="600.81">10<tspan font-size="35" dy="-18.8">11</tspan></text><text x="793.2" y="514.45">0</text><text transform="translate(974 495.6) rotate(-90)" text-anchor="middle">Electric Field/Ex</text></g>
<g><rect x="1190.5" y="174.35" width="516" height="645" fill="none" stroke="#000" stroke-width="3.33"/><rect x="1721.6" y="174.35" width="25.8" height="645" fill="none" stroke="#000" stroke-width="3.33"/><path d="M1190.5 819.35h-14.6M1190.5 733.35h-14.6M1190.5 647.35h-14.6M1190.5 561.35h-14.6M1190.5 475.35h-14.6M1190.5 389.35h-14.6M1190.5 303.35h-14.6M1190.5 217.35h-14.6M1190.5 819.35v14.6M1276.5 819.35v14.6M1362.5 819.35v14.6M1448.5 819.35v14.6M1534.5 819.35v14.6M1620.5 819.35v14.6M1706.5 819.35v14.6M1747.4 414.39h15.2M1747.4 378.26h15.2M1747.4 357.13h15.2M1747.4 342.13h15.2M1747.4 330.5h15.2M1747.4 321h15.2M1747.4 312.96h15.2M1747.4 306h15.2M1747.4 299.86h15.2M1747.4 294.37h15.2M1747.4 258.24h15.2M1747.4 237.11h15.2M1747.4 222.11h15.2M1747.4 210.48h15.2M1747.4 200.98h15.2M1747.4 192.94h15.2M1747.4 185.98h15.2M1747.4 179.84h15.2M1747.4 174.35h15.2M1747.4 579.31h15.2M1747.4 615.44h15.2M1747.4 636.57h15.2M1747.4 651.57h15.2M1747.4 663.2h15.2M1747.4 672.7h15.2M1747.4 680.74h15.2M1747.4 687.7h15.2M1747.4 693.84h15.2M1747.4 699.33h15.2M1747.4 735.46h15.2M1747.4 756.59h15.2M1747.4 771.59h15.2M1747.4 783.22h15.2M1747.4 792.72h15.2M1747.4 800.76h15.2M1747.4 807.72h15.2M1747.4 813.86h15.2M1747.4 819.35h15.2M1747.4 496.85h15.2" stroke="#000" stroke-width="3.33" fill="none"/><path d="M1190.5 776.35h-8.3M1190.5 690.35h-8.3M1190.5 604.35h-8.3M1190.5 518.35h-8.3M1190.5 432.35h-8.3M1190.5 346.35h-8.3M1190.5 260.35h-8.3M1190.5 174.35h-8.3M1233.5 819.35v8.3M1319.5 819.35v8.3M1405.5 819.35v8.3M1491.5 819.35v8.3M1577.5 819.35v8.3M1663.5 819.35v8.3" stroke="#000" stroke-width="2.5" fill="none"/><text x="1160.8" y="235.15" text-anchor="end">8</text><text x="1160.8" y="321.15" text-anchor="end">6</text><text x="1160.8" y="407.15" text-anchor="end">4</text><text x="1160.8" y="493.15" text-anchor="end">2</text><text x="1160.8" y="579.15" text-anchor="end">0</text><text transform="translate(1094.7 673) scale(1.31 .9)">−</text><text x="1132.5" y="669.55">2</text><text transform="translate(1094.7 759) scale(1.31 .9)">−</text><text x="1132.5" y="755.55">4</text><text transform="translate(1094.7 845) scale(1.31 .9)">−</text><text x="1132.5" y="841.55">6</text><text x="1447.7" y="885.2" text-anchor="middle">0</text><text x="1533.7" y="885.2" text-anchor="middle">2</text><text x="1619.7" y="885.2" text-anchor="middle">4</text><text x="1705.7" y="885.2" text-anchor="middle">6</text><text transform="translate(1326.7 892.45) scale(1.31 .9)">−</text><text x="1364.5" y="889">2</text><text transform="translate(1240.7 892.45) scale(1.31 .9)">−</text><text x="1278.5" y="889">4</text><text transform="translate(1154.7 892.45) scale(1.31 .9)">−</text><text x="1192.5" y="889">6</text><text x="1448.1" y="950.3" text-anchor="middle">y [micron]</text><text transform="translate(1071.6 495.4) rotate(-90)" text-anchor="middle">x [micron]</text><text x="1772.6" y="191.95">10<tspan font-size="35" dy="-17.7">13</tspan></text><text transform="translate(1773 844.3) scale(1.31 .9)">−</text><text x="1812" y="840.85">10<tspan font-size="35" dy="-18.8">13</tspan></text><text x="1772.6" y="311.97">10<tspan font-size="35" dy="-17.7">12</tspan></text><text transform="translate(1773 724.28) scale(1.31 .9)">−</text><text x="1812" y="720.83">10<tspan font-size="35" dy="-18.8">12</tspan></text><text x="1772.6" y="431.99">10<tspan font-size="35" dy="-17.7">11</tspan></text><text transform="translate(1773 604.26) scale(1.31 .9)">−</text><text x="1812" y="600.81">10<tspan font-size="35" dy="-18.8">11</tspan></text><text x="1775.2" y="514.45">0</text><text transform="translate(1956 495.6) rotate(-90)" text-anchor="middle">Electric Field/Ey</text></g>
<g><rect x="2172.5" y="174.35" width="516" height="645" fill="none" stroke="#000" stroke-width="3.33"/><rect x="2703.6" y="174.35" width="25.8" height="645" fill="none" stroke="#000" stroke-width="3.33"/><path d="M2172.5 819.35h-14.6M2172.5 733.35h-14.6M2172.5 647.35h-14.6M2172.5 561.35h-14.6M2172.5 475.35h-14.6M2172.5 389.35h-14.6M2172.5 303.35h-14.6M2172.5 217.35h-14.6M2172.5 819.35v14.6M2258.5 819.35v14.6M2344.5 819.35v14.6M2430.5 819.35v14.6M2516.5 819.35v14.6M2602.5 819.35v14.6M2688.5 819.35v14.6M2729.4 414.39h15.2M2729.4 378.26h15.2M2729.4 357.13h15.2M2729.4 342.13h15.2M2729.4 330.5h15.2M2729.4 321h15.2M2729.4 312.96h15.2M2729.4 306h15.2M2729.4 299.86h15.2M2729.4 294.37h15.2M2729.4 258.24h15.2M2729.4 237.11h15.2M2729.4 222.11h15.2M2729.4 210.48h15.2M2729.4 200.98h15.2M2729.4 192.94h15.2M2729.4 185.98h15.2M2729.4 179.84h15.2M2729.4 174.35h15.2M2729.4 579.31h15.2M2729.4 615.44h15.2M2729.4 636.57h15.2M2729.4 651.57h15.2M2729.4 663.2h15.2M2729.4 672.7h15.2M2729.4 680.74h15.2M2729.4 687.7h15.2M2729.4 693.84h15.2M2729.4 699.33h15.2M2729.4 735.46h15.2M2729.4 756.59h15.2M2729.4 771.59h15.2M2729.4 783.22h15.2M2729.4 792.72h15.2M2729.4 800.76h15.2M2729.4 807.72h15.2M2729.4 813.86h15.2M2729.4 819.35h15.2M2729.4 496.85h15.2" stroke="#000" stroke-width="3.33" fill="none"/><path d="M2172.5 776.35h-8.3M2172.5 690.35h-8.3M2172.5 604.35h-8.3M2172.5 518.35h-8.3M2172.5 432.35h-8.3M2172.5 346.35h-8.3M2172.5 260.35h-8.3M2172.5 174.35h-8.3M2215.5 819.35v8.3M2301.5 819.35v8.3M2387.5 819.35v8.3M2473.5 819.35v8.3M2559.5 819.35v8.3M2645.5 819.35v8.3" stroke="#000" stroke-width="2.5" fill="none"/><text x="2142.8" y="235.15" text-anchor="end">8</text><text x="2142.8" y="321.15" text-anchor="end">6</text><text x="2142.8" y="407.15" text-anchor="end">4</text><text x="2142.8" y="493.15" text-anchor="end">2</text><text x="2142.8" y="579.15" text-anchor="end">0</text><text transform="translate(2076.7 673) scale(1.31 .9)">−</text><text x="2114.5" y="669.55">2</text><text transform="translate(2076.7 759) scale(1.31 .9)">−</text><text x="2114.5" y="755.55">4</text><text transform="translate(2076.7 845) scale(1.31 .9)">−</text><text x="2114.5" y="841.55">6</text><text x="2429.7" y="885.2" text-anchor="middle">0</text><text x="2515.7" y="885.2" text-anchor="middle">2</text><text x="2601.7" y="885.2" text-anchor="middle">4</text><text x="2687.7" y="885.2" text-anchor="middle">6</text><text transform="translate(2308.7 892.45) scale(1.31 .9)">−</text><text x="2346.5" y="889">2</text><text transform="translate(2222.7 892.45) scale(1.31 .9)">−</text><text x="2260.5" y="889">4</text><text transform="translate(2136.7 892.45) scale(1.31 .9)">−</text><text x="2174.5" y="889">6</text><text x="2430.1" y="950.3" text-anchor="middle">y [micron]</text><text transform="translate(2053.6 495.4) rotate(-90)" text-anchor="middle">x [micron]</text><text x="2754.6" y="191.95">10<tspan font-size="35" dy="-17.7">13</tspan></text><text transform="translate(2755 844.3) scale(1.31 .9)">−</text><text x="2794" y="840.85">10<tspan font-size="35" dy="-18.8">13</tspan></text><text x="2754.6" y="311.97">10<tspan font-size="35" dy="-17.7">12</tspan></text><text transform="translate(2755 724.28) scale(1.31 .9)">−</text><text x="2794" y="720.83">10<tspan font-size="35" dy="-18.8">12</tspan></text><text x="2754.6" y="431.99">10<tspan font-size="35" dy="-17.7">11</tspan></text><text transform="translate(2755 604.26) scale(1.31 .9)">−</text><text x="2794" y="600.81">10<tspan font-size="35" dy="-18.8">11</tspan></text><text x="2757.2" y="514.45">0</text><text transform="translate(2938 495.6) rotate(-90)" text-anchor="middle">Electric Field/Ez</text></g>
</g></svg>
</div></body></html>
